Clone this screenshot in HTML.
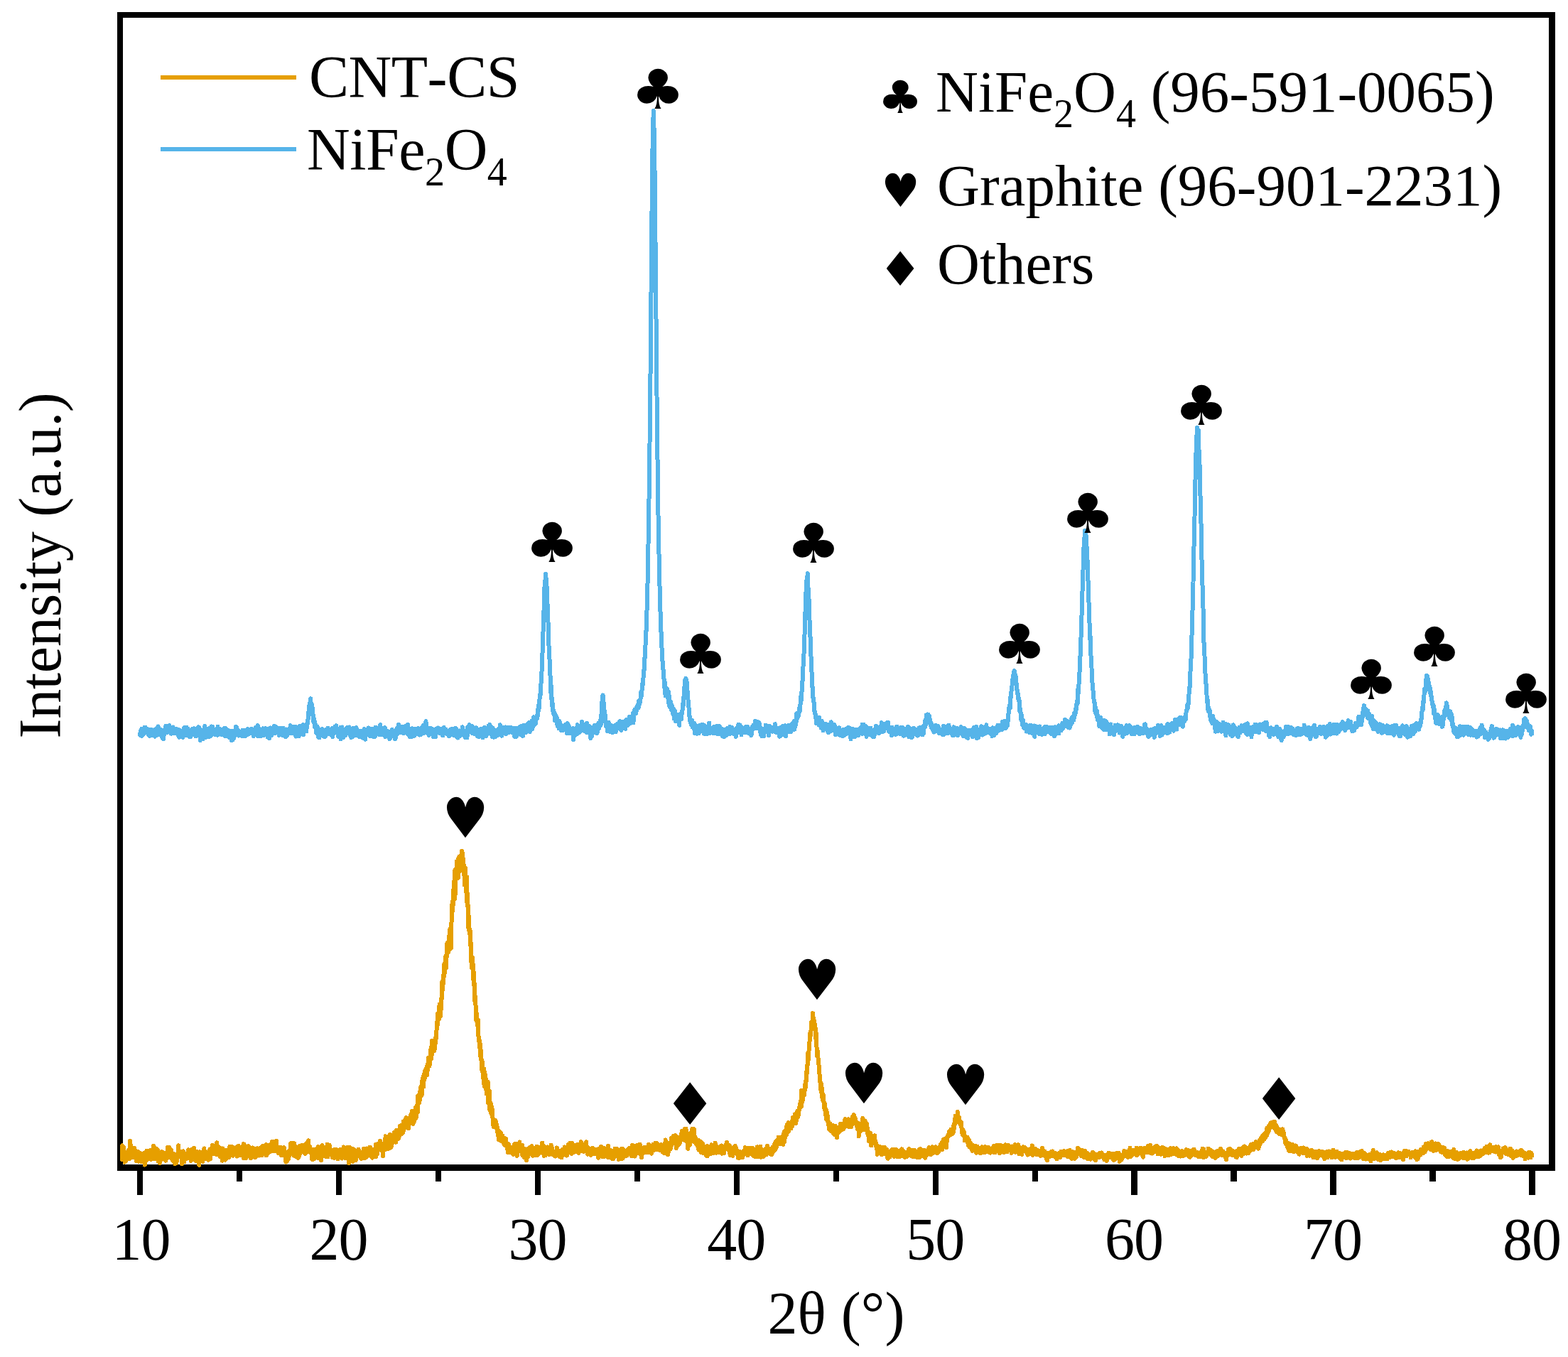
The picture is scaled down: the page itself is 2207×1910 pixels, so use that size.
<!DOCTYPE html>
<html lang="en"><head><meta charset="utf-8"><title>XRD patterns of CNT-CS and NiFe2O4</title>
<style>
html,body{margin:0;padding:0;background:#fff;}
body{width:2207px;height:1910px;overflow:hidden;}
svg{display:block;}
text{font-family:"Liberation Serif","DejaVu Serif",serif;fill:#000;font-kerning:none;}
.ds{font-family:"DejaVu Sans","Liberation Serif",sans-serif;}
</style></head><body>
<svg width="2207" height="1910" viewBox="0 0 2207 1910" role="img" aria-label="XRD patterns of CNT-CS and NiFe2O4">
<rect x="0" y="0" width="2207" height="1910" fill="#fff"/>
<defs><clipPath id="plotclip"><rect x="169" y="21" width="2016" height="1627"/></clipPath></defs>
<g fill="#000" shape-rendering="crispEdges">
<rect x="165" y="17" width="8" height="1631"/>
<rect x="165" y="17" width="2024" height="8"/>
<rect x="2180" y="17" width="9" height="1631"/>
<rect x="165" y="1639" width="2024" height="9"/>
<rect x="193" y="1647" width="8" height="35"/>
<rect x="333" y="1647" width="8" height="16"/>
<rect x="473" y="1647" width="8" height="35"/>
<rect x="613" y="1647" width="8" height="16"/>
<rect x="753" y="1647" width="8" height="35"/>
<rect x="893" y="1647" width="8" height="16"/>
<rect x="1033" y="1647" width="8" height="35"/>
<rect x="1173" y="1647" width="8" height="16"/>
<rect x="1313" y="1647" width="8" height="35"/>
<rect x="1453" y="1647" width="8" height="16"/>
<rect x="1592" y="1647" width="9" height="35"/>
<rect x="1732" y="1647" width="9" height="16"/>
<rect x="1872" y="1647" width="9" height="35"/>
<rect x="2012" y="1647" width="9" height="16"/>
<rect x="2152" y="1647" width="9" height="35"/>
</g>
<g clip-path="url(#plotclip)" fill="none" stroke-linejoin="round" stroke-linecap="butt" shape-rendering="crispEdges">
<path d="M163.4,1628.6L163.7,1626.9L164.0,1625.4L164.2,1615.3L164.5,1626.4L164.8,1615.0L165.1,1627.3L165.4,1625.3L165.6,1625.6L165.9,1625.0L166.2,1622.3L166.5,1618.4L166.8,1619.0L167.0,1626.6L167.3,1617.8L167.6,1619.5L167.9,1617.7L168.2,1618.9L168.4,1620.3L168.7,1623.1L169.0,1621.1L169.3,1621.1L169.6,1620.1L169.8,1623.0L170.1,1616.7L170.4,1622.2L170.7,1627.0L171.0,1617.6L171.2,1620.1L171.5,1631.7L171.8,1615.2L172.1,1612.3L172.4,1617.3L172.6,1626.9L172.9,1628.2L173.2,1615.0L173.5,1623.3L173.8,1621.7L174.0,1620.0L174.3,1615.2L174.6,1628.7L174.9,1621.7L175.2,1627.5L175.4,1627.4L175.7,1635.7L176.0,1633.4L176.3,1624.2L176.6,1628.4L176.8,1634.2L177.1,1624.4L177.4,1628.4L177.7,1631.0L178.0,1623.0L178.2,1624.3L178.5,1621.9L178.8,1629.8L179.1,1625.6L179.4,1631.2L179.6,1627.0L179.9,1628.2L180.2,1624.7L180.5,1627.5L180.8,1623.2L181.0,1618.9L181.3,1627.5L181.6,1626.3L181.9,1631.4L182.2,1621.1L182.4,1619.2L182.7,1615.7L183.0,1605.6L183.3,1616.6L183.6,1624.4L183.8,1618.9L184.1,1611.9L184.4,1625.6L184.7,1620.7L185.0,1621.7L185.2,1621.5L185.5,1622.7L185.8,1625.2L186.1,1615.8L186.4,1622.0L186.6,1620.7L186.9,1627.4L187.2,1618.1L187.5,1629.2L187.8,1624.7L188.0,1628.8L188.3,1619.0L188.6,1625.4L188.9,1623.6L189.2,1616.0L189.4,1621.6L189.7,1621.3L190.0,1619.8L190.3,1621.4L190.6,1619.4L190.8,1624.4L191.1,1628.7L191.4,1624.9L191.7,1622.4L192.0,1634.0L192.2,1628.6L192.5,1630.6L192.8,1629.6L193.1,1628.3L193.4,1632.8L193.6,1627.7L193.9,1629.5L194.2,1622.6L194.5,1621.1L194.8,1625.6L195.0,1634.6L195.3,1626.7L195.6,1633.5L195.9,1626.9L196.2,1626.7L196.4,1622.2L196.7,1624.6L197.0,1632.4L197.3,1630.1L197.6,1622.9L197.8,1624.0L198.1,1632.0L198.4,1624.8L198.7,1631.3L199.0,1624.1L199.2,1631.0L199.5,1635.1L199.8,1632.6L200.1,1630.3L200.4,1630.0L200.6,1629.2L200.9,1629.4L201.2,1634.4L201.5,1634.1L201.8,1630.9L202.0,1623.7L202.3,1626.7L202.6,1630.0L202.9,1628.9L203.2,1623.0L203.4,1631.4L203.7,1639.6L204.0,1623.7L204.3,1629.1L204.6,1635.7L204.8,1627.1L205.1,1627.1L205.4,1629.4L205.7,1630.9L206.0,1626.5L206.2,1632.0L206.5,1619.6L206.8,1630.0L207.1,1628.5L207.4,1626.0L207.6,1628.0L207.9,1626.4L208.2,1631.7L208.5,1624.3L208.8,1626.1L209.0,1620.7L209.3,1622.0L209.6,1625.9L209.9,1620.7L210.2,1623.8L210.4,1622.0L210.7,1625.5L211.0,1628.0L211.3,1631.3L211.6,1619.1L211.8,1626.0L212.1,1630.1L212.4,1631.9L212.7,1631.7L213.0,1619.5L213.2,1623.1L213.5,1627.4L213.8,1628.8L214.1,1626.0L214.4,1625.9L214.6,1625.8L214.9,1621.6L215.2,1625.5L215.5,1628.2L215.8,1623.4L216.0,1629.6L216.3,1612.8L216.6,1623.2L216.9,1631.4L217.2,1627.9L217.4,1630.1L217.7,1624.6L218.0,1619.0L218.3,1621.7L218.6,1630.1L218.8,1616.1L219.1,1619.7L219.4,1616.4L219.7,1621.2L220.0,1621.6L220.2,1625.6L220.5,1619.8L220.8,1630.4L221.1,1626.1L221.4,1621.8L221.6,1620.0L221.9,1618.4L222.2,1625.8L222.5,1634.3L222.8,1626.2L223.0,1623.4L223.3,1628.3L223.6,1627.1L223.9,1626.2L224.2,1622.6L224.4,1630.6L224.7,1637.1L225.0,1636.0L225.3,1634.7L225.6,1631.0L225.8,1631.5L226.1,1632.9L226.4,1627.7L226.7,1628.2L227.0,1624.6L227.2,1630.3L227.5,1621.2L227.8,1627.5L228.1,1628.1L228.4,1628.1L228.6,1627.8L228.9,1623.3L229.2,1623.3L229.5,1624.4L229.8,1625.1L230.0,1622.3L230.3,1625.5L230.6,1624.8L230.9,1623.5L231.2,1628.8L231.4,1623.9L231.7,1627.7L232.0,1632.3L232.3,1632.7L232.6,1625.3L232.8,1628.9L233.1,1625.3L233.4,1633.8L233.7,1630.5L234.0,1628.1L234.2,1622.7L234.5,1622.2L234.8,1625.5L235.1,1623.1L235.4,1622.3L235.6,1626.2L235.9,1618.1L236.2,1615.0L236.5,1619.1L236.7,1618.5L237.0,1623.0L237.3,1619.7L237.6,1622.5L237.9,1615.0L238.1,1629.5L238.4,1625.0L238.7,1619.8L239.0,1624.7L239.3,1628.6L239.5,1627.0L239.8,1623.2L240.1,1626.3L240.4,1627.6L240.7,1619.1L240.9,1618.4L241.2,1622.2L241.5,1629.0L241.8,1631.4L242.1,1626.1L242.3,1632.1L242.6,1630.3L242.9,1626.2L243.2,1623.7L243.5,1624.6L243.7,1628.0L244.0,1634.1L244.3,1632.3L244.6,1624.1L244.9,1625.1L245.1,1634.2L245.4,1632.3L245.7,1628.0L246.0,1635.1L246.3,1638.2L246.5,1635.8L246.8,1632.8L247.1,1637.5L247.4,1629.8L247.7,1628.2L247.9,1626.0L248.2,1636.8L248.5,1636.8L248.8,1626.9L249.1,1628.6L249.3,1627.2L249.6,1628.4L249.9,1628.9L250.2,1626.3L250.5,1622.8L250.7,1620.9L251.0,1618.9L251.3,1612.4L251.6,1623.1L251.9,1620.4L252.1,1624.3L252.4,1624.1L252.7,1620.7L253.0,1623.2L253.3,1627.2L253.5,1626.4L253.8,1622.2L254.1,1622.8L254.4,1628.4L254.7,1627.1L254.9,1627.6L255.2,1625.9L255.5,1629.9L255.8,1627.6L256.1,1638.0L256.3,1626.1L256.6,1625.6L256.9,1635.8L257.2,1629.0L257.5,1626.4L257.7,1631.5L258.0,1620.3L258.3,1631.7L258.6,1630.0L258.9,1631.0L259.1,1626.6L259.4,1635.3L259.7,1631.2L260.0,1629.8L260.3,1631.4L260.5,1626.5L260.8,1629.3L261.1,1623.5L261.4,1624.9L261.7,1630.3L261.9,1629.1L262.2,1631.2L262.5,1624.9L262.8,1626.7L263.1,1623.9L263.3,1627.3L263.6,1629.2L263.9,1630.2L264.2,1628.0L264.5,1622.5L264.7,1626.7L265.0,1621.7L265.3,1618.4L265.6,1627.2L265.9,1627.1L266.1,1630.0L266.4,1630.5L266.7,1622.3L267.0,1623.7L267.3,1627.5L267.5,1627.8L267.8,1629.1L268.1,1621.9L268.4,1625.9L268.7,1629.1L268.9,1633.8L269.2,1620.3L269.5,1631.5L269.8,1623.1L270.1,1617.8L270.3,1628.7L270.6,1618.5L270.9,1617.9L271.2,1625.6L271.5,1627.1L271.7,1623.4L272.0,1620.7L272.3,1618.1L272.6,1625.2L272.9,1615.8L273.1,1620.0L273.4,1630.8L273.7,1629.4L274.0,1632.3L274.3,1629.3L274.5,1623.2L274.8,1630.0L275.1,1620.8L275.4,1631.2L275.7,1634.0L275.9,1624.4L276.2,1632.8L276.5,1628.8L276.8,1628.0L277.1,1620.6L277.3,1628.0L277.6,1632.1L277.9,1621.5L278.2,1626.4L278.5,1625.4L278.7,1621.5L279.0,1632.1L279.3,1627.7L279.6,1627.6L279.9,1631.1L280.1,1623.8L280.4,1639.8L280.7,1624.4L281.0,1621.3L281.3,1628.4L281.5,1627.2L281.8,1621.7L282.1,1621.9L282.4,1628.9L282.7,1626.8L282.9,1627.4L283.2,1629.3L283.5,1623.3L283.8,1630.9L284.1,1625.8L284.3,1628.5L284.6,1621.7L284.9,1628.3L285.2,1626.3L285.5,1635.0L285.7,1624.2L286.0,1631.0L286.3,1627.4L286.6,1631.3L286.9,1626.0L287.1,1627.2L287.4,1616.4L287.7,1620.5L288.0,1630.1L288.3,1627.7L288.5,1629.2L288.8,1625.1L289.1,1629.3L289.4,1624.6L289.7,1625.8L289.9,1630.9L290.2,1630.3L290.5,1624.1L290.8,1626.0L291.1,1626.7L291.3,1625.2L291.6,1625.3L291.9,1621.9L292.2,1628.0L292.5,1621.4L292.7,1621.6L293.0,1630.5L293.3,1632.7L293.6,1632.6L293.9,1626.4L294.1,1622.6L294.4,1627.6L294.7,1630.8L295.0,1624.8L295.3,1622.6L295.5,1617.4L295.8,1617.3L296.1,1631.1L296.4,1618.0L296.7,1621.1L296.9,1622.4L297.2,1624.4L297.5,1617.7L297.8,1624.9L298.1,1624.4L298.3,1621.7L298.6,1618.3L298.9,1618.8L299.2,1612.0L299.5,1621.9L299.7,1616.9L300.0,1613.2L300.3,1618.5L300.6,1620.6L300.9,1620.1L301.1,1621.3L301.4,1623.7L301.7,1617.1L302.0,1620.2L302.3,1620.7L302.5,1613.9L302.8,1624.4L303.1,1618.8L303.4,1621.3L303.7,1621.6L303.9,1617.1L304.2,1623.8L304.5,1624.4L304.8,1621.0L305.1,1608.4L305.3,1625.4L305.6,1619.0L305.9,1616.6L306.2,1616.5L306.5,1614.2L306.7,1616.9L307.0,1620.8L307.3,1613.9L307.6,1619.5L307.9,1616.6L308.1,1618.4L308.4,1618.5L308.7,1621.8L309.0,1625.2L309.3,1621.5L309.5,1625.5L309.8,1628.1L310.1,1616.2L310.4,1625.2L310.7,1620.7L310.9,1621.0L311.2,1625.5L311.5,1620.5L311.8,1618.8L312.1,1626.6L312.3,1625.9L312.6,1623.5L312.9,1633.6L313.2,1618.5L313.5,1616.3L313.7,1622.4L314.0,1619.2L314.3,1625.8L314.6,1622.3L314.9,1622.8L315.1,1625.6L315.4,1622.5L315.7,1618.4L316.0,1623.4L316.2,1629.2L316.5,1627.2L316.8,1629.9L317.1,1632.6L317.4,1629.0L317.6,1624.8L317.9,1621.5L318.2,1626.1L318.5,1630.4L318.8,1629.3L319.0,1627.1L319.3,1620.0L319.6,1625.6L319.9,1626.2L320.2,1628.5L320.4,1618.6L320.7,1621.1L321.0,1624.8L321.3,1624.9L321.6,1622.1L321.8,1626.6L322.1,1623.2L322.4,1628.7L322.7,1621.8L323.0,1624.1L323.2,1614.1L323.5,1622.8L323.8,1618.6L324.1,1623.6L324.4,1619.5L324.6,1624.7L324.9,1617.3L325.2,1613.5L325.5,1620.3L325.8,1621.7L326.0,1616.5L326.3,1614.5L326.6,1623.0L326.9,1624.4L327.2,1623.2L327.4,1620.6L327.7,1620.1L328.0,1626.7L328.3,1623.1L328.6,1616.0L328.8,1615.1L329.1,1621.9L329.4,1622.4L329.7,1617.0L330.0,1616.6L330.2,1623.9L330.5,1619.1L330.8,1624.3L331.1,1616.9L331.4,1617.9L331.6,1615.4L331.9,1622.7L332.2,1621.4L332.5,1616.4L332.8,1623.8L333.0,1620.8L333.3,1621.6L333.6,1627.6L333.9,1625.1L334.2,1622.3L334.4,1618.1L334.7,1613.8L335.0,1615.2L335.3,1615.7L335.6,1621.8L335.8,1612.7L336.1,1614.1L336.4,1616.3L336.7,1618.2L337.0,1621.4L337.2,1622.9L337.5,1617.4L337.8,1626.4L338.1,1621.8L338.4,1616.3L338.6,1615.9L338.9,1618.5L339.2,1619.3L339.5,1623.6L339.8,1617.1L340.0,1618.0L340.3,1616.7L340.6,1621.0L340.9,1613.8L341.2,1621.7L341.4,1616.1L341.7,1618.2L342.0,1620.6L342.3,1620.0L342.6,1629.9L342.8,1614.9L343.1,1610.1L343.4,1613.3L343.7,1622.0L344.0,1614.4L344.2,1622.9L344.5,1618.0L344.8,1622.0L345.1,1612.9L345.4,1623.4L345.6,1623.9L345.9,1615.6L346.2,1624.7L346.5,1630.1L346.8,1619.5L347.0,1615.9L347.3,1617.4L347.6,1618.8L347.9,1624.2L348.2,1627.7L348.4,1618.8L348.7,1619.7L349.0,1615.2L349.3,1618.9L349.6,1623.1L349.8,1613.3L350.1,1624.3L350.4,1625.4L350.7,1626.8L351.0,1619.8L351.2,1616.0L351.5,1621.3L351.8,1618.4L352.1,1615.5L352.4,1619.6L352.6,1617.0L352.9,1630.4L353.2,1625.5L353.5,1626.0L353.8,1617.9L354.0,1627.8L354.3,1620.7L354.6,1625.6L354.9,1618.0L355.2,1624.6L355.4,1615.4L355.7,1621.5L356.0,1621.3L356.3,1616.8L356.6,1622.5L356.8,1620.3L357.1,1621.1L357.4,1625.7L357.7,1628.1L358.0,1622.1L358.2,1628.2L358.5,1627.1L358.8,1626.1L359.1,1629.5L359.4,1617.1L359.6,1628.5L359.9,1624.6L360.2,1621.5L360.5,1622.3L360.8,1626.9L361.0,1627.5L361.3,1625.4L361.6,1617.6L361.9,1616.2L362.2,1622.0L362.4,1624.1L362.7,1618.6L363.0,1624.7L363.3,1623.5L363.6,1622.9L363.8,1617.8L364.1,1625.9L364.4,1624.8L364.7,1626.5L365.0,1622.7L365.2,1616.3L365.5,1623.0L365.8,1625.1L366.1,1621.2L366.4,1617.3L366.6,1624.1L366.9,1624.3L367.2,1616.6L367.5,1618.4L367.8,1615.2L368.0,1621.8L368.3,1620.8L368.6,1626.5L368.9,1615.5L369.2,1624.0L369.4,1617.3L369.7,1618.9L370.0,1612.5L370.3,1617.3L370.6,1614.8L370.8,1616.3L371.1,1617.4L371.4,1618.6L371.7,1620.0L372.0,1616.6L372.2,1613.2L372.5,1621.0L372.8,1617.4L373.1,1614.8L373.4,1622.8L373.6,1618.7L373.9,1620.6L374.2,1611.2L374.5,1615.7L374.8,1626.4L375.0,1620.7L375.3,1621.0L375.6,1616.6L375.9,1619.3L376.2,1621.7L376.4,1620.3L376.7,1620.4L377.0,1614.1L377.3,1617.9L377.6,1619.2L377.8,1623.0L378.1,1622.4L378.4,1619.7L378.7,1616.3L379.0,1615.5L379.2,1618.6L379.5,1611.5L379.8,1615.2L380.1,1614.1L380.4,1613.8L380.6,1620.9L380.9,1613.3L381.2,1617.1L381.5,1619.9L381.8,1615.6L382.0,1613.7L382.3,1608.8L382.6,1620.5L382.9,1609.9L383.2,1606.5L383.4,1619.2L383.7,1609.5L384.0,1610.8L384.3,1613.0L384.6,1611.4L384.8,1607.6L385.1,1617.1L385.4,1618.3L385.7,1619.3L386.0,1616.1L386.2,1614.4L386.5,1613.7L386.8,1620.3L387.1,1618.6L387.4,1613.3L387.6,1616.2L387.9,1610.2L388.2,1617.0L388.5,1610.9L388.8,1614.9L389.0,1615.0L389.3,1605.8L389.6,1619.6L389.9,1617.4L390.2,1615.0L390.4,1615.8L390.7,1618.8L391.0,1619.0L391.3,1621.8L391.6,1620.9L391.8,1622.9L392.1,1621.5L392.4,1615.1L392.7,1615.0L393.0,1622.2L393.2,1621.8L393.5,1620.1L393.8,1614.9L394.1,1617.2L394.3,1616.7L394.6,1622.5L394.9,1616.8L395.2,1614.7L395.5,1617.0L395.7,1621.4L396.0,1626.4L396.3,1618.3L396.6,1624.6L396.9,1618.3L397.1,1618.2L397.4,1616.3L397.7,1622.4L398.0,1617.2L398.3,1622.6L398.5,1617.2L398.8,1625.6L399.1,1619.8L399.4,1619.5L399.7,1615.1L399.9,1625.4L400.2,1622.2L400.5,1622.1L400.8,1622.7L401.1,1621.5L401.3,1622.1L401.6,1626.2L401.9,1622.4L402.2,1625.6L402.5,1635.6L402.7,1626.8L403.0,1626.7L403.3,1631.8L403.6,1625.0L403.9,1634.6L404.1,1629.5L404.4,1625.2L404.7,1629.3L405.0,1627.1L405.3,1632.2L405.5,1627.3L405.8,1631.3L406.1,1620.3L406.4,1625.2L406.7,1628.1L406.9,1626.9L407.2,1624.1L407.5,1625.9L407.8,1625.1L408.1,1621.3L408.3,1621.4L408.6,1623.5L408.9,1620.2L409.2,1609.2L409.5,1612.7L409.7,1616.1L410.0,1621.0L410.3,1618.5L410.6,1620.6L410.9,1621.9L411.1,1620.0L411.4,1614.2L411.7,1621.1L412.0,1612.6L412.3,1612.8L412.5,1616.0L412.8,1608.9L413.1,1624.1L413.4,1626.7L413.7,1616.9L413.9,1616.0L414.2,1609.4L414.5,1619.7L414.8,1615.1L415.1,1613.3L415.3,1613.0L415.6,1618.4L415.9,1618.5L416.2,1619.5L416.5,1618.3L416.7,1614.8L417.0,1627.8L417.3,1626.1L417.6,1621.4L417.9,1619.1L418.1,1620.9L418.4,1627.9L418.7,1627.3L419.0,1626.4L419.3,1629.8L419.5,1622.6L419.8,1629.8L420.1,1624.2L420.4,1620.0L420.7,1624.1L420.9,1622.6L421.2,1618.0L421.5,1626.9L421.8,1613.1L422.1,1619.8L422.3,1619.9L422.6,1615.2L422.9,1617.8L423.2,1622.3L423.5,1612.6L423.7,1612.5L424.0,1615.2L424.3,1618.3L424.6,1620.6L424.9,1618.6L425.1,1612.1L425.4,1621.0L425.7,1619.8L426.0,1621.5L426.3,1611.7L426.5,1612.1L426.8,1616.6L427.1,1618.0L427.4,1620.1L427.7,1616.4L427.9,1616.7L428.2,1622.5L428.5,1612.6L428.8,1615.9L429.1,1620.1L429.3,1622.3L429.6,1619.7L429.9,1624.0L430.2,1618.2L430.5,1618.9L430.7,1618.5L431.0,1614.9L431.3,1609.1L431.6,1612.7L431.9,1612.8L432.1,1610.2L432.4,1616.1L432.7,1611.7L433.0,1608.3L433.3,1614.3L433.5,1610.9L433.8,1617.1L434.1,1605.3L434.4,1609.0L434.7,1615.7L434.9,1616.7L435.2,1616.1L435.5,1621.6L435.8,1614.9L436.1,1614.0L436.3,1619.3L436.6,1615.2L436.9,1618.3L437.2,1622.2L437.5,1617.4L437.7,1618.3L438.0,1617.3L438.3,1622.0L438.6,1623.8L438.9,1626.4L439.1,1625.9L439.4,1631.9L439.7,1625.7L440.0,1626.4L440.3,1625.5L440.5,1632.0L440.8,1627.9L441.1,1626.8L441.4,1623.1L441.7,1627.6L441.9,1631.2L442.2,1617.9L442.5,1623.1L442.8,1623.3L443.1,1623.1L443.3,1625.8L443.6,1623.6L443.9,1624.9L444.2,1624.9L444.5,1628.3L444.7,1621.7L445.0,1623.5L445.3,1620.9L445.6,1622.0L445.9,1619.8L446.1,1616.6L446.4,1622.4L446.7,1625.1L447.0,1617.6L447.3,1621.3L447.5,1621.7L447.8,1614.2L448.1,1630.0L448.4,1628.7L448.7,1628.1L448.9,1627.8L449.2,1621.3L449.5,1615.7L449.8,1624.9L450.1,1625.7L450.3,1624.5L450.6,1624.0L450.9,1629.3L451.2,1628.5L451.5,1625.3L451.7,1623.2L452.0,1633.3L452.3,1627.5L452.6,1624.3L452.9,1618.6L453.1,1617.2L453.4,1612.2L453.7,1621.2L454.0,1622.9L454.3,1620.8L454.5,1621.2L454.8,1622.0L455.1,1624.1L455.4,1614.3L455.7,1616.3L455.9,1624.3L456.2,1622.1L456.5,1623.0L456.8,1617.5L457.1,1627.0L457.3,1621.9L457.6,1620.7L457.9,1618.4L458.2,1622.5L458.5,1622.5L458.7,1621.6L459.0,1628.1L459.3,1626.4L459.6,1621.9L459.9,1619.6L460.1,1620.0L460.4,1622.7L460.7,1610.8L461.0,1622.1L461.3,1619.9L461.5,1628.5L461.8,1622.0L462.1,1619.6L462.4,1620.2L462.7,1617.4L462.9,1617.0L463.2,1619.1L463.5,1611.7L463.8,1619.1L464.1,1612.7L464.3,1616.3L464.6,1616.3L464.9,1621.8L465.2,1625.3L465.5,1625.0L465.7,1618.2L466.0,1619.4L466.3,1620.7L466.6,1621.4L466.9,1625.3L467.1,1623.9L467.4,1621.6L467.7,1629.1L468.0,1625.6L468.3,1629.4L468.5,1622.6L468.8,1625.2L469.1,1624.6L469.4,1624.2L469.7,1619.9L469.9,1624.8L470.2,1618.4L470.5,1625.2L470.8,1630.0L471.1,1627.6L471.3,1624.2L471.6,1621.7L471.9,1625.4L472.2,1618.6L472.5,1617.9L472.7,1617.7L473.0,1624.2L473.3,1618.1L473.6,1625.6L473.8,1627.7L474.1,1626.9L474.4,1624.4L474.7,1626.7L475.0,1620.8L475.2,1626.1L475.5,1631.5L475.8,1630.4L476.1,1618.8L476.4,1623.9L476.6,1622.4L476.9,1626.5L477.2,1623.6L477.5,1621.7L477.8,1619.4L478.0,1622.2L478.3,1621.0L478.6,1622.0L478.9,1621.5L479.2,1617.9L479.4,1624.5L479.7,1625.1L480.0,1624.7L480.3,1625.2L480.6,1629.0L480.8,1628.6L481.1,1630.6L481.4,1626.9L481.7,1627.1L482.0,1623.8L482.2,1619.4L482.5,1618.6L482.8,1624.7L483.1,1623.1L483.4,1624.7L483.6,1614.4L483.9,1622.3L484.2,1623.9L484.5,1622.5L484.8,1623.3L485.0,1618.0L485.3,1624.5L485.6,1629.7L485.9,1621.0L486.2,1627.2L486.4,1622.3L486.7,1625.4L487.0,1629.7L487.3,1624.2L487.6,1625.0L487.8,1625.7L488.1,1622.9L488.4,1627.4L488.7,1615.2L489.0,1621.4L489.2,1615.5L489.5,1617.0L489.8,1622.7L490.1,1618.4L490.4,1621.4L490.6,1628.1L490.9,1625.2L491.2,1637.2L491.5,1623.1L491.8,1623.9L492.0,1614.7L492.3,1623.9L492.6,1622.4L492.9,1626.0L493.2,1624.5L493.4,1622.0L493.7,1617.2L494.0,1627.2L494.3,1621.8L494.6,1618.0L494.8,1625.8L495.1,1617.0L495.4,1622.1L495.7,1616.8L496.0,1623.3L496.2,1618.1L496.5,1635.1L496.8,1628.5L497.1,1626.1L497.4,1625.6L497.6,1626.7L497.9,1627.3L498.2,1625.2L498.5,1620.1L498.8,1624.8L499.0,1618.4L499.3,1622.9L499.6,1625.8L499.9,1620.3L500.2,1626.1L500.4,1622.7L500.7,1633.4L501.0,1623.2L501.3,1626.4L501.6,1626.8L501.8,1624.8L502.1,1625.2L502.4,1622.7L502.7,1623.7L503.0,1623.4L503.2,1625.3L503.5,1626.5L503.8,1621.4L504.1,1626.4L504.4,1621.0L504.6,1617.6L504.9,1619.6L505.2,1619.0L505.5,1620.9L505.8,1622.5L506.0,1623.5L506.3,1627.6L506.6,1626.5L506.9,1622.7L507.2,1626.7L507.4,1624.8L507.7,1628.3L508.0,1630.3L508.3,1625.4L508.6,1628.8L508.8,1631.0L509.1,1627.2L509.4,1621.6L509.7,1625.0L510.0,1621.8L510.2,1628.4L510.5,1625.1L510.8,1625.2L511.1,1630.3L511.4,1626.4L511.6,1624.1L511.9,1617.0L512.2,1621.9L512.5,1621.5L512.8,1623.7L513.0,1620.1L513.3,1627.3L513.6,1629.8L513.9,1624.1L514.2,1620.2L514.4,1626.0L514.7,1624.8L515.0,1629.2L515.3,1625.3L515.6,1622.7L515.8,1620.2L516.1,1625.2L516.4,1616.5L516.7,1620.9L517.0,1627.5L517.2,1624.2L517.5,1624.4L517.8,1623.4L518.1,1618.9L518.4,1622.1L518.6,1624.8L518.9,1624.5L519.2,1618.2L519.5,1621.8L519.8,1624.5L520.0,1621.7L520.3,1626.1L520.6,1620.5L520.9,1614.5L521.2,1620.6L521.4,1621.5L521.7,1623.7L522.0,1623.5L522.3,1627.5L522.6,1624.4L522.8,1623.2L523.1,1620.7L523.4,1621.8L523.7,1627.4L524.0,1629.6L524.2,1623.9L524.5,1623.2L524.8,1621.7L525.1,1623.2L525.4,1622.4L525.6,1620.2L525.9,1625.2L526.2,1617.7L526.5,1622.1L526.8,1622.0L527.0,1623.6L527.3,1620.4L527.6,1617.2L527.9,1620.1L528.2,1616.3L528.4,1618.5L528.7,1616.6L529.0,1628.1L529.3,1610.7L529.6,1613.9L529.8,1622.5L530.1,1616.8L530.4,1612.1L530.7,1619.1L531.0,1624.1L531.2,1616.0L531.5,1618.6L531.8,1609.8L532.1,1612.1L532.4,1614.5L532.6,1613.9L532.9,1610.1L533.2,1610.0L533.5,1609.4L533.8,1608.4L534.0,1609.0L534.3,1608.7L534.6,1612.6L534.9,1605.6L535.2,1613.0L535.4,1618.1L535.7,1612.4L536.0,1610.4L536.3,1609.1L536.6,1611.2L536.8,1609.0L537.1,1615.0L537.4,1614.1L537.7,1617.8L538.0,1616.3L538.2,1618.6L538.5,1621.6L538.8,1619.8L539.1,1626.9L539.4,1620.7L539.6,1614.5L539.9,1618.6L540.2,1618.9L540.5,1616.0L540.8,1617.9L541.0,1616.6L541.3,1618.8L541.6,1612.3L541.9,1608.3L542.2,1609.4L542.4,1602.8L542.7,1599.3L543.0,1605.1L543.3,1606.9L543.6,1606.1L543.8,1613.6L544.1,1604.7L544.4,1604.5L544.7,1617.5L545.0,1603.7L545.2,1613.1L545.5,1609.7L545.8,1600.0L546.1,1614.0L546.4,1608.5L546.6,1611.0L546.9,1610.0L547.2,1610.0L547.5,1611.9L547.8,1616.6L548.0,1608.6L548.3,1606.5L548.6,1610.7L548.9,1608.9L549.2,1596.7L549.4,1608.8L549.7,1605.4L550.0,1606.1L550.3,1601.2L550.6,1614.9L550.8,1609.2L551.1,1605.2L551.4,1605.2L551.7,1606.0L551.9,1606.0L552.2,1609.3L552.5,1607.1L552.8,1602.7L553.1,1603.0L553.3,1605.7L553.6,1598.2L553.9,1599.7L554.2,1604.5L554.5,1599.9L554.7,1605.3L555.0,1594.2L555.3,1596.9L555.6,1595.4L555.9,1595.3L556.1,1602.3L556.4,1603.9L556.7,1600.1L557.0,1599.5L557.3,1607.7L557.5,1607.0L557.8,1591.3L558.1,1599.5L558.4,1590.8L558.7,1592.4L558.9,1595.6L559.2,1593.0L559.5,1599.9L559.8,1595.0L560.1,1595.3L560.3,1595.5L560.6,1603.0L560.9,1596.4L561.2,1598.7L561.5,1596.7L561.7,1599.3L562.0,1593.8L562.3,1592.9L562.6,1598.3L562.9,1593.0L563.1,1584.9L563.4,1585.9L563.7,1589.1L564.0,1592.8L564.3,1586.9L564.5,1596.6L564.8,1591.6L565.1,1588.3L565.4,1583.8L565.7,1592.1L565.9,1591.5L566.2,1583.4L566.5,1594.2L566.8,1593.6L567.1,1594.6L567.3,1587.7L567.6,1591.9L567.9,1578.4L568.2,1589.2L568.5,1585.2L568.7,1586.2L569.0,1588.2L569.3,1582.4L569.6,1584.0L569.9,1579.5L570.1,1579.6L570.4,1577.3L570.7,1583.3L571.0,1586.9L571.3,1576.3L571.5,1573.2L571.8,1579.5L572.1,1582.4L572.4,1581.9L572.7,1575.7L572.9,1581.4L573.2,1577.8L573.5,1580.0L573.8,1581.4L574.1,1580.0L574.3,1583.9L574.6,1579.1L574.9,1588.0L575.2,1580.9L575.5,1574.3L575.7,1583.4L576.0,1582.0L576.3,1578.5L576.6,1576.5L576.9,1577.3L577.1,1579.1L577.4,1574.0L577.7,1578.0L578.0,1571.0L578.3,1575.9L578.5,1568.6L578.8,1574.9L579.1,1575.9L579.4,1570.5L579.7,1574.8L579.9,1564.1L580.2,1572.5L580.5,1571.7L580.8,1575.9L581.1,1572.6L581.3,1577.6L581.6,1581.8L581.9,1572.9L582.2,1576.5L582.5,1580.2L582.7,1576.4L583.0,1576.8L583.3,1570.1L583.6,1572.6L583.9,1565.3L584.1,1574.1L584.4,1571.4L584.7,1570.9L585.0,1558.8L585.3,1572.5L585.5,1574.2L585.8,1572.6L586.1,1566.9L586.4,1570.1L586.7,1562.3L586.9,1557.4L587.2,1559.0L587.5,1554.2L587.8,1565.4L588.1,1542.3L588.3,1554.9L588.6,1547.8L588.9,1548.1L589.2,1553.4L589.5,1547.9L589.7,1552.8L590.0,1544.9L590.3,1543.7L590.6,1543.6L590.9,1548.5L591.1,1536.9L591.4,1537.8L591.7,1535.5L592.0,1535.0L592.3,1530.0L592.5,1534.3L592.8,1537.6L593.1,1542.3L593.4,1536.4L593.7,1529.9L593.9,1540.2L594.2,1521.7L594.5,1532.7L594.8,1521.9L595.1,1526.3L595.3,1517.8L595.6,1515.0L595.9,1518.5L596.2,1529.7L596.5,1520.0L596.7,1521.4L597.0,1513.1L597.3,1514.0L597.6,1508.6L597.9,1508.9L598.1,1509.9L598.4,1516.7L598.7,1512.8L599.0,1506.4L599.3,1509.2L599.5,1504.7L599.8,1512.1L600.1,1509.8L600.4,1508.8L600.7,1510.5L600.9,1508.7L601.2,1512.9L601.5,1498.9L601.8,1506.7L602.1,1500.3L602.3,1505.9L602.6,1496.6L602.9,1488.9L603.2,1495.2L603.5,1493.0L603.7,1489.3L604.0,1492.4L604.3,1500.4L604.6,1490.3L604.9,1495.1L605.1,1498.1L605.4,1494.7L605.7,1490.1L606.0,1491.8L606.3,1482.5L606.5,1476.2L606.8,1474.0L607.1,1488.3L607.4,1490.2L607.7,1479.1L607.9,1480.2L608.2,1464.7L608.5,1482.7L608.8,1476.5L609.1,1464.5L609.3,1478.4L609.6,1478.1L609.9,1478.7L610.2,1471.8L610.5,1473.4L610.7,1465.4L611.0,1479.4L611.3,1467.4L611.6,1477.1L611.9,1471.7L612.1,1465.9L612.4,1475.0L612.7,1460.9L613.0,1466.3L613.3,1463.2L613.5,1459.6L613.8,1459.6L614.1,1460.9L614.4,1451.2L614.7,1447.9L614.9,1447.4L615.2,1442.4L615.5,1436.9L615.8,1443.0L616.1,1426.9L616.3,1435.9L616.6,1431.0L616.9,1433.3L617.2,1433.5L617.5,1430.3L617.7,1426.8L618.0,1434.5L618.3,1420.1L618.6,1413.8L618.9,1419.1L619.1,1424.3L619.4,1430.6L619.7,1431.1L620.0,1417.3L620.3,1421.3L620.5,1422.9L620.8,1406.0L621.1,1418.3L621.4,1408.8L621.7,1402.6L621.9,1405.3L622.2,1403.7L622.5,1381.5L622.8,1394.0L623.1,1392.0L623.3,1382.0L623.6,1385.5L623.9,1378.1L624.2,1372.1L624.5,1374.6L624.7,1357.9L625.0,1374.1L625.3,1373.1L625.6,1369.7L625.9,1370.0L626.1,1360.9L626.4,1358.4L626.7,1347.5L627.0,1346.1L627.3,1352.0L627.5,1363.1L627.8,1353.5L628.1,1362.0L628.4,1355.1L628.7,1338.4L628.9,1339.2L629.2,1332.8L629.5,1327.6L629.8,1339.2L630.1,1340.8L630.3,1326.5L630.6,1341.1L630.9,1338.5L631.2,1325.7L631.4,1332.2L631.7,1320.6L632.0,1327.7L632.3,1330.9L632.6,1310.1L632.8,1336.3L633.1,1308.4L633.4,1321.6L633.7,1314.8L634.0,1324.0L634.2,1306.6L634.5,1307.0L634.8,1334.4L635.1,1318.9L635.4,1308.1L635.6,1290.6L635.9,1295.5L636.2,1273.9L636.5,1277.0L636.8,1283.4L637.0,1282.4L637.3,1268.6L637.6,1274.4L637.9,1271.9L638.2,1252.7L638.4,1260.8L638.7,1255.6L639.0,1266.5L639.3,1240.5L639.6,1253.9L639.8,1246.7L640.1,1264.9L640.4,1224.3L640.7,1259.2L641.0,1240.6L641.2,1246.0L641.5,1226.1L641.8,1226.5L642.1,1235.1L642.4,1236.9L642.6,1212.4L642.9,1227.8L643.2,1228.5L643.5,1230.0L643.8,1236.6L644.0,1231.8L644.3,1224.9L644.6,1214.2L644.9,1208.9L645.2,1223.5L645.4,1234.8L645.7,1219.5L646.0,1226.8L646.3,1205.9L646.6,1224.4L646.8,1212.6L647.1,1214.8L647.4,1219.5L647.7,1219.9L648.0,1214.6L648.2,1215.3L648.5,1214.3L648.8,1203.8L649.1,1207.3L649.4,1209.9L649.6,1225.2L649.9,1198.0L650.2,1210.3L650.5,1219.3L650.8,1217.0L651.0,1202.6L651.3,1200.8L651.6,1209.2L651.9,1218.9L652.2,1225.6L652.4,1218.0L652.7,1223.1L653.0,1220.3L653.3,1218.1L653.6,1239.0L653.8,1245.6L654.1,1229.6L654.4,1224.8L654.7,1239.7L655.0,1221.3L655.2,1223.7L655.5,1238.4L655.8,1254.8L656.1,1236.0L656.4,1241.5L656.6,1256.8L656.9,1234.6L657.2,1234.2L657.5,1271.1L657.8,1265.0L658.0,1257.5L658.3,1270.9L658.6,1280.1L658.9,1275.7L659.2,1305.8L659.4,1275.5L659.7,1308.8L660.0,1303.3L660.3,1306.0L660.6,1310.8L660.8,1307.0L661.1,1314.3L661.4,1315.1L661.7,1310.5L662.0,1330.6L662.2,1317.9L662.5,1324.1L662.8,1351.0L663.1,1334.2L663.4,1353.8L663.6,1354.9L663.9,1348.7L664.2,1362.0L664.5,1347.4L664.8,1347.1L665.0,1352.4L665.3,1355.3L665.6,1364.0L665.9,1377.6L666.2,1358.4L666.4,1365.6L666.7,1370.7L667.0,1376.5L667.3,1375.9L667.6,1392.9L667.8,1384.1L668.1,1384.6L668.4,1408.6L668.7,1411.0L669.0,1405.0L669.2,1402.9L669.5,1414.6L669.8,1422.5L670.1,1432.1L670.4,1436.1L670.6,1425.5L670.9,1431.0L671.2,1431.8L671.5,1436.2L671.8,1435.1L672.0,1438.1L672.3,1441.9L672.6,1446.2L672.9,1435.7L673.2,1447.7L673.4,1457.9L673.7,1458.7L674.0,1463.0L674.3,1466.1L674.6,1467.6L674.8,1473.8L675.1,1470.1L675.4,1465.0L675.7,1483.3L676.0,1480.2L676.2,1469.8L676.5,1488.1L676.8,1489.9L677.1,1479.2L677.4,1491.9L677.6,1491.0L677.9,1495.5L678.2,1491.9L678.5,1507.4L678.8,1493.7L679.0,1495.1L679.3,1500.7L679.6,1504.8L679.9,1503.4L680.2,1517.0L680.4,1503.9L680.7,1524.5L681.0,1504.2L681.3,1516.1L681.6,1524.6L681.8,1528.9L682.1,1515.6L682.4,1509.5L682.7,1514.8L683.0,1516.9L683.2,1524.4L683.5,1516.4L683.8,1527.8L684.1,1518.5L684.4,1529.0L684.6,1539.5L684.9,1531.1L685.2,1534.8L685.5,1531.1L685.8,1530.1L686.0,1536.3L686.3,1538.6L686.6,1522.6L686.9,1535.3L687.2,1552.1L687.4,1546.3L687.7,1546.2L688.0,1545.0L688.3,1546.7L688.6,1549.4L688.8,1535.5L689.1,1561.3L689.4,1555.9L689.7,1551.2L690.0,1562.6L690.2,1556.6L690.5,1565.1L690.8,1556.5L691.1,1564.6L691.4,1554.0L691.6,1567.3L691.9,1557.5L692.2,1566.1L692.5,1569.5L692.8,1561.6L693.0,1571.4L693.3,1570.4L693.6,1574.7L693.9,1580.2L694.2,1577.3L694.4,1584.4L694.7,1576.3L695.0,1576.8L695.3,1586.3L695.6,1578.0L695.8,1584.7L696.1,1579.6L696.4,1583.2L696.7,1585.2L697.0,1580.1L697.2,1580.3L697.5,1577.0L697.8,1586.8L698.1,1579.7L698.4,1579.8L698.6,1584.1L698.9,1583.7L699.2,1582.7L699.5,1588.6L699.8,1588.7L700.0,1586.7L700.3,1588.7L700.6,1597.2L700.9,1593.5L701.2,1591.9L701.4,1594.6L701.7,1597.9L702.0,1604.1L702.3,1592.0L702.6,1598.9L702.8,1595.2L703.1,1598.8L703.4,1595.5L703.7,1594.8L704.0,1594.8L704.2,1595.8L704.5,1599.0L704.8,1605.6L705.1,1594.4L705.4,1595.5L705.6,1597.4L705.9,1605.6L706.2,1605.9L706.5,1606.3L706.8,1603.6L707.0,1602.2L707.3,1598.3L707.6,1603.8L707.9,1605.4L708.2,1603.2L708.4,1603.1L708.7,1601.5L709.0,1608.0L709.3,1606.4L709.5,1610.5L709.8,1605.0L710.1,1605.3L710.4,1612.0L710.7,1608.2L710.9,1602.4L711.2,1605.7L711.5,1605.0L711.8,1608.5L712.1,1602.8L712.3,1612.8L712.6,1613.3L712.9,1611.0L713.2,1611.5L713.5,1611.9L713.7,1610.8L714.0,1616.8L714.3,1609.6L714.6,1622.1L714.9,1610.0L715.1,1615.2L715.4,1611.2L715.7,1612.4L716.0,1615.0L716.3,1610.8L716.5,1618.5L716.8,1617.7L717.1,1619.4L717.4,1620.3L717.7,1615.0L717.9,1617.2L718.2,1617.1L718.5,1621.9L718.8,1617.4L719.1,1614.8L719.3,1619.0L719.6,1616.4L719.9,1620.9L720.2,1622.7L720.5,1621.5L720.7,1615.5L721.0,1621.4L721.3,1615.4L721.6,1617.3L721.9,1621.9L722.1,1619.4L722.4,1625.0L722.7,1621.4L723.0,1619.1L723.3,1622.2L723.5,1618.4L723.8,1622.5L724.1,1610.2L724.4,1617.4L724.7,1614.4L724.9,1617.1L725.2,1615.6L725.5,1624.3L725.8,1619.8L726.1,1617.7L726.3,1621.4L726.6,1610.2L726.9,1623.8L727.2,1612.5L727.5,1620.5L727.7,1627.0L728.0,1616.7L728.3,1617.6L728.6,1613.0L728.9,1614.1L729.1,1621.0L729.4,1620.1L729.7,1617.4L730.0,1619.5L730.3,1616.0L730.5,1613.8L730.8,1614.9L731.1,1611.7L731.4,1607.5L731.7,1614.2L731.9,1616.4L732.2,1619.0L732.5,1617.3L732.8,1614.5L733.1,1613.0L733.3,1616.0L733.6,1618.0L733.9,1617.3L734.2,1616.4L734.5,1620.0L734.7,1611.5L735.0,1622.1L735.3,1626.3L735.6,1616.7L735.9,1623.4L736.1,1620.4L736.4,1619.5L736.7,1624.6L737.0,1624.7L737.3,1622.1L737.5,1628.8L737.8,1624.8L738.1,1616.8L738.4,1628.2L738.7,1623.4L738.9,1628.3L739.2,1619.4L739.5,1619.5L739.8,1620.9L740.1,1623.4L740.3,1624.6L740.6,1619.4L740.9,1633.4L741.2,1618.4L741.5,1620.1L741.7,1628.2L742.0,1627.6L742.3,1626.3L742.6,1622.3L742.9,1621.4L743.1,1628.4L743.4,1616.4L743.7,1618.6L744.0,1620.6L744.3,1621.0L744.5,1623.8L744.8,1620.4L745.1,1620.8L745.4,1621.1L745.7,1618.2L745.9,1619.8L746.2,1614.8L746.5,1615.3L746.8,1618.3L747.1,1616.9L747.3,1620.2L747.6,1618.3L747.9,1619.2L748.2,1621.7L748.5,1613.0L748.7,1615.4L749.0,1618.5L749.3,1626.0L749.6,1618.9L749.9,1626.7L750.1,1624.3L750.4,1621.4L750.7,1622.5L751.0,1623.0L751.3,1619.5L751.5,1625.7L751.8,1622.0L752.1,1620.1L752.4,1617.8L752.7,1621.4L752.9,1621.1L753.2,1621.8L753.5,1626.5L753.8,1620.9L754.1,1616.8L754.3,1616.9L754.6,1615.2L754.9,1616.5L755.2,1615.8L755.5,1623.7L755.7,1613.5L756.0,1626.0L756.3,1619.4L756.6,1617.1L756.9,1618.9L757.1,1621.4L757.4,1621.6L757.7,1619.5L758.0,1624.3L758.3,1616.1L758.5,1617.0L758.8,1622.1L759.1,1614.9L759.4,1616.3L759.7,1620.3L759.9,1620.2L760.2,1619.9L760.5,1619.9L760.8,1617.4L761.1,1617.9L761.3,1617.6L761.6,1616.8L761.9,1619.9L762.2,1616.8L762.5,1619.4L762.7,1616.5L763.0,1619.4L763.3,1608.6L763.6,1623.0L763.9,1613.5L764.1,1615.4L764.4,1615.1L764.7,1623.4L765.0,1612.7L765.3,1616.9L765.5,1617.6L765.8,1627.0L766.1,1624.3L766.4,1617.3L766.7,1619.8L766.9,1621.6L767.2,1618.8L767.5,1626.4L767.8,1622.8L768.1,1616.1L768.3,1621.9L768.6,1621.4L768.9,1619.8L769.2,1622.0L769.5,1623.3L769.7,1619.9L770.0,1618.4L770.3,1621.5L770.6,1614.4L770.9,1623.3L771.1,1615.5L771.4,1620.4L771.7,1619.3L772.0,1621.8L772.3,1618.2L772.5,1621.5L772.8,1614.8L773.1,1625.0L773.4,1622.4L773.7,1623.7L773.9,1618.9L774.2,1621.4L774.5,1619.2L774.8,1620.5L775.1,1616.9L775.3,1620.2L775.6,1611.6L775.9,1623.9L776.2,1616.1L776.5,1623.1L776.7,1624.8L777.0,1622.6L777.3,1616.5L777.6,1621.5L777.9,1623.0L778.1,1623.5L778.4,1622.6L778.7,1621.8L779.0,1620.9L779.3,1621.5L779.5,1623.3L779.8,1622.9L780.1,1622.4L780.4,1622.5L780.7,1624.0L780.9,1622.0L781.2,1627.0L781.5,1624.0L781.8,1627.6L782.1,1621.1L782.3,1620.3L782.6,1621.2L782.9,1622.4L783.2,1622.6L783.5,1625.7L783.7,1615.4L784.0,1622.9L784.3,1616.5L784.6,1618.7L784.9,1621.0L785.1,1621.6L785.4,1625.7L785.7,1620.5L786.0,1625.2L786.3,1623.2L786.5,1620.5L786.8,1624.2L787.1,1619.8L787.4,1623.3L787.7,1627.9L787.9,1624.2L788.2,1621.9L788.5,1620.2L788.8,1621.7L789.0,1620.8L789.3,1628.9L789.6,1625.9L789.9,1623.6L790.2,1624.5L790.4,1629.3L790.7,1621.8L791.0,1621.1L791.3,1627.0L791.6,1624.0L791.8,1617.8L792.1,1623.0L792.4,1620.6L792.7,1619.6L793.0,1618.9L793.2,1618.4L793.5,1620.3L793.8,1622.4L794.1,1616.4L794.4,1620.9L794.6,1614.5L794.9,1618.6L795.2,1622.8L795.5,1619.7L795.8,1618.9L796.0,1625.1L796.3,1622.3L796.6,1621.7L796.9,1622.7L797.2,1616.5L797.4,1619.8L797.7,1626.6L798.0,1622.9L798.3,1625.6L798.6,1616.8L798.8,1618.1L799.1,1621.7L799.4,1621.4L799.7,1611.3L800.0,1617.7L800.2,1616.2L800.5,1614.6L800.8,1617.7L801.1,1613.2L801.4,1617.2L801.6,1617.9L801.9,1614.1L802.2,1616.2L802.5,1608.6L802.8,1618.2L803.0,1616.7L803.3,1611.2L803.6,1611.3L803.9,1616.5L804.2,1623.9L804.4,1617.3L804.7,1612.8L805.0,1615.3L805.3,1609.2L805.6,1613.8L805.8,1613.0L806.1,1616.0L806.4,1619.5L806.7,1614.6L807.0,1622.1L807.2,1615.5L807.5,1616.7L807.8,1615.4L808.1,1612.7L808.4,1614.0L808.6,1614.8L808.9,1621.4L809.2,1616.0L809.5,1611.7L809.8,1617.6L810.0,1617.7L810.3,1613.1L810.6,1618.2L810.9,1617.7L811.2,1612.9L811.4,1620.6L811.7,1613.3L812.0,1615.4L812.3,1620.8L812.6,1613.8L812.8,1610.8L813.1,1617.5L813.4,1620.3L813.7,1619.9L814.0,1618.3L814.2,1615.2L814.5,1623.0L814.8,1622.0L815.1,1619.1L815.4,1619.6L815.6,1611.4L815.9,1619.1L816.2,1620.8L816.5,1618.4L816.8,1618.3L817.0,1615.7L817.3,1615.2L817.6,1607.0L817.9,1612.3L818.2,1614.7L818.4,1610.7L818.7,1608.9L819.0,1612.6L819.3,1611.0L819.6,1618.1L819.8,1613.0L820.1,1614.1L820.4,1619.2L820.7,1611.5L821.0,1616.3L821.2,1620.9L821.5,1613.1L821.8,1614.8L822.1,1619.7L822.4,1619.6L822.6,1614.8L822.9,1615.0L823.2,1615.0L823.5,1614.2L823.8,1619.1L824.0,1615.7L824.3,1614.2L824.6,1614.2L824.9,1619.5L825.2,1607.4L825.4,1615.3L825.7,1617.6L826.0,1614.7L826.3,1614.0L826.6,1619.1L826.8,1618.6L827.1,1624.6L827.4,1616.4L827.7,1620.4L828.0,1616.1L828.2,1623.9L828.5,1623.7L828.8,1622.8L829.1,1624.5L829.4,1623.7L829.6,1623.0L829.9,1621.6L830.2,1624.7L830.5,1623.4L830.8,1620.4L831.0,1621.2L831.3,1621.9L831.6,1626.1L831.9,1621.3L832.2,1620.6L832.4,1616.9L832.7,1623.6L833.0,1621.9L833.3,1621.7L833.6,1621.8L833.8,1623.1L834.1,1616.0L834.4,1618.4L834.7,1620.5L835.0,1623.9L835.2,1622.7L835.5,1624.0L835.8,1622.0L836.1,1622.6L836.4,1618.1L836.6,1618.3L836.9,1619.1L837.2,1618.7L837.5,1621.6L837.8,1619.4L838.0,1619.4L838.3,1619.2L838.6,1624.0L838.9,1618.1L839.2,1621.8L839.4,1618.3L839.7,1621.3L840.0,1621.6L840.3,1620.1L840.6,1617.8L840.8,1622.3L841.1,1622.1L841.4,1620.9L841.7,1621.5L842.0,1621.1L842.2,1629.7L842.5,1621.0L842.8,1617.5L843.1,1617.3L843.4,1624.6L843.6,1616.7L843.9,1623.9L844.2,1620.3L844.5,1622.3L844.8,1621.4L845.0,1623.9L845.3,1619.3L845.6,1620.4L845.9,1617.9L846.2,1614.0L846.4,1624.9L846.7,1616.9L847.0,1623.4L847.3,1625.2L847.6,1623.8L847.8,1620.0L848.1,1628.4L848.4,1619.6L848.7,1626.4L849.0,1627.0L849.2,1618.8L849.5,1624.9L849.8,1619.7L850.1,1623.9L850.4,1615.9L850.6,1627.9L850.9,1624.5L851.2,1622.7L851.5,1621.5L851.8,1627.6L852.0,1624.6L852.3,1624.4L852.6,1621.8L852.9,1621.9L853.2,1622.4L853.4,1619.8L853.7,1622.8L854.0,1627.5L854.3,1623.2L854.6,1624.0L854.8,1622.8L855.1,1628.7L855.4,1619.8L855.7,1615.8L856.0,1612.5L856.2,1620.7L856.5,1623.6L856.8,1626.4L857.1,1618.8L857.4,1622.0L857.6,1628.9L857.9,1619.3L858.2,1621.6L858.5,1623.7L858.8,1621.6L859.0,1624.9L859.3,1619.0L859.6,1623.0L859.9,1623.4L860.2,1628.6L860.4,1627.3L860.7,1627.7L861.0,1622.7L861.3,1630.4L861.6,1626.0L861.8,1630.9L862.1,1621.7L862.4,1623.1L862.7,1624.5L863.0,1630.9L863.2,1622.6L863.5,1625.3L863.8,1623.3L864.1,1627.0L864.4,1623.0L864.6,1628.0L864.9,1619.0L865.2,1628.2L865.5,1620.9L865.8,1616.5L866.0,1622.4L866.3,1619.7L866.6,1617.1L866.9,1624.3L867.2,1618.6L867.4,1616.7L867.7,1621.7L868.0,1623.6L868.3,1623.7L868.5,1617.1L868.8,1627.3L869.1,1623.3L869.4,1624.8L869.7,1619.8L869.9,1621.0L870.2,1622.2L870.5,1624.4L870.8,1631.7L871.1,1625.7L871.3,1625.7L871.6,1629.8L871.9,1630.6L872.2,1628.5L872.5,1624.3L872.7,1620.4L873.0,1618.3L873.3,1624.2L873.6,1622.9L873.9,1627.6L874.1,1630.9L874.4,1622.8L874.7,1623.1L875.0,1623.4L875.3,1616.8L875.5,1622.6L875.8,1625.1L876.1,1630.6L876.4,1617.1L876.7,1624.3L876.9,1626.7L877.2,1617.9L877.5,1621.1L877.8,1626.5L878.1,1620.3L878.3,1621.8L878.6,1624.2L878.9,1628.0L879.2,1625.8L879.5,1623.4L879.7,1627.5L880.0,1622.7L880.3,1621.7L880.6,1625.2L880.9,1625.7L881.1,1626.7L881.4,1626.8L881.7,1624.1L882.0,1619.3L882.3,1619.2L882.5,1623.4L882.8,1626.6L883.1,1620.6L883.4,1621.3L883.7,1624.7L883.9,1618.1L884.2,1624.1L884.5,1619.8L884.8,1619.2L885.1,1622.5L885.3,1618.0L885.6,1622.8L885.9,1615.8L886.2,1616.3L886.5,1617.3L886.7,1621.1L887.0,1615.6L887.3,1619.8L887.6,1620.4L887.9,1623.0L888.1,1617.8L888.4,1621.4L888.7,1623.4L889.0,1627.3L889.3,1621.4L889.5,1623.3L889.8,1622.8L890.1,1611.9L890.4,1623.2L890.7,1622.6L890.9,1619.5L891.2,1620.6L891.5,1622.9L891.8,1623.9L892.1,1623.4L892.3,1621.9L892.6,1623.6L892.9,1626.2L893.2,1622.6L893.5,1626.9L893.7,1627.5L894.0,1625.6L894.3,1620.3L894.6,1620.9L894.9,1612.6L895.1,1620.0L895.4,1619.3L895.7,1617.4L896.0,1612.4L896.3,1622.5L896.5,1623.2L896.8,1618.8L897.1,1622.0L897.4,1617.8L897.7,1612.0L897.9,1618.0L898.2,1616.4L898.5,1616.7L898.8,1617.0L899.1,1613.7L899.3,1612.0L899.6,1620.9L899.9,1618.2L900.2,1619.6L900.5,1615.0L900.7,1610.6L901.0,1614.9L901.3,1624.6L901.6,1622.8L901.9,1614.8L902.1,1619.7L902.4,1618.4L902.7,1623.1L903.0,1629.2L903.3,1621.4L903.5,1624.8L903.8,1622.9L904.1,1621.6L904.4,1619.5L904.7,1620.2L904.9,1623.8L905.2,1622.8L905.5,1623.0L905.8,1617.3L906.1,1617.0L906.3,1619.1L906.6,1617.5L906.9,1614.6L907.2,1615.5L907.5,1622.3L907.7,1616.2L908.0,1618.5L908.3,1619.7L908.6,1616.1L908.9,1622.5L909.1,1617.6L909.4,1619.3L909.7,1615.3L910.0,1619.2L910.3,1616.7L910.5,1619.1L910.8,1615.1L911.1,1615.4L911.4,1617.3L911.7,1620.3L911.9,1613.7L912.2,1618.6L912.5,1618.3L912.8,1622.4L913.1,1611.1L913.3,1613.6L913.6,1621.1L913.9,1619.5L914.2,1619.8L914.5,1617.9L914.7,1618.7L915.0,1618.9L915.3,1620.3L915.6,1612.9L915.9,1614.5L916.1,1621.1L916.4,1621.2L916.7,1614.5L917.0,1623.6L917.3,1619.8L917.5,1621.0L917.8,1617.2L918.1,1614.9L918.4,1617.7L918.7,1617.2L918.9,1613.4L919.2,1617.1L919.5,1616.6L919.8,1610.6L920.1,1613.1L920.3,1615.1L920.6,1612.5L920.9,1617.2L921.2,1618.6L921.5,1610.8L921.7,1614.9L922.0,1615.3L922.3,1616.8L922.6,1608.6L922.9,1610.3L923.1,1614.9L923.4,1617.5L923.7,1614.8L924.0,1611.0L924.3,1615.5L924.5,1611.6L924.8,1609.3L925.1,1614.8L925.4,1617.6L925.7,1618.0L925.9,1615.6L926.2,1612.6L926.5,1611.3L926.8,1617.7L927.1,1612.4L927.3,1616.9L927.6,1617.4L927.9,1614.0L928.2,1615.7L928.5,1616.1L928.7,1618.7L929.0,1613.9L929.3,1615.5L929.6,1616.4L929.9,1611.4L930.1,1613.6L930.4,1613.3L930.7,1615.5L931.0,1611.2L931.3,1614.9L931.5,1616.3L931.8,1620.2L932.1,1616.0L932.4,1621.3L932.7,1617.9L932.9,1618.8L933.2,1614.2L933.5,1614.5L933.8,1617.8L934.1,1613.7L934.3,1620.7L934.6,1615.3L934.9,1623.0L935.2,1611.5L935.5,1614.9L935.7,1614.0L936.0,1612.4L936.3,1612.9L936.6,1604.4L936.9,1611.8L937.1,1615.3L937.4,1611.9L937.7,1608.2L938.0,1611.8L938.3,1613.9L938.5,1617.5L938.8,1613.0L939.1,1619.6L939.4,1613.9L939.7,1620.2L939.9,1618.1L940.2,1625.3L940.5,1619.9L940.8,1621.8L941.1,1616.5L941.3,1610.7L941.6,1617.1L941.9,1616.8L942.2,1613.6L942.5,1615.3L942.7,1608.4L943.0,1613.1L943.3,1611.1L943.6,1617.2L943.9,1611.8L944.1,1611.0L944.4,1610.0L944.7,1602.5L945.0,1604.9L945.3,1611.7L945.5,1608.8L945.8,1601.4L946.1,1606.3L946.4,1603.5L946.6,1605.9L946.9,1604.4L947.2,1603.7L947.5,1599.1L947.8,1602.5L948.0,1600.8L948.3,1603.0L948.6,1607.3L948.9,1605.8L949.2,1606.7L949.4,1607.8L949.7,1601.5L950.0,1604.8L950.3,1609.3L950.6,1610.1L950.8,1598.3L951.1,1602.2L951.4,1606.9L951.7,1616.1L952.0,1602.9L952.2,1604.7L952.5,1606.1L952.8,1608.5L953.1,1600.8L953.4,1603.8L953.6,1604.7L953.9,1604.3L954.2,1605.1L954.5,1609.0L954.8,1611.8L955.0,1609.5L955.3,1608.1L955.6,1606.8L955.9,1604.2L956.2,1601.7L956.4,1601.3L956.7,1609.2L957.0,1608.9L957.3,1605.9L957.6,1604.4L957.8,1602.8L958.1,1603.7L958.4,1599.9L958.7,1597.5L959.0,1595.3L959.2,1600.3L959.5,1595.9L959.8,1592.2L960.1,1597.2L960.4,1595.3L960.6,1601.0L960.9,1603.2L961.2,1599.8L961.5,1600.6L961.8,1604.4L962.0,1592.2L962.3,1592.2L962.6,1596.7L962.9,1595.0L963.2,1597.1L963.4,1600.3L963.7,1595.6L964.0,1588.8L964.3,1605.6L964.6,1590.9L964.8,1589.9L965.1,1598.7L965.4,1588.5L965.7,1590.8L966.0,1595.8L966.2,1593.6L966.5,1598.2L966.8,1603.0L967.1,1600.8L967.4,1600.7L967.6,1605.7L967.9,1606.5L968.2,1616.9L968.5,1605.0L968.8,1613.8L969.0,1609.2L969.3,1611.9L969.6,1603.6L969.9,1606.4L970.2,1605.3L970.4,1602.7L970.7,1605.4L971.0,1611.7L971.3,1599.1L971.6,1608.5L971.8,1601.5L972.1,1600.7L972.4,1594.1L972.7,1598.6L973.0,1602.0L973.2,1593.4L973.5,1594.9L973.8,1593.7L974.1,1591.5L974.4,1588.9L974.6,1596.7L974.9,1595.3L975.2,1589.9L975.5,1597.3L975.8,1590.2L976.0,1594.5L976.3,1589.2L976.6,1589.0L976.9,1595.3L977.2,1604.6L977.4,1599.8L977.7,1604.4L978.0,1607.7L978.3,1603.5L978.6,1600.1L978.8,1604.0L979.1,1602.3L979.4,1606.5L979.7,1603.0L980.0,1610.2L980.2,1609.6L980.5,1607.0L980.8,1607.1L981.1,1609.0L981.4,1607.8L981.6,1609.4L981.9,1612.9L982.2,1608.0L982.5,1609.7L982.8,1611.1L983.0,1604.8L983.3,1617.5L983.6,1612.3L983.9,1618.7L984.2,1607.0L984.4,1606.7L984.7,1612.6L985.0,1614.0L985.3,1616.9L985.6,1616.3L985.8,1618.0L986.1,1613.6L986.4,1621.7L986.7,1616.0L987.0,1607.3L987.2,1610.5L987.5,1610.6L987.8,1613.2L988.1,1611.6L988.4,1615.1L988.6,1618.7L988.9,1609.9L989.2,1613.3L989.5,1621.8L989.8,1622.2L990.0,1623.0L990.3,1618.3L990.6,1622.1L990.9,1619.8L991.2,1613.4L991.4,1617.0L991.7,1621.9L992.0,1620.2L992.3,1617.2L992.6,1617.0L992.8,1621.9L993.1,1621.4L993.4,1618.9L993.7,1625.7L994.0,1619.1L994.2,1619.1L994.5,1620.6L994.8,1620.1L995.1,1619.7L995.4,1613.3L995.6,1627.3L995.9,1621.1L996.2,1620.0L996.5,1616.4L996.8,1617.5L997.0,1619.1L997.3,1615.2L997.6,1619.7L997.9,1619.0L998.2,1615.8L998.4,1614.4L998.7,1619.2L999.0,1624.3L999.3,1617.6L999.6,1620.1L999.8,1616.5L1000.1,1614.3L1000.4,1620.7L1000.7,1615.8L1001.0,1623.8L1001.2,1614.4L1001.5,1611.4L1001.8,1617.2L1002.1,1618.7L1002.4,1618.7L1002.6,1616.2L1002.9,1611.9L1003.2,1619.5L1003.5,1612.7L1003.8,1623.3L1004.0,1614.3L1004.3,1615.6L1004.6,1615.5L1004.9,1621.0L1005.2,1622.9L1005.4,1618.1L1005.7,1618.2L1006.0,1613.4L1006.3,1619.6L1006.6,1608.8L1006.8,1620.0L1007.1,1617.8L1007.4,1613.5L1007.7,1619.0L1008.0,1618.9L1008.2,1622.8L1008.5,1622.3L1008.8,1617.7L1009.1,1619.0L1009.4,1613.9L1009.6,1621.0L1009.9,1614.9L1010.2,1617.4L1010.5,1615.0L1010.8,1618.2L1011.0,1621.9L1011.3,1617.6L1011.6,1620.4L1011.9,1616.0L1012.2,1621.3L1012.4,1622.3L1012.7,1619.1L1013.0,1618.2L1013.3,1614.9L1013.6,1619.8L1013.8,1621.1L1014.1,1616.4L1014.4,1617.0L1014.7,1615.6L1015.0,1613.1L1015.2,1617.0L1015.5,1612.4L1015.8,1621.5L1016.1,1623.7L1016.4,1621.0L1016.6,1619.2L1016.9,1617.7L1017.2,1618.4L1017.5,1614.0L1017.8,1618.8L1018.0,1618.2L1018.3,1619.9L1018.6,1623.5L1018.9,1618.5L1019.2,1622.7L1019.4,1620.0L1019.7,1614.7L1020.0,1618.9L1020.3,1616.6L1020.6,1617.8L1020.8,1617.4L1021.1,1616.4L1021.4,1614.1L1021.7,1616.1L1022.0,1612.8L1022.2,1611.0L1022.5,1613.0L1022.8,1607.8L1023.1,1614.5L1023.4,1615.3L1023.6,1612.3L1023.9,1617.5L1024.2,1616.2L1024.5,1614.5L1024.8,1616.3L1025.0,1617.7L1025.3,1613.9L1025.6,1617.6L1025.9,1618.8L1026.1,1618.9L1026.4,1616.6L1026.7,1622.6L1027.0,1612.3L1027.3,1618.6L1027.5,1620.5L1027.8,1626.1L1028.1,1616.7L1028.4,1618.4L1028.7,1618.7L1028.9,1621.8L1029.2,1620.2L1029.5,1619.3L1029.8,1625.4L1030.1,1624.0L1030.3,1621.8L1030.6,1619.3L1030.9,1620.1L1031.2,1620.2L1031.5,1627.0L1031.7,1616.4L1032.0,1617.9L1032.3,1617.6L1032.6,1618.5L1032.9,1621.2L1033.1,1614.3L1033.4,1615.2L1033.7,1621.9L1034.0,1619.0L1034.3,1622.8L1034.5,1615.6L1034.8,1612.9L1035.1,1615.7L1035.4,1615.4L1035.7,1619.8L1035.9,1615.5L1036.2,1618.7L1036.5,1621.4L1036.8,1620.1L1037.1,1619.4L1037.3,1620.2L1037.6,1622.7L1037.9,1624.9L1038.2,1620.3L1038.5,1619.8L1038.7,1629.5L1039.0,1620.4L1039.3,1624.4L1039.6,1622.9L1039.9,1629.8L1040.1,1626.7L1040.4,1630.1L1040.7,1630.0L1041.0,1623.9L1041.3,1626.6L1041.5,1620.9L1041.8,1624.1L1042.1,1628.0L1042.4,1626.9L1042.7,1626.6L1042.9,1625.4L1043.2,1623.7L1043.5,1627.0L1043.8,1625.3L1044.1,1624.5L1044.3,1627.5L1044.6,1622.8L1044.9,1629.5L1045.2,1622.8L1045.5,1628.3L1045.7,1623.3L1046.0,1620.9L1046.3,1621.4L1046.6,1623.9L1046.9,1623.0L1047.1,1623.2L1047.4,1621.8L1047.7,1620.3L1048.0,1619.1L1048.3,1618.8L1048.5,1620.3L1048.8,1615.3L1049.1,1622.0L1049.4,1621.6L1049.7,1621.2L1049.9,1619.1L1050.2,1621.7L1050.5,1623.9L1050.8,1618.8L1051.1,1618.9L1051.3,1621.0L1051.6,1622.6L1051.9,1618.4L1052.2,1623.9L1052.5,1615.6L1052.7,1626.4L1053.0,1616.8L1053.3,1617.5L1053.6,1618.6L1053.9,1615.9L1054.1,1619.2L1054.4,1617.4L1054.7,1624.1L1055.0,1619.6L1055.3,1622.4L1055.5,1620.2L1055.8,1623.7L1056.1,1621.9L1056.4,1616.7L1056.7,1620.1L1056.9,1622.7L1057.2,1623.1L1057.5,1615.7L1057.8,1619.2L1058.1,1617.2L1058.3,1617.5L1058.6,1622.6L1058.9,1622.7L1059.2,1615.6L1059.5,1618.8L1059.7,1625.9L1060.0,1626.5L1060.3,1625.5L1060.6,1619.6L1060.9,1623.6L1061.1,1626.4L1061.4,1622.9L1061.7,1621.7L1062.0,1620.9L1062.3,1623.8L1062.5,1625.5L1062.8,1628.0L1063.1,1622.2L1063.4,1622.6L1063.7,1617.7L1063.9,1625.6L1064.2,1620.1L1064.5,1626.2L1064.8,1619.6L1065.1,1621.5L1065.3,1623.6L1065.6,1622.3L1065.9,1614.3L1066.2,1620.5L1066.5,1621.6L1066.7,1628.4L1067.0,1625.0L1067.3,1625.5L1067.6,1622.7L1067.9,1625.2L1068.1,1620.9L1068.4,1616.5L1068.7,1618.4L1069.0,1621.9L1069.3,1618.9L1069.5,1620.6L1069.8,1620.5L1070.1,1625.6L1070.4,1613.5L1070.7,1617.8L1070.9,1622.5L1071.2,1621.5L1071.5,1628.8L1071.8,1625.8L1072.1,1623.9L1072.3,1621.7L1072.6,1624.0L1072.9,1623.3L1073.2,1619.2L1073.5,1621.1L1073.7,1625.3L1074.0,1624.5L1074.3,1623.3L1074.6,1627.9L1074.9,1619.5L1075.1,1620.8L1075.4,1623.8L1075.7,1624.6L1076.0,1618.5L1076.3,1621.5L1076.5,1619.5L1076.8,1617.5L1077.1,1620.8L1077.4,1618.6L1077.7,1623.7L1077.9,1622.2L1078.2,1620.4L1078.5,1624.7L1078.8,1625.3L1079.1,1618.9L1079.3,1615.8L1079.6,1618.3L1079.9,1620.5L1080.2,1612.7L1080.5,1613.2L1080.7,1623.0L1081.0,1619.4L1081.3,1620.9L1081.6,1619.6L1081.9,1618.0L1082.1,1620.8L1082.4,1619.4L1082.7,1623.6L1083.0,1620.5L1083.3,1621.7L1083.5,1620.4L1083.8,1617.7L1084.1,1619.2L1084.4,1623.4L1084.7,1618.5L1084.9,1621.4L1085.2,1619.6L1085.5,1620.0L1085.8,1625.2L1086.1,1616.9L1086.3,1617.6L1086.6,1617.5L1086.9,1623.8L1087.2,1621.4L1087.5,1614.7L1087.7,1616.3L1088.0,1617.8L1088.3,1617.2L1088.6,1615.9L1088.9,1620.4L1089.1,1614.4L1089.4,1618.1L1089.7,1616.4L1090.0,1615.6L1090.3,1609.9L1090.5,1612.2L1090.8,1618.7L1091.1,1615.5L1091.4,1608.7L1091.7,1613.6L1091.9,1606.7L1092.2,1613.9L1092.5,1608.5L1092.8,1615.4L1093.1,1613.6L1093.3,1611.5L1093.6,1605.0L1093.9,1608.4L1094.2,1604.8L1094.5,1606.1L1094.7,1605.0L1095.0,1607.0L1095.3,1609.5L1095.6,1610.0L1095.9,1600.5L1096.1,1604.1L1096.4,1603.3L1096.7,1610.4L1097.0,1603.6L1097.3,1608.7L1097.5,1607.1L1097.8,1609.3L1098.1,1605.5L1098.4,1604.7L1098.7,1609.2L1098.9,1610.0L1099.2,1605.8L1099.5,1604.8L1099.8,1604.3L1100.1,1604.9L1100.3,1608.8L1100.6,1602.5L1100.9,1609.2L1101.2,1600.0L1101.5,1604.6L1101.7,1600.8L1102.0,1604.3L1102.3,1610.8L1102.6,1599.5L1102.9,1605.5L1103.1,1596.0L1103.4,1601.7L1103.7,1607.8L1104.0,1599.9L1104.2,1592.3L1104.5,1595.5L1104.8,1597.1L1105.1,1592.1L1105.4,1600.9L1105.6,1597.2L1105.9,1591.1L1106.2,1595.7L1106.5,1593.6L1106.8,1585.7L1107.0,1597.4L1107.3,1594.7L1107.6,1582.9L1107.9,1594.3L1108.2,1589.0L1108.4,1591.6L1108.7,1588.1L1109.0,1583.4L1109.3,1588.0L1109.6,1592.9L1109.8,1580.1L1110.1,1586.4L1110.4,1583.9L1110.7,1588.4L1111.0,1580.8L1111.2,1587.4L1111.5,1584.2L1111.8,1587.4L1112.1,1584.6L1112.4,1580.6L1112.6,1583.7L1112.9,1585.0L1113.2,1583.8L1113.5,1588.5L1113.8,1580.8L1114.0,1582.8L1114.3,1584.2L1114.6,1586.2L1114.9,1577.8L1115.2,1577.6L1115.4,1577.7L1115.7,1574.2L1116.0,1572.7L1116.3,1580.1L1116.6,1578.3L1116.8,1580.1L1117.1,1580.7L1117.4,1572.0L1117.7,1573.6L1118.0,1571.3L1118.2,1573.1L1118.5,1579.2L1118.8,1568.6L1119.1,1578.8L1119.4,1570.8L1119.6,1575.6L1119.9,1581.4L1120.2,1577.8L1120.5,1567.5L1120.8,1572.8L1121.0,1577.0L1121.3,1566.3L1121.6,1565.6L1121.9,1570.7L1122.2,1564.5L1122.4,1563.8L1122.7,1567.8L1123.0,1572.2L1123.3,1568.0L1123.6,1570.4L1123.8,1566.4L1124.1,1565.3L1124.4,1566.6L1124.7,1560.1L1125.0,1560.4L1125.2,1559.3L1125.5,1557.8L1125.8,1553.9L1126.1,1555.7L1126.4,1554.4L1126.6,1559.0L1126.9,1550.4L1127.2,1555.6L1127.5,1548.5L1127.8,1557.3L1128.0,1544.4L1128.3,1534.5L1128.6,1549.4L1128.9,1547.7L1129.2,1546.9L1129.4,1550.9L1129.7,1548.7L1130.0,1540.9L1130.3,1538.6L1130.6,1542.3L1130.8,1537.7L1131.1,1537.3L1131.4,1536.2L1131.7,1541.6L1132.0,1540.6L1132.2,1534.5L1132.5,1536.9L1132.8,1527.4L1133.1,1528.2L1133.4,1530.6L1133.6,1522.2L1133.9,1530.3L1134.2,1521.0L1134.5,1520.5L1134.8,1522.1L1135.0,1509.0L1135.3,1516.0L1135.6,1509.5L1135.9,1500.2L1136.2,1504.3L1136.4,1506.1L1136.7,1488.7L1137.0,1498.0L1137.3,1482.1L1137.6,1485.8L1137.8,1484.9L1138.1,1491.0L1138.4,1480.5L1138.7,1477.0L1139.0,1476.0L1139.2,1473.9L1139.5,1466.0L1139.8,1463.7L1140.1,1461.5L1140.4,1453.8L1140.6,1458.6L1140.9,1452.6L1141.2,1452.1L1141.5,1450.5L1141.8,1438.9L1142.0,1439.6L1142.3,1442.3L1142.6,1437.7L1142.9,1437.4L1143.2,1437.2L1143.4,1437.5L1143.7,1443.2L1144.0,1426.2L1144.3,1441.8L1144.6,1432.0L1144.8,1447.7L1145.1,1440.5L1145.4,1444.0L1145.7,1442.5L1146.0,1440.3L1146.2,1437.1L1146.5,1441.9L1146.8,1449.2L1147.1,1441.4L1147.4,1444.6L1147.6,1446.5L1147.9,1452.6L1148.2,1452.9L1148.5,1462.5L1148.8,1454.3L1149.0,1458.2L1149.3,1470.8L1149.6,1475.4L1149.9,1476.8L1150.2,1486.3L1150.4,1485.5L1150.7,1479.4L1151.0,1480.6L1151.3,1487.1L1151.6,1489.5L1151.8,1496.2L1152.1,1495.2L1152.4,1498.0L1152.7,1501.4L1153.0,1506.1L1153.2,1510.7L1153.5,1511.8L1153.8,1518.6L1154.1,1517.6L1154.4,1519.7L1154.6,1526.3L1154.9,1533.4L1155.2,1525.3L1155.5,1524.0L1155.8,1525.0L1156.0,1536.8L1156.3,1527.5L1156.6,1538.0L1156.9,1544.4L1157.2,1532.1L1157.4,1543.7L1157.7,1547.7L1158.0,1547.7L1158.3,1548.5L1158.6,1540.4L1158.8,1550.0L1159.1,1544.9L1159.4,1549.0L1159.7,1553.5L1160.0,1557.2L1160.2,1556.8L1160.5,1561.3L1160.8,1553.2L1161.1,1561.5L1161.4,1560.3L1161.6,1559.4L1161.9,1561.7L1162.2,1567.4L1162.5,1570.4L1162.8,1562.1L1163.0,1574.8L1163.3,1566.7L1163.6,1571.5L1163.9,1573.5L1164.2,1572.2L1164.4,1566.3L1164.7,1573.5L1165.0,1577.8L1165.3,1575.2L1165.6,1579.4L1165.8,1578.2L1166.1,1580.9L1166.4,1582.9L1166.7,1589.1L1167.0,1584.2L1167.2,1587.8L1167.5,1583.1L1167.8,1587.2L1168.1,1581.3L1168.4,1589.1L1168.6,1590.4L1168.9,1583.4L1169.2,1590.4L1169.5,1589.6L1169.8,1591.9L1170.0,1590.3L1170.3,1588.8L1170.6,1586.2L1170.9,1590.0L1171.2,1592.1L1171.4,1587.4L1171.7,1588.8L1172.0,1583.9L1172.3,1591.5L1172.6,1594.0L1172.8,1595.2L1173.1,1585.5L1173.4,1592.3L1173.7,1587.4L1174.0,1595.9L1174.2,1587.3L1174.5,1585.8L1174.8,1594.3L1175.1,1587.5L1175.4,1590.0L1175.6,1584.7L1175.9,1597.7L1176.2,1585.9L1176.5,1588.1L1176.8,1588.2L1177.0,1591.8L1177.3,1587.6L1177.6,1591.9L1177.9,1594.5L1178.2,1601.4L1178.4,1600.4L1178.7,1591.8L1179.0,1594.8L1179.3,1592.4L1179.6,1586.8L1179.8,1589.4L1180.1,1591.6L1180.4,1590.0L1180.7,1590.5L1181.0,1593.6L1181.2,1592.0L1181.5,1590.1L1181.8,1585.9L1182.1,1587.5L1182.4,1591.3L1182.6,1589.4L1182.9,1581.9L1183.2,1588.7L1183.5,1586.6L1183.7,1585.5L1184.0,1590.1L1184.3,1586.7L1184.6,1585.0L1184.9,1587.9L1185.1,1584.3L1185.4,1587.4L1185.7,1582.7L1186.0,1589.7L1186.3,1581.7L1186.5,1587.2L1186.8,1582.1L1187.1,1589.1L1187.4,1587.4L1187.7,1582.8L1187.9,1585.4L1188.2,1587.2L1188.5,1580.8L1188.8,1582.1L1189.1,1585.6L1189.3,1576.2L1189.6,1575.3L1189.9,1583.3L1190.2,1580.9L1190.5,1576.0L1190.7,1579.2L1191.0,1583.8L1191.3,1582.6L1191.6,1576.8L1191.9,1585.3L1192.1,1582.6L1192.4,1580.0L1192.7,1584.4L1193.0,1584.2L1193.3,1580.1L1193.5,1577.5L1193.8,1584.2L1194.1,1585.4L1194.4,1581.2L1194.7,1575.3L1194.9,1577.0L1195.2,1586.4L1195.5,1575.8L1195.8,1577.7L1196.1,1578.6L1196.3,1576.0L1196.6,1580.4L1196.9,1580.2L1197.2,1575.9L1197.5,1580.0L1197.7,1580.5L1198.0,1584.9L1198.3,1586.3L1198.6,1574.9L1198.9,1578.1L1199.1,1580.4L1199.4,1582.5L1199.7,1575.6L1200.0,1572.1L1200.3,1581.6L1200.5,1575.5L1200.8,1575.7L1201.1,1576.0L1201.4,1575.4L1201.7,1580.7L1201.9,1569.2L1202.2,1580.5L1202.5,1580.8L1202.8,1577.4L1203.1,1578.8L1203.3,1573.1L1203.6,1579.0L1203.9,1578.1L1204.2,1574.9L1204.5,1578.6L1204.7,1579.8L1205.0,1582.6L1205.3,1580.6L1205.6,1578.8L1205.9,1581.9L1206.1,1579.5L1206.4,1585.9L1206.7,1585.2L1207.0,1586.1L1207.3,1589.9L1207.5,1587.8L1207.8,1583.8L1208.1,1580.7L1208.4,1583.8L1208.7,1599.3L1208.9,1583.1L1209.2,1584.3L1209.5,1581.4L1209.8,1586.4L1210.1,1584.2L1210.3,1587.1L1210.6,1584.4L1210.9,1582.8L1211.2,1592.1L1211.5,1586.4L1211.7,1586.3L1212.0,1585.7L1212.3,1582.4L1212.6,1581.3L1212.9,1586.4L1213.1,1580.8L1213.4,1579.9L1213.7,1580.1L1214.0,1582.5L1214.3,1573.9L1214.5,1583.5L1214.8,1581.6L1215.1,1589.4L1215.4,1585.1L1215.7,1577.6L1215.9,1590.5L1216.2,1584.0L1216.5,1579.9L1216.8,1586.0L1217.1,1580.1L1217.3,1588.3L1217.6,1577.4L1217.9,1579.7L1218.2,1582.5L1218.5,1585.4L1218.7,1587.7L1219.0,1582.6L1219.3,1581.6L1219.6,1583.0L1219.9,1588.7L1220.1,1591.4L1220.4,1582.3L1220.7,1591.3L1221.0,1595.5L1221.3,1592.8L1221.5,1592.2L1221.8,1596.5L1222.1,1598.8L1222.4,1596.8L1222.7,1593.6L1222.9,1600.1L1223.2,1606.4L1223.5,1602.2L1223.8,1602.0L1224.1,1596.2L1224.3,1598.5L1224.6,1602.4L1224.9,1602.4L1225.2,1601.2L1225.5,1595.3L1225.7,1601.2L1226.0,1605.0L1226.3,1612.3L1226.6,1605.1L1226.9,1605.0L1227.1,1609.2L1227.4,1604.5L1227.7,1605.3L1228.0,1607.7L1228.3,1608.0L1228.5,1608.8L1228.8,1609.2L1229.1,1607.7L1229.4,1605.1L1229.7,1605.8L1229.9,1608.1L1230.2,1605.0L1230.5,1603.6L1230.8,1607.0L1231.1,1598.4L1231.3,1609.1L1231.6,1607.2L1231.9,1605.6L1232.2,1606.5L1232.5,1607.4L1232.7,1612.4L1233.0,1608.9L1233.3,1614.1L1233.6,1613.7L1233.9,1614.1L1234.1,1616.9L1234.4,1614.0L1234.7,1624.8L1235.0,1618.5L1235.3,1616.5L1235.5,1612.9L1235.8,1616.2L1236.1,1615.2L1236.4,1615.2L1236.7,1615.9L1236.9,1622.3L1237.2,1618.8L1237.5,1619.8L1237.8,1617.2L1238.1,1613.5L1238.3,1616.1L1238.6,1614.4L1238.9,1617.8L1239.2,1618.4L1239.5,1623.2L1239.7,1615.0L1240.0,1621.4L1240.3,1618.2L1240.6,1620.2L1240.9,1616.7L1241.1,1624.9L1241.4,1620.3L1241.7,1621.8L1242.0,1624.9L1242.3,1619.7L1242.5,1618.9L1242.8,1620.3L1243.1,1617.5L1243.4,1615.3L1243.7,1620.5L1243.9,1619.2L1244.2,1614.9L1244.5,1620.1L1244.8,1615.9L1245.1,1614.7L1245.3,1617.9L1245.6,1619.4L1245.9,1618.7L1246.2,1619.4L1246.5,1623.5L1246.7,1624.5L1247.0,1622.8L1247.3,1618.0L1247.6,1622.7L1247.9,1617.6L1248.1,1620.4L1248.4,1625.0L1248.7,1627.7L1249.0,1629.8L1249.3,1627.5L1249.5,1630.5L1249.8,1630.6L1250.1,1623.9L1250.4,1625.0L1250.7,1626.5L1250.9,1622.9L1251.2,1625.7L1251.5,1623.5L1251.8,1622.5L1252.1,1624.8L1252.3,1628.3L1252.6,1620.4L1252.9,1622.8L1253.2,1623.6L1253.5,1625.9L1253.7,1623.8L1254.0,1620.2L1254.3,1625.9L1254.6,1625.4L1254.9,1625.9L1255.1,1626.4L1255.4,1625.1L1255.7,1617.9L1256.0,1620.4L1256.3,1623.0L1256.5,1624.1L1256.8,1624.6L1257.1,1625.0L1257.4,1621.0L1257.7,1623.9L1257.9,1622.6L1258.2,1624.5L1258.5,1627.9L1258.8,1621.4L1259.1,1625.3L1259.3,1622.1L1259.6,1623.0L1259.9,1621.5L1260.2,1623.3L1260.5,1624.3L1260.7,1617.6L1261.0,1627.4L1261.3,1626.1L1261.6,1627.5L1261.8,1624.2L1262.1,1625.0L1262.4,1621.7L1262.7,1624.3L1263.0,1621.5L1263.2,1627.6L1263.5,1623.5L1263.8,1626.7L1264.1,1624.9L1264.4,1627.9L1264.6,1626.5L1264.9,1621.8L1265.2,1620.2L1265.5,1624.2L1265.8,1624.9L1266.0,1622.0L1266.3,1627.6L1266.6,1627.8L1266.9,1626.9L1267.2,1626.6L1267.4,1625.5L1267.7,1622.4L1268.0,1625.3L1268.3,1618.8L1268.6,1623.4L1268.8,1624.6L1269.1,1617.3L1269.4,1626.6L1269.7,1618.6L1270.0,1623.7L1270.2,1619.9L1270.5,1620.9L1270.8,1619.0L1271.1,1621.2L1271.4,1621.5L1271.6,1620.6L1271.9,1625.5L1272.2,1625.0L1272.5,1624.8L1272.8,1621.7L1273.0,1626.5L1273.3,1628.7L1273.6,1628.3L1273.9,1628.6L1274.2,1627.0L1274.4,1627.2L1274.7,1623.1L1275.0,1627.1L1275.3,1624.3L1275.6,1622.4L1275.8,1625.7L1276.1,1625.5L1276.4,1626.0L1276.7,1622.3L1277.0,1625.1L1277.2,1627.6L1277.5,1625.8L1277.8,1624.9L1278.1,1624.8L1278.4,1622.6L1278.6,1625.1L1278.9,1618.3L1279.2,1620.4L1279.5,1619.3L1279.8,1617.0L1280.0,1624.3L1280.3,1621.6L1280.6,1622.5L1280.9,1622.4L1281.2,1620.8L1281.4,1624.0L1281.7,1620.5L1282.0,1623.2L1282.3,1621.8L1282.6,1620.1L1282.8,1623.9L1283.1,1627.2L1283.4,1626.1L1283.7,1627.4L1284.0,1621.9L1284.2,1627.8L1284.5,1619.0L1284.8,1624.4L1285.1,1624.7L1285.4,1625.1L1285.6,1624.7L1285.9,1622.7L1286.2,1621.8L1286.5,1623.9L1286.8,1622.1L1287.0,1618.6L1287.3,1628.5L1287.6,1622.1L1287.9,1626.3L1288.2,1623.5L1288.4,1622.3L1288.7,1623.5L1289.0,1623.3L1289.3,1622.7L1289.6,1623.5L1289.8,1622.5L1290.1,1625.4L1290.4,1625.1L1290.7,1625.5L1291.0,1621.3L1291.2,1626.0L1291.5,1629.4L1291.8,1622.3L1292.1,1625.5L1292.4,1628.3L1292.6,1624.7L1292.9,1627.7L1293.2,1623.4L1293.5,1618.2L1293.8,1629.2L1294.0,1625.6L1294.3,1619.6L1294.6,1622.8L1294.9,1622.9L1295.2,1620.1L1295.4,1617.1L1295.7,1623.7L1296.0,1623.8L1296.3,1619.5L1296.6,1618.5L1296.8,1625.9L1297.1,1623.5L1297.4,1621.6L1297.7,1624.6L1298.0,1622.1L1298.2,1618.6L1298.5,1621.7L1298.8,1627.3L1299.1,1619.4L1299.4,1623.4L1299.6,1620.9L1299.9,1622.6L1300.2,1622.5L1300.5,1623.9L1300.8,1624.8L1301.0,1621.5L1301.3,1625.9L1301.6,1623.1L1301.9,1619.2L1302.2,1629.6L1302.4,1623.1L1302.7,1620.4L1303.0,1624.1L1303.3,1623.7L1303.6,1626.6L1303.8,1626.3L1304.1,1624.0L1304.4,1623.7L1304.7,1624.5L1305.0,1624.5L1305.2,1624.2L1305.5,1624.0L1305.8,1620.2L1306.1,1624.5L1306.4,1624.6L1306.6,1624.2L1306.9,1620.0L1307.2,1621.6L1307.5,1615.1L1307.8,1616.1L1308.0,1622.2L1308.3,1623.4L1308.6,1622.2L1308.9,1623.2L1309.2,1624.6L1309.4,1620.9L1309.7,1624.7L1310.0,1625.2L1310.3,1621.1L1310.6,1624.8L1310.8,1620.8L1311.1,1622.0L1311.4,1621.3L1311.7,1620.4L1312.0,1614.4L1312.2,1623.7L1312.5,1615.5L1312.8,1619.2L1313.1,1617.7L1313.4,1617.9L1313.6,1615.5L1313.9,1617.3L1314.2,1618.1L1314.5,1619.6L1314.8,1621.1L1315.0,1619.0L1315.3,1617.4L1315.6,1620.1L1315.9,1620.1L1316.2,1621.3L1316.4,1617.5L1316.7,1620.8L1317.0,1614.3L1317.3,1621.6L1317.6,1619.2L1317.8,1622.4L1318.1,1620.1L1318.4,1622.2L1318.7,1623.3L1319.0,1616.9L1319.2,1616.7L1319.5,1622.4L1319.8,1621.6L1320.1,1618.2L1320.4,1618.8L1320.6,1618.6L1320.9,1621.4L1321.2,1616.6L1321.5,1615.6L1321.8,1617.5L1322.0,1615.9L1322.3,1619.0L1322.6,1618.1L1322.9,1613.7L1323.2,1617.6L1323.4,1617.3L1323.7,1614.3L1324.0,1612.3L1324.3,1610.2L1324.6,1614.1L1324.8,1616.2L1325.1,1615.1L1325.4,1612.7L1325.7,1618.5L1326.0,1607.5L1326.2,1612.2L1326.5,1607.9L1326.8,1610.4L1327.1,1607.1L1327.4,1607.6L1327.6,1609.9L1327.9,1604.3L1328.2,1606.0L1328.5,1604.5L1328.8,1608.0L1329.0,1608.6L1329.3,1609.1L1329.6,1603.2L1329.9,1603.6L1330.2,1608.4L1330.4,1608.3L1330.7,1605.3L1331.0,1608.4L1331.3,1608.6L1331.6,1606.3L1331.8,1615.3L1332.1,1604.3L1332.4,1609.0L1332.7,1605.2L1333.0,1604.4L1333.2,1600.5L1333.5,1600.9L1333.8,1600.1L1334.1,1598.5L1334.4,1600.4L1334.6,1600.1L1334.9,1597.6L1335.2,1598.6L1335.5,1595.4L1335.8,1593.5L1336.0,1593.3L1336.3,1592.4L1336.6,1593.4L1336.9,1593.5L1337.2,1595.4L1337.4,1593.0L1337.7,1597.2L1338.0,1596.3L1338.3,1593.2L1338.6,1589.7L1338.8,1593.2L1339.1,1593.4L1339.4,1594.6L1339.7,1594.4L1340.0,1593.2L1340.2,1592.6L1340.5,1593.0L1340.8,1595.7L1341.1,1589.9L1341.3,1587.8L1341.6,1594.0L1341.9,1589.7L1342.2,1584.1L1342.5,1586.0L1342.7,1583.4L1343.0,1588.4L1343.3,1580.3L1343.6,1580.2L1343.9,1577.7L1344.1,1574.9L1344.4,1581.6L1344.7,1570.7L1345.0,1579.0L1345.3,1575.0L1345.5,1579.3L1345.8,1574.4L1346.1,1578.6L1346.4,1578.5L1346.7,1578.5L1346.9,1574.9L1347.2,1574.4L1347.5,1574.4L1347.8,1565.0L1348.1,1578.2L1348.3,1571.4L1348.6,1571.3L1348.9,1573.4L1349.2,1574.9L1349.5,1573.9L1349.7,1572.1L1350.0,1574.1L1350.3,1580.8L1350.6,1578.4L1350.9,1577.8L1351.1,1577.4L1351.4,1577.8L1351.7,1580.3L1352.0,1583.6L1352.3,1583.3L1352.5,1579.6L1352.8,1582.0L1353.1,1579.8L1353.4,1586.4L1353.7,1589.5L1353.9,1589.8L1354.2,1594.5L1354.5,1589.5L1354.8,1597.2L1355.1,1589.8L1355.3,1594.8L1355.6,1594.0L1355.9,1596.3L1356.2,1598.7L1356.5,1595.5L1356.7,1592.7L1357.0,1596.3L1357.3,1598.0L1357.6,1597.8L1357.9,1605.5L1358.1,1600.2L1358.4,1599.8L1358.7,1604.4L1359.0,1603.7L1359.3,1602.1L1359.5,1602.0L1359.8,1605.0L1360.1,1604.7L1360.4,1606.0L1360.7,1605.6L1360.9,1601.4L1361.2,1606.9L1361.5,1600.6L1361.8,1601.3L1362.1,1601.4L1362.3,1605.2L1362.6,1612.1L1362.9,1607.3L1363.2,1608.1L1363.5,1607.7L1363.7,1612.3L1364.0,1604.5L1364.3,1610.7L1364.6,1611.9L1364.9,1614.6L1365.1,1611.2L1365.4,1610.8L1365.7,1611.0L1366.0,1608.0L1366.3,1612.0L1366.5,1613.3L1366.8,1614.7L1367.1,1615.8L1367.4,1610.7L1367.7,1611.8L1367.9,1615.7L1368.2,1611.7L1368.5,1619.8L1368.8,1611.6L1369.1,1615.0L1369.3,1613.5L1369.6,1617.4L1369.9,1613.9L1370.2,1616.4L1370.5,1615.2L1370.7,1614.8L1371.0,1616.5L1371.3,1618.9L1371.6,1617.3L1371.9,1615.7L1372.1,1613.1L1372.4,1614.6L1372.7,1612.6L1373.0,1619.4L1373.3,1614.5L1373.5,1618.7L1373.8,1620.5L1374.1,1622.8L1374.4,1620.5L1374.7,1616.1L1374.9,1618.5L1375.2,1617.7L1375.5,1615.3L1375.8,1613.6L1376.1,1621.3L1376.3,1617.8L1376.6,1620.2L1376.9,1619.9L1377.2,1618.2L1377.5,1618.6L1377.7,1622.0L1378.0,1622.5L1378.3,1622.6L1378.6,1620.2L1378.9,1621.2L1379.1,1619.4L1379.4,1615.9L1379.7,1622.4L1380.0,1616.9L1380.3,1618.4L1380.5,1616.4L1380.8,1619.8L1381.1,1622.9L1381.4,1621.8L1381.7,1617.5L1381.9,1621.3L1382.2,1614.3L1382.5,1617.6L1382.8,1615.8L1383.1,1617.2L1383.3,1619.5L1383.6,1614.6L1383.9,1621.9L1384.2,1621.4L1384.5,1620.7L1384.7,1619.1L1385.0,1621.2L1385.3,1621.8L1385.6,1618.5L1385.9,1614.9L1386.1,1617.8L1386.4,1618.8L1386.7,1614.2L1387.0,1620.0L1387.3,1617.8L1387.5,1617.8L1387.8,1621.7L1388.1,1617.3L1388.4,1616.7L1388.7,1620.1L1388.9,1617.2L1389.2,1621.5L1389.5,1617.8L1389.8,1618.6L1390.1,1621.3L1390.3,1618.3L1390.6,1617.1L1390.9,1621.3L1391.2,1614.9L1391.5,1616.4L1391.7,1620.1L1392.0,1618.1L1392.3,1620.3L1392.6,1616.5L1392.9,1619.3L1393.1,1617.7L1393.4,1622.3L1393.7,1621.7L1394.0,1622.8L1394.3,1621.8L1394.5,1620.8L1394.8,1620.8L1395.1,1619.5L1395.4,1621.3L1395.7,1618.8L1395.9,1620.1L1396.2,1616.2L1396.5,1621.3L1396.8,1620.1L1397.1,1619.3L1397.3,1618.6L1397.6,1619.5L1397.9,1617.2L1398.2,1617.2L1398.5,1622.0L1398.7,1613.2L1399.0,1620.3L1399.3,1616.3L1399.6,1619.4L1399.9,1615.7L1400.1,1617.4L1400.4,1622.5L1400.7,1615.9L1401.0,1616.4L1401.3,1618.7L1401.5,1617.3L1401.8,1615.9L1402.1,1612.4L1402.4,1615.4L1402.7,1615.1L1402.9,1617.9L1403.2,1617.0L1403.5,1612.1L1403.8,1616.4L1404.1,1618.1L1404.3,1618.1L1404.6,1616.6L1404.9,1620.4L1405.2,1612.5L1405.5,1612.3L1405.7,1620.5L1406.0,1616.4L1406.3,1617.9L1406.6,1616.0L1406.9,1616.8L1407.1,1623.0L1407.4,1621.5L1407.7,1620.7L1408.0,1617.0L1408.3,1617.5L1408.5,1612.1L1408.8,1613.6L1409.1,1616.6L1409.4,1616.8L1409.7,1615.7L1409.9,1617.0L1410.2,1619.2L1410.5,1616.5L1410.8,1613.3L1411.1,1616.5L1411.3,1615.5L1411.6,1617.8L1411.9,1616.6L1412.2,1614.3L1412.5,1616.6L1412.7,1620.5L1413.0,1622.2L1413.3,1620.2L1413.6,1615.4L1413.9,1617.1L1414.1,1617.8L1414.4,1614.9L1414.7,1617.2L1415.0,1614.7L1415.3,1611.4L1415.5,1616.4L1415.8,1615.2L1416.1,1621.1L1416.4,1617.9L1416.7,1614.3L1416.9,1613.6L1417.2,1613.5L1417.5,1621.3L1417.8,1617.8L1418.1,1614.2L1418.3,1611.7L1418.6,1618.2L1418.9,1614.0L1419.2,1612.0L1419.4,1616.8L1419.7,1616.2L1420.0,1616.8L1420.3,1616.7L1420.6,1616.0L1420.8,1616.9L1421.1,1615.3L1421.4,1619.4L1421.7,1613.7L1422.0,1619.3L1422.2,1617.1L1422.5,1613.9L1422.8,1619.3L1423.1,1617.2L1423.4,1619.7L1423.6,1623.1L1423.9,1616.8L1424.2,1616.1L1424.5,1614.1L1424.8,1613.5L1425.0,1614.7L1425.3,1619.3L1425.6,1619.7L1425.9,1614.5L1426.2,1620.0L1426.4,1619.7L1426.7,1615.5L1427.0,1615.2L1427.3,1616.4L1427.6,1614.5L1427.8,1613.5L1428.1,1617.2L1428.4,1615.7L1428.7,1611.1L1429.0,1613.8L1429.2,1615.4L1429.5,1621.8L1429.8,1617.7L1430.1,1616.4L1430.4,1615.3L1430.6,1617.0L1430.9,1614.6L1431.2,1613.4L1431.5,1620.9L1431.8,1611.6L1432.0,1615.4L1432.3,1621.3L1432.6,1618.4L1432.9,1620.0L1433.2,1611.3L1433.4,1621.0L1433.7,1619.3L1434.0,1614.1L1434.3,1624.0L1434.6,1622.9L1434.8,1616.9L1435.1,1619.0L1435.4,1620.5L1435.7,1616.3L1436.0,1619.0L1436.2,1622.6L1436.5,1620.3L1436.8,1620.1L1437.1,1620.7L1437.4,1620.8L1437.6,1620.8L1437.9,1617.2L1438.2,1624.8L1438.5,1620.4L1438.8,1619.4L1439.0,1616.7L1439.3,1615.4L1439.6,1619.2L1439.9,1614.4L1440.2,1614.3L1440.4,1615.9L1440.7,1620.4L1441.0,1616.6L1441.3,1619.0L1441.6,1615.3L1441.8,1616.2L1442.1,1615.7L1442.4,1618.4L1442.7,1614.9L1443.0,1617.9L1443.2,1615.8L1443.5,1621.1L1443.8,1621.4L1444.1,1621.1L1444.4,1617.8L1444.6,1617.9L1444.9,1617.8L1445.2,1622.6L1445.5,1620.2L1445.8,1621.4L1446.0,1623.1L1446.3,1625.6L1446.6,1620.9L1446.9,1620.3L1447.2,1618.7L1447.4,1622.7L1447.7,1618.1L1448.0,1624.5L1448.3,1619.3L1448.6,1619.3L1448.8,1620.9L1449.1,1622.0L1449.4,1620.2L1449.7,1621.1L1450.0,1617.3L1450.2,1621.6L1450.5,1618.5L1450.8,1619.7L1451.1,1619.0L1451.4,1620.7L1451.6,1620.7L1451.9,1618.7L1452.2,1622.6L1452.5,1616.7L1452.8,1612.4L1453.0,1621.1L1453.3,1625.8L1453.6,1616.2L1453.9,1620.1L1454.2,1621.2L1454.4,1620.9L1454.7,1621.4L1455.0,1621.4L1455.3,1621.5L1455.6,1620.5L1455.8,1622.4L1456.1,1619.4L1456.4,1619.1L1456.7,1618.1L1457.0,1619.1L1457.2,1616.7L1457.5,1621.3L1457.8,1621.6L1458.1,1623.3L1458.4,1620.1L1458.6,1623.4L1458.9,1621.6L1459.2,1625.1L1459.5,1622.6L1459.8,1622.5L1460.0,1620.2L1460.3,1623.6L1460.6,1620.5L1460.9,1624.7L1461.2,1623.2L1461.4,1619.3L1461.7,1621.3L1462.0,1622.2L1462.3,1624.9L1462.6,1622.5L1462.8,1622.0L1463.1,1624.6L1463.4,1620.0L1463.7,1619.6L1464.0,1619.6L1464.2,1623.1L1464.5,1619.4L1464.8,1626.9L1465.1,1623.1L1465.4,1624.5L1465.6,1623.5L1465.9,1620.9L1466.2,1621.0L1466.5,1620.6L1466.8,1624.1L1467.0,1622.0L1467.3,1615.8L1467.6,1622.7L1467.9,1624.9L1468.2,1623.8L1468.4,1622.7L1468.7,1626.1L1469.0,1622.9L1469.3,1624.8L1469.6,1623.3L1469.8,1624.3L1470.1,1624.0L1470.4,1620.5L1470.7,1624.6L1471.0,1625.5L1471.2,1625.2L1471.5,1627.2L1471.8,1627.6L1472.1,1622.5L1472.4,1627.4L1472.6,1631.0L1472.9,1626.6L1473.2,1626.6L1473.5,1622.7L1473.8,1626.6L1474.0,1627.6L1474.3,1633.3L1474.6,1628.4L1474.9,1627.9L1475.2,1624.8L1475.4,1624.3L1475.7,1625.8L1476.0,1623.6L1476.3,1626.4L1476.6,1627.9L1476.8,1624.2L1477.1,1628.6L1477.4,1624.6L1477.7,1626.0L1478.0,1623.4L1478.2,1622.6L1478.5,1625.6L1478.8,1623.0L1479.1,1625.3L1479.4,1624.9L1479.6,1621.2L1479.9,1623.4L1480.2,1625.3L1480.5,1626.9L1480.8,1624.9L1481.0,1623.4L1481.3,1621.7L1481.6,1620.3L1481.9,1623.8L1482.2,1624.2L1482.4,1624.4L1482.7,1624.5L1483.0,1626.2L1483.3,1623.6L1483.6,1624.9L1483.8,1627.5L1484.1,1623.1L1484.4,1625.8L1484.7,1626.4L1485.0,1623.1L1485.2,1622.6L1485.5,1623.5L1485.8,1628.5L1486.1,1626.7L1486.4,1624.7L1486.6,1624.8L1486.9,1626.6L1487.2,1630.2L1487.5,1631.4L1487.8,1627.7L1488.0,1626.3L1488.3,1627.7L1488.6,1625.9L1488.9,1625.4L1489.2,1623.8L1489.4,1624.2L1489.7,1627.1L1490.0,1625.8L1490.3,1626.4L1490.6,1629.1L1490.8,1623.7L1491.1,1627.4L1491.4,1624.0L1491.7,1622.6L1492.0,1629.2L1492.2,1623.0L1492.5,1623.8L1492.8,1624.1L1493.1,1626.2L1493.4,1623.7L1493.6,1626.3L1493.9,1620.5L1494.2,1624.1L1494.5,1621.7L1494.8,1624.2L1495.0,1624.0L1495.3,1622.0L1495.6,1625.6L1495.9,1624.3L1496.2,1626.5L1496.4,1624.2L1496.7,1623.4L1497.0,1622.3L1497.3,1622.0L1497.6,1620.0L1497.8,1625.1L1498.1,1624.7L1498.4,1622.7L1498.7,1625.5L1498.9,1624.6L1499.2,1622.2L1499.5,1625.8L1499.8,1625.5L1500.1,1625.4L1500.3,1624.8L1500.6,1626.7L1500.9,1623.8L1501.2,1626.7L1501.5,1626.7L1501.7,1625.6L1502.0,1624.7L1502.3,1620.2L1502.6,1625.4L1502.9,1623.8L1503.1,1628.5L1503.4,1625.8L1503.7,1624.2L1504.0,1620.7L1504.3,1621.7L1504.5,1623.0L1504.8,1623.7L1505.1,1625.7L1505.4,1625.5L1505.7,1622.5L1505.9,1618.9L1506.2,1621.8L1506.5,1625.4L1506.8,1624.6L1507.1,1625.5L1507.3,1623.1L1507.6,1624.4L1507.9,1627.2L1508.2,1630.7L1508.5,1622.4L1508.7,1624.3L1509.0,1630.8L1509.3,1623.4L1509.6,1627.7L1509.9,1625.6L1510.1,1621.4L1510.4,1622.7L1510.7,1626.3L1511.0,1627.0L1511.3,1626.9L1511.5,1625.7L1511.8,1626.0L1512.1,1625.5L1512.4,1622.2L1512.7,1630.7L1512.9,1630.9L1513.2,1629.9L1513.5,1623.0L1513.8,1626.2L1514.1,1621.7L1514.3,1623.3L1514.6,1629.0L1514.9,1621.4L1515.2,1621.0L1515.5,1625.1L1515.7,1625.3L1516.0,1621.3L1516.3,1621.5L1516.6,1620.6L1516.9,1615.9L1517.1,1620.9L1517.4,1619.5L1517.7,1622.1L1518.0,1621.7L1518.3,1617.0L1518.5,1620.7L1518.8,1620.4L1519.1,1623.6L1519.4,1623.4L1519.7,1623.0L1519.9,1622.5L1520.2,1623.6L1520.5,1624.2L1520.8,1621.6L1521.1,1622.3L1521.3,1620.4L1521.6,1621.0L1521.9,1626.8L1522.2,1624.0L1522.5,1624.3L1522.7,1623.6L1523.0,1618.8L1523.3,1622.7L1523.6,1626.9L1523.9,1625.7L1524.1,1623.4L1524.4,1626.6L1524.7,1623.7L1525.0,1628.1L1525.3,1624.5L1525.5,1628.9L1525.8,1623.9L1526.1,1622.6L1526.4,1625.3L1526.7,1626.0L1526.9,1619.8L1527.2,1624.3L1527.5,1624.0L1527.8,1623.9L1528.1,1625.1L1528.3,1623.7L1528.6,1624.6L1528.9,1626.4L1529.2,1624.7L1529.5,1629.9L1529.7,1623.4L1530.0,1623.7L1530.3,1624.2L1530.6,1627.4L1530.9,1623.3L1531.1,1631.4L1531.4,1628.6L1531.7,1626.4L1532.0,1624.6L1532.3,1626.7L1532.5,1624.8L1532.8,1625.8L1533.1,1629.9L1533.4,1626.3L1533.7,1628.0L1533.9,1627.5L1534.2,1629.3L1534.5,1625.1L1534.8,1629.7L1535.1,1631.6L1535.3,1624.6L1535.6,1627.8L1535.9,1625.4L1536.2,1626.6L1536.5,1625.0L1536.7,1624.8L1537.0,1626.1L1537.3,1625.2L1537.6,1625.9L1537.9,1624.4L1538.1,1621.8L1538.4,1629.8L1538.7,1626.1L1539.0,1624.8L1539.3,1622.9L1539.5,1628.6L1539.8,1624.3L1540.1,1628.3L1540.4,1625.8L1540.7,1631.3L1540.9,1626.1L1541.2,1629.0L1541.5,1625.8L1541.8,1627.6L1542.1,1632.9L1542.3,1627.1L1542.6,1628.5L1542.9,1624.8L1543.2,1625.1L1543.5,1628.0L1543.7,1629.1L1544.0,1628.5L1544.3,1626.2L1544.6,1626.9L1544.9,1629.2L1545.1,1625.7L1545.4,1627.1L1545.7,1626.8L1546.0,1624.8L1546.3,1624.3L1546.5,1626.9L1546.8,1627.5L1547.1,1628.6L1547.4,1624.8L1547.7,1626.5L1547.9,1628.7L1548.2,1628.4L1548.5,1622.6L1548.8,1624.3L1549.1,1623.7L1549.3,1626.9L1549.6,1623.6L1549.9,1627.9L1550.2,1626.5L1550.5,1622.5L1550.7,1623.4L1551.0,1627.4L1551.3,1626.3L1551.6,1626.6L1551.9,1624.9L1552.1,1626.0L1552.4,1626.6L1552.7,1627.9L1553.0,1629.6L1553.3,1625.5L1553.5,1630.6L1553.8,1628.9L1554.1,1626.3L1554.4,1631.4L1554.7,1627.9L1554.9,1632.5L1555.2,1630.2L1555.5,1631.5L1555.8,1630.8L1556.1,1631.6L1556.3,1626.1L1556.6,1630.9L1556.9,1631.4L1557.2,1630.4L1557.5,1627.4L1557.7,1634.0L1558.0,1633.9L1558.3,1627.3L1558.6,1627.0L1558.9,1625.7L1559.1,1630.5L1559.4,1625.7L1559.7,1624.8L1560.0,1623.6L1560.3,1626.4L1560.5,1625.6L1560.8,1622.6L1561.1,1625.6L1561.4,1627.5L1561.7,1624.4L1561.9,1626.5L1562.2,1628.4L1562.5,1628.7L1562.8,1628.8L1563.1,1625.2L1563.3,1629.0L1563.6,1626.5L1563.9,1627.6L1564.2,1629.1L1564.5,1628.3L1564.7,1628.1L1565.0,1628.6L1565.3,1626.1L1565.6,1623.6L1565.9,1630.1L1566.1,1626.1L1566.4,1628.0L1566.7,1623.6L1567.0,1632.6L1567.3,1628.3L1567.5,1627.2L1567.8,1630.0L1568.1,1629.1L1568.4,1627.5L1568.7,1628.6L1568.9,1632.6L1569.2,1632.2L1569.5,1627.3L1569.8,1631.5L1570.1,1631.7L1570.3,1627.5L1570.6,1631.1L1570.9,1623.4L1571.2,1626.6L1571.5,1626.0L1571.7,1625.2L1572.0,1627.7L1572.3,1626.2L1572.6,1624.0L1572.9,1623.7L1573.1,1624.0L1573.4,1625.0L1573.7,1622.6L1574.0,1625.8L1574.3,1628.4L1574.5,1627.8L1574.8,1622.7L1575.1,1624.3L1575.4,1627.4L1575.7,1629.5L1575.9,1634.8L1576.2,1628.2L1576.5,1629.9L1576.8,1625.6L1577.0,1628.8L1577.3,1626.5L1577.6,1628.6L1577.9,1631.2L1578.2,1627.5L1578.4,1632.6L1578.7,1629.3L1579.0,1629.2L1579.3,1631.3L1579.6,1626.7L1579.8,1630.0L1580.1,1625.8L1580.4,1627.4L1580.7,1627.7L1581.0,1624.9L1581.2,1628.2L1581.5,1625.4L1581.8,1627.6L1582.1,1625.5L1582.4,1619.9L1582.6,1622.6L1582.9,1622.4L1583.2,1620.5L1583.5,1624.5L1583.8,1620.4L1584.0,1624.8L1584.3,1625.3L1584.6,1622.9L1584.9,1622.3L1585.2,1622.3L1585.4,1621.1L1585.7,1624.5L1586.0,1621.9L1586.3,1627.5L1586.6,1625.3L1586.8,1627.9L1587.1,1622.6L1587.4,1623.0L1587.7,1625.4L1588.0,1628.9L1588.2,1624.7L1588.5,1620.4L1588.8,1623.4L1589.1,1623.1L1589.4,1621.5L1589.6,1621.8L1589.9,1625.3L1590.2,1624.8L1590.5,1615.8L1590.8,1624.8L1591.0,1620.8L1591.3,1624.0L1591.6,1627.9L1591.9,1620.3L1592.2,1622.3L1592.4,1626.9L1592.7,1624.0L1593.0,1624.8L1593.3,1622.4L1593.6,1625.9L1593.8,1618.8L1594.1,1623.9L1594.4,1618.7L1594.7,1623.6L1595.0,1623.0L1595.2,1623.7L1595.5,1620.9L1595.8,1623.2L1596.1,1622.7L1596.4,1622.8L1596.6,1619.8L1596.9,1619.6L1597.2,1620.0L1597.5,1618.9L1597.8,1621.4L1598.0,1620.0L1598.3,1621.4L1598.6,1622.1L1598.9,1620.3L1599.2,1622.5L1599.4,1621.5L1599.7,1615.6L1600.0,1625.9L1600.3,1623.3L1600.6,1618.9L1600.8,1625.7L1601.1,1618.5L1601.4,1620.5L1601.7,1622.0L1602.0,1619.9L1602.2,1619.4L1602.5,1621.7L1602.8,1620.6L1603.1,1622.5L1603.4,1620.1L1603.6,1617.9L1603.9,1619.5L1604.2,1623.0L1604.5,1619.1L1604.8,1622.6L1605.0,1622.1L1605.3,1619.0L1605.6,1615.6L1605.9,1618.1L1606.2,1617.3L1606.4,1620.6L1606.7,1619.5L1607.0,1620.0L1607.3,1622.7L1607.6,1624.3L1607.8,1621.7L1608.1,1626.5L1608.4,1617.2L1608.7,1622.1L1609.0,1628.6L1609.2,1620.5L1609.5,1618.7L1609.8,1617.8L1610.1,1619.9L1610.4,1620.3L1610.6,1621.7L1610.9,1615.7L1611.2,1617.0L1611.5,1618.1L1611.8,1619.1L1612.0,1617.7L1612.3,1622.1L1612.6,1619.8L1612.9,1617.5L1613.2,1619.3L1613.4,1621.7L1613.7,1621.9L1614.0,1622.3L1614.3,1620.7L1614.6,1621.4L1614.8,1617.7L1615.1,1619.8L1615.4,1619.5L1615.7,1622.0L1616.0,1612.6L1616.2,1618.3L1616.5,1619.8L1616.8,1616.3L1617.1,1615.8L1617.4,1619.3L1617.6,1619.3L1617.9,1615.9L1618.2,1620.0L1618.5,1618.8L1618.8,1617.5L1619.0,1617.2L1619.3,1612.0L1619.6,1622.8L1619.9,1620.3L1620.2,1619.6L1620.4,1618.0L1620.7,1620.6L1621.0,1616.8L1621.3,1616.7L1621.6,1618.6L1621.8,1623.6L1622.1,1618.6L1622.4,1620.3L1622.7,1616.9L1623.0,1622.2L1623.2,1617.4L1623.5,1618.0L1623.8,1618.8L1624.1,1615.5L1624.4,1616.7L1624.6,1618.6L1624.9,1617.5L1625.2,1620.5L1625.5,1614.3L1625.8,1616.1L1626.0,1619.0L1626.3,1620.1L1626.6,1620.0L1626.9,1618.5L1627.2,1618.3L1627.4,1619.4L1627.7,1621.5L1628.0,1612.9L1628.3,1618.0L1628.6,1614.4L1628.8,1614.8L1629.1,1613.3L1629.4,1617.7L1629.7,1624.3L1630.0,1618.9L1630.2,1618.3L1630.5,1616.9L1630.8,1619.3L1631.1,1622.4L1631.4,1616.3L1631.6,1619.6L1631.9,1621.2L1632.2,1621.8L1632.5,1618.2L1632.8,1619.3L1633.0,1621.1L1633.3,1618.6L1633.6,1622.1L1633.9,1621.3L1634.2,1624.6L1634.4,1618.5L1634.7,1621.6L1635.0,1615.9L1635.3,1618.0L1635.6,1615.1L1635.8,1618.3L1636.1,1620.2L1636.4,1621.4L1636.7,1618.0L1637.0,1619.0L1637.2,1615.3L1637.5,1618.8L1637.8,1621.4L1638.1,1620.1L1638.4,1622.4L1638.6,1618.9L1638.9,1617.9L1639.2,1621.4L1639.5,1627.1L1639.8,1621.9L1640.0,1623.6L1640.3,1620.2L1640.6,1619.8L1640.9,1617.2L1641.2,1621.2L1641.4,1624.0L1641.7,1620.1L1642.0,1621.6L1642.3,1625.3L1642.6,1625.1L1642.8,1623.0L1643.1,1623.9L1643.4,1626.2L1643.7,1621.3L1644.0,1618.7L1644.2,1622.3L1644.5,1623.1L1644.8,1624.0L1645.1,1617.9L1645.4,1620.3L1645.6,1620.6L1645.9,1621.5L1646.2,1625.9L1646.5,1621.9L1646.8,1620.7L1647.0,1619.3L1647.3,1625.4L1647.6,1620.0L1647.9,1616.3L1648.2,1617.8L1648.4,1620.3L1648.7,1618.2L1649.0,1620.1L1649.3,1619.3L1649.6,1620.4L1649.8,1619.3L1650.1,1618.8L1650.4,1622.6L1650.7,1618.2L1651.0,1617.9L1651.2,1622.8L1651.5,1623.5L1651.8,1616.3L1652.1,1622.7L1652.4,1624.3L1652.6,1621.4L1652.9,1621.1L1653.2,1621.9L1653.5,1623.8L1653.8,1621.9L1654.0,1622.0L1654.3,1622.2L1654.6,1623.0L1654.9,1622.7L1655.2,1624.7L1655.4,1622.0L1655.7,1619.8L1656.0,1616.3L1656.3,1617.3L1656.5,1622.7L1656.8,1618.8L1657.1,1620.6L1657.4,1621.5L1657.7,1623.9L1657.9,1618.4L1658.2,1626.3L1658.5,1620.4L1658.8,1620.3L1659.1,1627.1L1659.3,1623.6L1659.6,1626.0L1659.9,1622.8L1660.2,1626.1L1660.5,1623.1L1660.7,1625.3L1661.0,1625.1L1661.3,1622.9L1661.6,1627.6L1661.9,1625.2L1662.1,1625.3L1662.4,1626.1L1662.7,1622.8L1663.0,1624.4L1663.3,1626.7L1663.5,1620.1L1663.8,1626.9L1664.1,1627.0L1664.4,1625.1L1664.7,1625.2L1664.9,1622.4L1665.2,1627.1L1665.5,1621.8L1665.8,1626.6L1666.1,1621.4L1666.3,1624.7L1666.6,1620.6L1666.9,1626.2L1667.2,1624.2L1667.5,1623.6L1667.7,1622.4L1668.0,1620.8L1668.3,1621.1L1668.6,1623.2L1668.9,1624.0L1669.1,1625.3L1669.4,1622.0L1669.7,1618.2L1670.0,1621.9L1670.3,1619.1L1670.5,1625.1L1670.8,1621.8L1671.1,1621.1L1671.4,1621.0L1671.7,1623.9L1671.9,1624.3L1672.2,1618.9L1672.5,1626.5L1672.8,1621.8L1673.1,1622.6L1673.3,1625.0L1673.6,1624.6L1673.9,1627.9L1674.2,1627.3L1674.5,1627.1L1674.7,1624.4L1675.0,1628.7L1675.3,1621.9L1675.6,1623.5L1675.9,1621.9L1676.1,1626.4L1676.4,1623.7L1676.7,1624.8L1677.0,1620.0L1677.3,1626.0L1677.5,1621.5L1677.8,1624.8L1678.1,1624.1L1678.4,1621.0L1678.7,1620.9L1678.9,1621.6L1679.2,1623.8L1679.5,1619.8L1679.8,1617.9L1680.1,1624.8L1680.3,1624.1L1680.6,1617.6L1680.9,1621.4L1681.2,1622.1L1681.5,1622.9L1681.7,1621.3L1682.0,1623.9L1682.3,1623.9L1682.6,1624.0L1682.9,1626.2L1683.1,1624.9L1683.4,1623.9L1683.7,1622.1L1684.0,1622.0L1684.3,1623.0L1684.5,1623.4L1684.8,1626.1L1685.1,1626.1L1685.4,1622.5L1685.7,1623.1L1685.9,1625.4L1686.2,1625.2L1686.5,1622.3L1686.8,1628.1L1687.1,1625.7L1687.3,1624.3L1687.6,1622.9L1687.9,1626.6L1688.2,1625.5L1688.5,1625.1L1688.7,1628.2L1689.0,1625.9L1689.3,1626.5L1689.6,1627.7L1689.9,1622.5L1690.1,1622.9L1690.4,1623.5L1690.7,1622.9L1691.0,1622.4L1691.3,1624.6L1691.5,1619.7L1691.8,1620.7L1692.1,1621.5L1692.4,1621.3L1692.7,1616.7L1692.9,1620.5L1693.2,1626.9L1693.5,1621.8L1693.8,1629.2L1694.1,1617.4L1694.3,1623.6L1694.6,1622.4L1694.9,1625.0L1695.2,1626.5L1695.5,1627.8L1695.7,1624.8L1696.0,1623.4L1696.3,1626.6L1696.6,1624.0L1696.9,1625.6L1697.1,1623.6L1697.4,1622.2L1697.7,1622.1L1698.0,1627.9L1698.3,1624.9L1698.5,1625.5L1698.8,1623.9L1699.1,1624.4L1699.4,1624.5L1699.7,1623.8L1699.9,1621.4L1700.2,1622.2L1700.5,1624.2L1700.8,1616.6L1701.1,1620.4L1701.3,1623.5L1701.6,1621.7L1701.9,1619.6L1702.2,1621.8L1702.5,1619.9L1702.7,1621.5L1703.0,1622.4L1703.3,1618.8L1703.6,1623.9L1703.9,1625.7L1704.1,1620.5L1704.4,1618.9L1704.7,1622.8L1705.0,1622.3L1705.3,1622.7L1705.5,1623.5L1705.8,1625.3L1706.1,1620.3L1706.4,1626.5L1706.7,1627.8L1706.9,1625.5L1707.2,1624.2L1707.5,1621.4L1707.8,1626.9L1708.1,1625.4L1708.3,1627.8L1708.6,1628.1L1708.9,1626.8L1709.2,1623.5L1709.5,1626.6L1709.7,1626.7L1710.0,1627.6L1710.3,1629.8L1710.6,1627.2L1710.9,1629.7L1711.1,1624.4L1711.4,1624.3L1711.7,1624.7L1712.0,1625.7L1712.3,1624.5L1712.5,1620.7L1712.8,1620.8L1713.1,1623.1L1713.4,1621.7L1713.7,1624.5L1713.9,1627.4L1714.2,1622.7L1714.5,1619.9L1714.8,1621.7L1715.1,1624.9L1715.3,1621.4L1715.6,1623.2L1715.9,1624.5L1716.2,1621.3L1716.5,1625.4L1716.7,1619.8L1717.0,1619.5L1717.3,1621.7L1717.6,1623.0L1717.9,1616.7L1718.1,1621.5L1718.4,1621.8L1718.7,1623.2L1719.0,1620.5L1719.3,1623.2L1719.5,1618.9L1719.8,1619.9L1720.1,1621.5L1720.4,1622.5L1720.7,1626.4L1720.9,1622.0L1721.2,1625.6L1721.5,1620.3L1721.8,1621.2L1722.1,1621.8L1722.3,1624.7L1722.6,1623.9L1722.9,1626.0L1723.2,1623.2L1723.5,1624.2L1723.7,1623.1L1724.0,1623.2L1724.3,1623.6L1724.6,1628.8L1724.9,1624.1L1725.1,1626.3L1725.4,1625.4L1725.7,1625.6L1726.0,1627.7L1726.3,1632.3L1726.5,1622.7L1726.8,1624.6L1727.1,1623.3L1727.4,1626.9L1727.7,1625.5L1727.9,1626.1L1728.2,1624.7L1728.5,1623.2L1728.8,1617.7L1729.1,1622.9L1729.3,1620.6L1729.6,1623.7L1729.9,1624.7L1730.2,1618.8L1730.5,1622.4L1730.7,1619.2L1731.0,1616.5L1731.3,1621.1L1731.6,1624.0L1731.9,1623.5L1732.1,1622.1L1732.4,1619.4L1732.7,1625.1L1733.0,1621.0L1733.3,1618.8L1733.5,1621.6L1733.8,1623.8L1734.1,1621.4L1734.4,1623.7L1734.6,1622.7L1734.9,1625.9L1735.2,1623.5L1735.5,1623.4L1735.8,1620.0L1736.0,1625.8L1736.3,1625.9L1736.6,1624.5L1736.9,1624.3L1737.2,1622.8L1737.4,1622.8L1737.7,1624.9L1738.0,1624.4L1738.3,1622.6L1738.6,1621.6L1738.8,1622.8L1739.1,1625.9L1739.4,1622.3L1739.7,1628.6L1740.0,1623.5L1740.2,1620.7L1740.5,1623.6L1740.8,1629.2L1741.1,1625.7L1741.4,1621.9L1741.6,1619.9L1741.9,1624.9L1742.2,1619.9L1742.5,1622.5L1742.8,1623.4L1743.0,1619.9L1743.3,1621.4L1743.6,1620.3L1743.9,1620.0L1744.2,1617.0L1744.4,1625.1L1744.7,1621.3L1745.0,1618.6L1745.3,1622.0L1745.6,1621.6L1745.8,1622.3L1746.1,1620.3L1746.4,1623.8L1746.7,1617.3L1747.0,1622.2L1747.2,1626.9L1747.5,1622.9L1747.8,1619.2L1748.1,1620.5L1748.4,1622.4L1748.6,1619.0L1748.9,1616.7L1749.2,1619.5L1749.5,1617.0L1749.8,1620.7L1750.0,1614.7L1750.3,1617.8L1750.6,1624.1L1750.9,1619.1L1751.2,1621.5L1751.4,1619.5L1751.7,1613.5L1752.0,1617.1L1752.3,1616.4L1752.6,1619.5L1752.8,1614.4L1753.1,1619.3L1753.4,1615.6L1753.7,1620.8L1754.0,1619.8L1754.2,1620.3L1754.5,1623.6L1754.8,1618.7L1755.1,1619.6L1755.4,1617.0L1755.6,1618.6L1755.9,1617.2L1756.2,1620.2L1756.5,1617.1L1756.8,1619.2L1757.0,1623.1L1757.3,1617.6L1757.6,1618.6L1757.9,1616.1L1758.2,1620.8L1758.4,1620.5L1758.7,1619.4L1759.0,1619.5L1759.3,1620.4L1759.6,1617.3L1759.8,1615.2L1760.1,1617.2L1760.4,1611.9L1760.7,1613.6L1761.0,1612.9L1761.2,1613.7L1761.5,1616.9L1761.8,1610.5L1762.1,1617.6L1762.4,1611.6L1762.6,1617.1L1762.9,1612.2L1763.2,1615.5L1763.5,1612.4L1763.8,1617.3L1764.0,1615.4L1764.3,1610.0L1764.6,1617.9L1764.9,1614.0L1765.2,1614.2L1765.4,1610.5L1765.7,1615.4L1766.0,1612.8L1766.3,1609.5L1766.6,1612.9L1766.8,1611.7L1767.1,1610.0L1767.4,1612.5L1767.7,1607.0L1768.0,1611.9L1768.2,1611.3L1768.5,1612.9L1768.8,1610.4L1769.1,1611.1L1769.4,1613.2L1769.6,1613.7L1769.9,1614.4L1770.2,1612.4L1770.5,1614.6L1770.8,1608.9L1771.0,1615.1L1771.3,1616.9L1771.6,1609.5L1771.9,1608.3L1772.2,1608.7L1772.4,1613.6L1772.7,1611.1L1773.0,1605.1L1773.3,1605.4L1773.6,1610.5L1773.8,1607.4L1774.1,1605.4L1774.4,1605.4L1774.7,1605.2L1775.0,1601.4L1775.2,1603.3L1775.5,1604.9L1775.8,1606.6L1776.1,1606.3L1776.4,1600.2L1776.6,1605.0L1776.9,1599.5L1777.2,1606.2L1777.5,1603.5L1777.8,1605.5L1778.0,1601.2L1778.3,1597.4L1778.6,1602.0L1778.9,1599.7L1779.2,1599.2L1779.4,1596.3L1779.7,1603.7L1780.0,1599.9L1780.3,1601.4L1780.6,1601.0L1780.8,1597.1L1781.1,1601.1L1781.4,1597.3L1781.7,1598.0L1782.0,1593.9L1782.2,1597.1L1782.5,1592.5L1782.8,1598.2L1783.1,1592.8L1783.4,1588.0L1783.6,1596.7L1783.9,1588.9L1784.2,1590.6L1784.5,1591.3L1784.8,1591.3L1785.0,1590.8L1785.3,1591.0L1785.6,1592.8L1785.9,1585.5L1786.2,1588.2L1786.4,1588.5L1786.7,1586.6L1787.0,1583.5L1787.3,1587.6L1787.6,1582.2L1787.8,1583.9L1788.1,1583.5L1788.4,1584.9L1788.7,1580.8L1789.0,1581.8L1789.2,1583.9L1789.5,1580.9L1789.8,1585.3L1790.1,1583.8L1790.4,1582.1L1790.6,1579.8L1790.9,1583.1L1791.2,1584.3L1791.5,1581.1L1791.8,1585.5L1792.0,1583.1L1792.3,1586.6L1792.6,1583.2L1792.9,1579.0L1793.2,1583.8L1793.4,1580.5L1793.7,1585.8L1794.0,1585.7L1794.3,1579.1L1794.6,1583.8L1794.8,1588.7L1795.1,1588.3L1795.4,1588.4L1795.7,1587.9L1796.0,1583.4L1796.2,1583.6L1796.5,1593.0L1796.8,1585.1L1797.1,1591.4L1797.4,1591.7L1797.6,1587.8L1797.9,1590.2L1798.2,1590.8L1798.5,1591.7L1798.8,1589.1L1799.0,1590.4L1799.3,1588.8L1799.6,1592.5L1799.9,1593.8L1800.2,1592.0L1800.4,1595.9L1800.7,1594.6L1801.0,1591.1L1801.3,1590.1L1801.6,1593.0L1801.8,1594.5L1802.1,1592.4L1802.4,1594.5L1802.7,1595.4L1803.0,1592.1L1803.2,1593.7L1803.5,1596.9L1803.8,1592.5L1804.1,1594.6L1804.4,1596.3L1804.6,1597.3L1804.9,1593.8L1805.2,1589.2L1805.5,1589.7L1805.8,1596.4L1806.0,1597.4L1806.3,1593.1L1806.6,1598.4L1806.9,1597.6L1807.2,1594.8L1807.4,1596.5L1807.7,1602.2L1808.0,1600.2L1808.3,1602.9L1808.6,1601.0L1808.8,1603.5L1809.1,1605.0L1809.4,1609.7L1809.7,1609.3L1810.0,1604.8L1810.2,1609.4L1810.5,1607.8L1810.8,1609.9L1811.1,1610.1L1811.4,1612.6L1811.6,1612.3L1811.9,1608.8L1812.2,1612.8L1812.5,1615.6L1812.8,1611.7L1813.0,1613.1L1813.3,1614.5L1813.6,1612.4L1813.9,1619.0L1814.1,1612.9L1814.4,1611.9L1814.7,1609.5L1815.0,1617.9L1815.3,1617.3L1815.5,1620.3L1815.8,1613.0L1816.1,1614.5L1816.4,1614.7L1816.7,1618.3L1816.9,1611.5L1817.2,1615.0L1817.5,1611.9L1817.8,1613.4L1818.1,1612.1L1818.3,1617.3L1818.6,1614.4L1818.9,1616.3L1819.2,1611.0L1819.5,1620.2L1819.7,1617.4L1820.0,1619.0L1820.3,1618.4L1820.6,1617.5L1820.9,1618.5L1821.1,1621.2L1821.4,1619.2L1821.7,1616.0L1822.0,1620.0L1822.3,1612.6L1822.5,1619.6L1822.8,1613.3L1823.1,1618.3L1823.4,1618.4L1823.7,1613.0L1823.9,1612.5L1824.2,1618.8L1824.5,1613.9L1824.8,1614.1L1825.1,1615.9L1825.3,1615.5L1825.6,1616.3L1825.9,1616.8L1826.2,1615.9L1826.5,1619.8L1826.7,1620.0L1827.0,1621.1L1827.3,1622.8L1827.6,1622.2L1827.9,1622.8L1828.1,1621.0L1828.4,1622.8L1828.7,1624.8L1829.0,1619.4L1829.3,1620.5L1829.5,1620.3L1829.8,1620.7L1830.1,1622.1L1830.4,1616.1L1830.7,1621.4L1830.9,1618.4L1831.2,1619.5L1831.5,1619.3L1831.8,1617.4L1832.1,1618.9L1832.3,1621.0L1832.6,1619.4L1832.9,1620.9L1833.2,1620.2L1833.5,1622.1L1833.7,1621.6L1834.0,1623.4L1834.3,1619.7L1834.6,1615.5L1834.9,1617.8L1835.1,1619.4L1835.4,1620.8L1835.7,1619.1L1836.0,1623.1L1836.3,1618.9L1836.5,1619.2L1836.8,1619.7L1837.1,1619.9L1837.4,1621.2L1837.7,1617.3L1837.9,1616.7L1838.2,1620.3L1838.5,1620.1L1838.8,1620.8L1839.1,1617.2L1839.3,1623.9L1839.6,1627.0L1839.9,1622.4L1840.2,1617.8L1840.5,1625.6L1840.7,1623.5L1841.0,1622.8L1841.3,1623.3L1841.6,1623.0L1841.9,1623.4L1842.1,1622.3L1842.4,1626.1L1842.7,1622.0L1843.0,1621.1L1843.3,1624.1L1843.5,1626.8L1843.8,1624.3L1844.1,1619.8L1844.4,1625.1L1844.7,1619.9L1844.9,1620.5L1845.2,1621.7L1845.5,1623.3L1845.8,1621.0L1846.1,1625.1L1846.3,1619.0L1846.6,1621.6L1846.9,1622.4L1847.2,1620.5L1847.5,1620.1L1847.7,1623.9L1848.0,1622.5L1848.3,1629.0L1848.6,1624.4L1848.9,1621.9L1849.1,1625.3L1849.4,1629.0L1849.7,1624.3L1850.0,1624.2L1850.3,1625.5L1850.5,1626.7L1850.8,1624.8L1851.1,1626.1L1851.4,1627.3L1851.7,1624.3L1851.9,1620.6L1852.2,1627.8L1852.5,1624.7L1852.8,1626.7L1853.1,1625.5L1853.3,1626.3L1853.6,1628.1L1853.9,1622.8L1854.2,1630.0L1854.5,1626.3L1854.7,1622.2L1855.0,1624.5L1855.3,1624.7L1855.6,1627.3L1855.9,1622.5L1856.1,1625.3L1856.4,1625.7L1856.7,1624.1L1857.0,1620.2L1857.3,1624.5L1857.5,1626.4L1857.8,1623.4L1858.1,1624.5L1858.4,1624.3L1858.7,1622.8L1858.9,1622.8L1859.2,1625.9L1859.5,1626.1L1859.8,1625.8L1860.1,1623.5L1860.3,1624.5L1860.6,1625.9L1860.9,1620.5L1861.2,1623.9L1861.5,1624.7L1861.7,1622.9L1862.0,1624.7L1862.3,1623.6L1862.6,1628.1L1862.9,1623.3L1863.1,1626.4L1863.4,1627.1L1863.7,1629.8L1864.0,1628.7L1864.3,1624.7L1864.5,1631.1L1864.8,1629.0L1865.1,1628.2L1865.4,1622.1L1865.7,1625.7L1865.9,1624.5L1866.2,1628.7L1866.5,1626.4L1866.8,1627.6L1867.1,1626.9L1867.3,1625.4L1867.6,1621.3L1867.9,1628.6L1868.2,1624.6L1868.5,1626.3L1868.7,1629.2L1869.0,1625.6L1869.3,1626.2L1869.6,1622.5L1869.9,1626.1L1870.1,1626.4L1870.4,1626.9L1870.7,1620.4L1871.0,1625.0L1871.3,1624.2L1871.5,1620.8L1871.8,1623.1L1872.1,1622.2L1872.4,1625.3L1872.7,1623.3L1872.9,1624.0L1873.2,1625.4L1873.5,1623.6L1873.8,1624.2L1874.1,1625.2L1874.3,1622.6L1874.6,1629.2L1874.9,1623.1L1875.2,1623.3L1875.5,1626.0L1875.7,1622.2L1876.0,1623.8L1876.3,1620.1L1876.6,1618.6L1876.9,1624.2L1877.1,1623.5L1877.4,1624.6L1877.7,1621.1L1878.0,1626.7L1878.3,1628.3L1878.5,1627.3L1878.8,1623.2L1879.1,1627.8L1879.4,1623.8L1879.7,1628.9L1879.9,1624.3L1880.2,1627.8L1880.5,1626.8L1880.8,1626.3L1881.1,1625.8L1881.3,1623.3L1881.6,1620.8L1881.9,1625.1L1882.2,1626.0L1882.5,1623.7L1882.7,1625.3L1883.0,1628.3L1883.3,1624.3L1883.6,1627.1L1883.9,1625.4L1884.1,1626.1L1884.4,1623.7L1884.7,1627.8L1885.0,1622.7L1885.3,1625.2L1885.5,1629.8L1885.8,1626.3L1886.1,1626.1L1886.4,1629.5L1886.7,1630.7L1886.9,1627.0L1887.2,1631.1L1887.5,1628.7L1887.8,1625.7L1888.1,1626.1L1888.3,1632.4L1888.6,1627.3L1888.9,1628.5L1889.2,1627.5L1889.5,1625.8L1889.7,1626.0L1890.0,1627.1L1890.3,1623.9L1890.6,1628.5L1890.9,1626.9L1891.1,1625.1L1891.4,1624.4L1891.7,1626.0L1892.0,1624.6L1892.3,1628.8L1892.5,1629.3L1892.8,1624.7L1893.1,1624.0L1893.4,1628.3L1893.6,1626.0L1893.9,1628.0L1894.2,1622.0L1894.5,1627.5L1894.8,1625.0L1895.0,1630.0L1895.3,1625.7L1895.6,1624.7L1895.9,1625.6L1896.2,1627.9L1896.4,1627.3L1896.7,1627.3L1897.0,1626.1L1897.3,1622.2L1897.6,1625.9L1897.8,1624.9L1898.1,1627.0L1898.4,1624.5L1898.7,1626.1L1899.0,1624.3L1899.2,1623.8L1899.5,1626.9L1899.8,1629.2L1900.1,1623.3L1900.4,1624.7L1900.6,1625.1L1900.9,1630.6L1901.2,1625.9L1901.5,1627.8L1901.8,1626.6L1902.0,1628.3L1902.3,1626.8L1902.6,1629.6L1902.9,1627.7L1903.2,1628.2L1903.4,1624.4L1903.7,1623.7L1904.0,1628.0L1904.3,1624.0L1904.6,1625.2L1904.8,1627.5L1905.1,1629.4L1905.4,1624.8L1905.7,1626.9L1906.0,1628.3L1906.2,1623.9L1906.5,1629.4L1906.8,1630.3L1907.1,1627.8L1907.4,1626.7L1907.6,1630.3L1907.9,1625.2L1908.2,1626.6L1908.5,1625.5L1908.8,1627.6L1909.0,1626.6L1909.3,1626.0L1909.6,1625.8L1909.9,1622.3L1910.2,1627.9L1910.4,1622.9L1910.7,1623.7L1911.0,1629.7L1911.3,1628.1L1911.6,1625.9L1911.8,1623.9L1912.1,1625.9L1912.4,1629.1L1912.7,1629.5L1913.0,1628.1L1913.2,1625.5L1913.5,1621.4L1913.8,1627.1L1914.1,1624.0L1914.4,1624.8L1914.6,1623.5L1914.9,1628.1L1915.2,1625.1L1915.5,1627.0L1915.8,1626.1L1916.0,1623.1L1916.3,1628.5L1916.6,1619.9L1916.9,1624.5L1917.2,1625.9L1917.4,1628.8L1917.7,1627.1L1918.0,1624.5L1918.3,1626.4L1918.6,1626.1L1918.8,1625.9L1919.1,1631.1L1919.4,1623.2L1919.7,1626.7L1920.0,1625.4L1920.2,1623.6L1920.5,1623.1L1920.8,1627.5L1921.1,1626.8L1921.4,1623.9L1921.6,1630.2L1921.9,1624.5L1922.2,1628.5L1922.5,1625.2L1922.8,1631.6L1923.0,1629.3L1923.3,1629.8L1923.6,1628.0L1923.9,1629.9L1924.2,1626.5L1924.4,1628.0L1924.7,1625.9L1925.0,1629.1L1925.3,1630.3L1925.6,1627.9L1925.8,1630.7L1926.1,1625.6L1926.4,1631.0L1926.7,1631.5L1927.0,1626.1L1927.2,1629.1L1927.5,1629.6L1927.8,1625.0L1928.1,1626.5L1928.4,1626.8L1928.6,1631.5L1928.9,1628.9L1929.2,1627.9L1929.5,1634.4L1929.8,1626.9L1930.0,1630.8L1930.3,1628.4L1930.6,1628.2L1930.9,1629.5L1931.2,1628.5L1931.4,1629.8L1931.7,1628.8L1932.0,1626.4L1932.3,1624.6L1932.6,1618.9L1932.8,1624.9L1933.1,1625.8L1933.4,1624.7L1933.7,1627.8L1934.0,1625.0L1934.2,1631.3L1934.5,1628.6L1934.8,1628.1L1935.1,1627.5L1935.4,1622.8L1935.6,1624.0L1935.9,1625.2L1936.2,1626.0L1936.5,1626.6L1936.8,1627.0L1937.0,1625.7L1937.3,1627.2L1937.6,1624.0L1937.9,1622.4L1938.2,1627.4L1938.4,1630.3L1938.7,1628.4L1939.0,1626.8L1939.3,1630.6L1939.6,1631.8L1939.8,1627.8L1940.1,1626.7L1940.4,1626.3L1940.7,1625.5L1941.0,1632.0L1941.2,1626.4L1941.5,1628.1L1941.8,1627.8L1942.1,1626.4L1942.4,1632.1L1942.6,1628.7L1942.9,1625.1L1943.2,1628.3L1943.5,1633.2L1943.8,1627.6L1944.0,1630.4L1944.3,1632.1L1944.6,1629.5L1944.9,1628.6L1945.2,1629.8L1945.4,1627.4L1945.7,1630.9L1946.0,1627.0L1946.3,1630.5L1946.6,1630.2L1946.8,1631.2L1947.1,1625.2L1947.4,1627.9L1947.7,1628.1L1948.0,1631.1L1948.2,1626.7L1948.5,1627.6L1948.8,1625.6L1949.1,1630.3L1949.4,1628.8L1949.6,1627.5L1949.9,1625.9L1950.2,1626.4L1950.5,1625.7L1950.8,1627.6L1951.0,1626.6L1951.3,1626.0L1951.6,1630.0L1951.9,1627.6L1952.2,1631.0L1952.4,1625.6L1952.7,1631.4L1953.0,1628.8L1953.3,1625.4L1953.6,1626.6L1953.8,1628.9L1954.1,1622.8L1954.4,1629.5L1954.7,1624.9L1955.0,1626.8L1955.2,1628.6L1955.5,1626.2L1955.8,1627.1L1956.1,1628.5L1956.4,1628.6L1956.6,1622.1L1956.9,1628.9L1957.2,1625.1L1957.5,1625.3L1957.8,1622.3L1958.0,1623.7L1958.3,1628.2L1958.6,1621.5L1958.9,1625.0L1959.2,1628.1L1959.4,1626.9L1959.7,1624.8L1960.0,1622.4L1960.3,1624.8L1960.6,1625.0L1960.8,1624.0L1961.1,1624.4L1961.4,1625.3L1961.7,1624.8L1962.0,1627.6L1962.2,1627.7L1962.5,1623.7L1962.8,1628.5L1963.1,1625.7L1963.4,1623.2L1963.6,1627.9L1963.9,1627.4L1964.2,1624.3L1964.5,1628.6L1964.8,1630.1L1965.0,1625.2L1965.3,1630.3L1965.6,1626.4L1965.9,1625.9L1966.2,1626.3L1966.4,1627.7L1966.7,1628.5L1967.0,1629.0L1967.3,1625.4L1967.6,1627.7L1967.8,1629.1L1968.1,1622.2L1968.4,1624.7L1968.7,1626.5L1969.0,1627.8L1969.2,1624.1L1969.5,1624.8L1969.8,1627.0L1970.1,1626.5L1970.4,1625.5L1970.6,1623.6L1970.9,1623.0L1971.2,1629.0L1971.5,1626.3L1971.7,1627.4L1972.0,1626.8L1972.3,1626.8L1972.6,1624.1L1972.9,1625.3L1973.1,1628.6L1973.4,1626.0L1973.7,1624.2L1974.0,1626.8L1974.3,1626.7L1974.5,1624.1L1974.8,1632.1L1975.1,1622.3L1975.4,1625.4L1975.7,1622.2L1975.9,1624.1L1976.2,1626.4L1976.5,1625.2L1976.8,1624.6L1977.1,1623.1L1977.3,1619.6L1977.6,1621.6L1977.9,1620.4L1978.2,1623.2L1978.5,1623.3L1978.7,1621.9L1979.0,1621.5L1979.3,1627.5L1979.6,1619.9L1979.9,1620.7L1980.1,1623.9L1980.4,1622.5L1980.7,1621.9L1981.0,1622.9L1981.3,1624.1L1981.5,1622.7L1981.8,1625.6L1982.1,1623.1L1982.4,1622.3L1982.7,1620.8L1982.9,1625.5L1983.2,1622.8L1983.5,1624.9L1983.8,1622.9L1984.1,1624.1L1984.3,1623.6L1984.6,1625.8L1984.9,1624.3L1985.2,1622.5L1985.5,1625.6L1985.7,1629.3L1986.0,1623.4L1986.3,1627.3L1986.6,1624.9L1986.9,1622.9L1987.1,1623.3L1987.4,1622.8L1987.7,1621.9L1988.0,1622.7L1988.3,1621.7L1988.5,1624.2L1988.8,1623.5L1989.1,1622.3L1989.4,1626.1L1989.7,1626.8L1989.9,1622.0L1990.2,1623.3L1990.5,1626.4L1990.8,1624.9L1991.1,1624.4L1991.3,1622.0L1991.6,1621.6L1991.9,1629.1L1992.2,1620.4L1992.5,1623.9L1992.7,1622.8L1993.0,1627.6L1993.3,1626.7L1993.6,1627.7L1993.9,1629.8L1994.1,1626.2L1994.4,1632.2L1994.7,1629.1L1995.0,1628.5L1995.3,1623.7L1995.5,1631.5L1995.8,1628.9L1996.1,1629.8L1996.4,1626.6L1996.7,1622.9L1996.9,1626.3L1997.2,1624.6L1997.5,1622.9L1997.8,1626.7L1998.1,1620.2L1998.3,1624.3L1998.6,1625.2L1998.9,1621.5L1999.2,1625.6L1999.5,1619.4L1999.7,1622.4L2000.0,1617.5L2000.3,1624.3L2000.6,1623.3L2000.9,1622.7L2001.1,1621.5L2001.4,1622.8L2001.7,1619.2L2002.0,1618.4L2002.3,1620.9L2002.5,1620.5L2002.8,1619.8L2003.1,1619.7L2003.4,1619.0L2003.7,1622.9L2003.9,1614.4L2004.2,1618.7L2004.5,1618.0L2004.8,1618.0L2005.1,1619.9L2005.3,1614.0L2005.6,1621.2L2005.9,1616.4L2006.2,1613.5L2006.5,1617.3L2006.7,1610.0L2007.0,1612.3L2007.3,1614.4L2007.6,1615.5L2007.9,1612.4L2008.1,1613.4L2008.4,1617.2L2008.7,1613.2L2009.0,1616.4L2009.3,1613.8L2009.5,1611.9L2009.8,1612.3L2010.1,1609.3L2010.4,1611.9L2010.7,1614.8L2010.9,1613.0L2011.2,1612.5L2011.5,1613.4L2011.8,1612.5L2012.1,1613.6L2012.3,1612.8L2012.6,1612.1L2012.9,1612.8L2013.2,1617.6L2013.5,1613.4L2013.7,1612.9L2014.0,1612.3L2014.3,1613.3L2014.6,1614.2L2014.9,1618.3L2015.1,1607.2L2015.4,1614.4L2015.7,1612.8L2016.0,1612.2L2016.3,1618.1L2016.5,1610.5L2016.8,1614.0L2017.1,1615.1L2017.4,1619.8L2017.7,1613.1L2017.9,1615.1L2018.2,1616.6L2018.5,1614.2L2018.8,1613.0L2019.1,1613.5L2019.3,1615.4L2019.6,1613.2L2019.9,1612.3L2020.2,1612.1L2020.5,1615.2L2020.7,1609.4L2021.0,1613.0L2021.3,1613.8L2021.6,1619.0L2021.9,1615.4L2022.1,1611.8L2022.4,1613.3L2022.7,1612.4L2023.0,1615.3L2023.3,1617.1L2023.5,1614.3L2023.8,1616.4L2024.1,1614.0L2024.4,1614.7L2024.7,1613.7L2024.9,1610.3L2025.2,1618.2L2025.5,1615.5L2025.8,1613.1L2026.1,1613.2L2026.3,1618.5L2026.6,1617.9L2026.9,1616.0L2027.2,1614.9L2027.5,1620.8L2027.7,1619.7L2028.0,1618.8L2028.3,1617.7L2028.6,1620.1L2028.9,1618.4L2029.1,1616.9L2029.4,1616.3L2029.7,1616.4L2030.0,1615.8L2030.3,1617.1L2030.5,1622.1L2030.8,1614.9L2031.1,1617.1L2031.4,1618.3L2031.7,1622.5L2031.9,1619.6L2032.2,1619.2L2032.5,1622.4L2032.8,1619.2L2033.1,1615.8L2033.3,1623.3L2033.6,1619.3L2033.9,1624.8L2034.2,1621.5L2034.5,1625.9L2034.7,1621.8L2035.0,1621.1L2035.3,1619.5L2035.6,1623.3L2035.9,1626.6L2036.1,1627.9L2036.4,1627.6L2036.7,1623.1L2037.0,1625.6L2037.3,1627.9L2037.5,1625.2L2037.8,1620.0L2038.1,1624.6L2038.4,1627.4L2038.7,1626.9L2038.9,1627.3L2039.2,1628.2L2039.5,1628.0L2039.8,1625.2L2040.1,1624.3L2040.3,1626.8L2040.6,1623.0L2040.9,1626.8L2041.2,1624.9L2041.5,1621.0L2041.7,1622.7L2042.0,1622.8L2042.3,1623.9L2042.6,1622.6L2042.9,1625.2L2043.1,1627.2L2043.4,1627.5L2043.7,1622.7L2044.0,1621.7L2044.3,1628.3L2044.5,1623.3L2044.8,1624.0L2045.1,1626.0L2045.4,1629.2L2045.7,1630.1L2045.9,1624.7L2046.2,1618.1L2046.5,1628.0L2046.8,1627.0L2047.1,1623.3L2047.3,1626.4L2047.6,1631.1L2047.9,1629.3L2048.2,1626.5L2048.5,1624.5L2048.7,1630.2L2049.0,1622.7L2049.3,1627.4L2049.6,1627.8L2049.9,1628.3L2050.1,1630.0L2050.4,1629.0L2050.7,1622.2L2051.0,1629.0L2051.2,1629.1L2051.5,1629.2L2051.8,1628.4L2052.1,1631.9L2052.4,1627.6L2052.6,1627.0L2052.9,1629.5L2053.2,1628.4L2053.5,1629.7L2053.8,1628.9L2054.0,1630.4L2054.3,1628.6L2054.6,1627.8L2054.9,1627.4L2055.2,1628.0L2055.4,1627.4L2055.7,1625.6L2056.0,1627.1L2056.3,1622.9L2056.6,1628.5L2056.8,1626.8L2057.1,1626.7L2057.4,1627.7L2057.7,1625.4L2058.0,1625.0L2058.2,1623.0L2058.5,1626.9L2058.8,1626.5L2059.1,1625.7L2059.4,1629.8L2059.6,1622.1L2059.9,1629.1L2060.2,1623.7L2060.5,1626.6L2060.8,1622.2L2061.0,1624.4L2061.3,1623.0L2061.6,1625.3L2061.9,1626.3L2062.2,1627.7L2062.4,1626.7L2062.7,1629.3L2063.0,1627.0L2063.3,1630.2L2063.6,1627.6L2063.8,1627.2L2064.1,1629.5L2064.4,1622.5L2064.7,1627.0L2065.0,1629.8L2065.2,1626.7L2065.5,1626.3L2065.8,1631.7L2066.1,1629.6L2066.4,1627.4L2066.6,1626.1L2066.9,1628.5L2067.2,1627.3L2067.5,1627.4L2067.8,1624.3L2068.0,1623.2L2068.3,1625.0L2068.6,1624.8L2068.9,1622.4L2069.2,1625.2L2069.4,1620.1L2069.7,1623.0L2070.0,1624.3L2070.3,1625.5L2070.6,1626.6L2070.8,1625.0L2071.1,1627.2L2071.4,1624.4L2071.7,1627.1L2072.0,1628.4L2072.2,1630.5L2072.5,1624.6L2072.8,1628.2L2073.1,1629.0L2073.4,1627.4L2073.6,1623.3L2073.9,1630.2L2074.2,1623.3L2074.5,1623.3L2074.8,1623.3L2075.0,1625.1L2075.3,1625.5L2075.6,1622.9L2075.9,1624.8L2076.2,1625.4L2076.4,1624.2L2076.7,1623.7L2077.0,1623.2L2077.3,1624.3L2077.6,1623.7L2077.8,1622.1L2078.1,1624.4L2078.4,1619.5L2078.7,1627.8L2079.0,1623.0L2079.2,1621.1L2079.5,1622.2L2079.8,1623.5L2080.1,1622.4L2080.4,1621.2L2080.6,1623.9L2080.9,1622.9L2081.2,1620.6L2081.5,1628.0L2081.8,1623.0L2082.0,1622.5L2082.3,1620.6L2082.6,1624.0L2082.9,1627.4L2083.2,1622.0L2083.4,1622.9L2083.7,1624.0L2084.0,1620.1L2084.3,1620.0L2084.6,1619.6L2084.8,1623.1L2085.1,1624.5L2085.4,1623.9L2085.7,1621.7L2086.0,1621.2L2086.2,1624.7L2086.5,1620.7L2086.8,1622.7L2087.1,1624.5L2087.4,1619.6L2087.6,1622.2L2087.9,1619.5L2088.2,1622.6L2088.5,1622.7L2088.8,1619.6L2089.0,1619.9L2089.3,1616.8L2089.6,1617.6L2089.9,1615.6L2090.2,1618.7L2090.4,1620.6L2090.7,1621.0L2091.0,1619.1L2091.3,1617.5L2091.6,1620.2L2091.8,1615.6L2092.1,1619.6L2092.4,1619.4L2092.7,1613.8L2093.0,1622.3L2093.2,1617.9L2093.5,1619.3L2093.8,1616.6L2094.1,1618.8L2094.4,1617.5L2094.6,1617.3L2094.9,1613.8L2095.2,1622.6L2095.5,1620.4L2095.8,1614.2L2096.0,1617.4L2096.3,1622.5L2096.6,1618.0L2096.9,1618.8L2097.2,1611.2L2097.4,1612.5L2097.7,1617.1L2098.0,1619.0L2098.3,1614.6L2098.6,1615.6L2098.8,1619.4L2099.1,1616.8L2099.4,1620.1L2099.7,1614.8L2100.0,1620.2L2100.2,1615.0L2100.5,1618.4L2100.8,1614.8L2101.1,1619.1L2101.4,1619.3L2101.6,1620.0L2101.9,1617.3L2102.2,1616.3L2102.5,1615.0L2102.8,1618.4L2103.0,1617.1L2103.3,1618.8L2103.6,1618.6L2103.9,1620.9L2104.2,1620.5L2104.4,1615.8L2104.7,1616.6L2105.0,1619.7L2105.3,1617.3L2105.6,1614.2L2105.8,1621.6L2106.1,1621.1L2106.4,1616.2L2106.7,1616.3L2107.0,1617.5L2107.2,1615.9L2107.5,1619.4L2107.8,1616.8L2108.1,1618.4L2108.4,1615.9L2108.6,1618.5L2108.9,1618.9L2109.2,1614.4L2109.5,1617.3L2109.8,1618.1L2110.0,1622.6L2110.3,1625.5L2110.6,1622.3L2110.9,1620.8L2111.2,1623.5L2111.4,1626.1L2111.7,1624.8L2112.0,1629.3L2112.3,1623.3L2112.6,1624.2L2112.8,1623.6L2113.1,1627.8L2113.4,1620.5L2113.7,1621.1L2114.0,1623.2L2114.2,1623.2L2114.5,1619.1L2114.8,1619.2L2115.1,1619.7L2115.4,1622.2L2115.6,1616.7L2115.9,1616.9L2116.2,1617.7L2116.5,1617.3L2116.8,1616.1L2117.0,1617.8L2117.3,1615.5L2117.6,1616.6L2117.9,1615.9L2118.2,1621.5L2118.4,1615.1L2118.7,1617.6L2119.0,1616.4L2119.3,1618.4L2119.6,1623.7L2119.8,1617.0L2120.1,1620.2L2120.4,1620.7L2120.7,1623.3L2121.0,1622.8L2121.2,1624.0L2121.5,1618.9L2121.8,1623.3L2122.1,1624.6L2122.4,1623.1L2122.6,1620.1L2122.9,1622.9L2123.2,1623.9L2123.5,1623.2L2123.8,1623.1L2124.0,1623.5L2124.3,1621.6L2124.6,1622.9L2124.9,1618.4L2125.2,1617.3L2125.4,1625.3L2125.7,1616.6L2126.0,1624.8L2126.3,1624.7L2126.6,1627.0L2126.8,1624.2L2127.1,1623.6L2127.4,1621.3L2127.7,1623.7L2128.0,1624.3L2128.2,1619.3L2128.5,1623.3L2128.8,1624.2L2129.1,1625.3L2129.3,1626.7L2129.6,1626.6L2129.9,1630.0L2130.2,1622.7L2130.5,1623.3L2130.7,1621.5L2131.0,1626.4L2131.3,1622.0L2131.6,1622.4L2131.9,1626.0L2132.1,1626.3L2132.4,1621.6L2132.7,1625.5L2133.0,1625.2L2133.3,1623.8L2133.5,1623.7L2133.8,1624.9L2134.1,1627.4L2134.4,1623.2L2134.7,1620.4L2134.9,1621.8L2135.2,1622.0L2135.5,1623.6L2135.8,1623.9L2136.1,1621.4L2136.3,1624.4L2136.6,1623.5L2136.9,1622.1L2137.2,1625.7L2137.5,1622.5L2137.7,1622.8L2138.0,1624.7L2138.3,1621.1L2138.6,1620.6L2138.9,1622.2L2139.1,1623.3L2139.4,1624.6L2139.7,1620.1L2140.0,1619.2L2140.3,1623.9L2140.5,1622.6L2140.8,1624.2L2141.1,1626.0L2141.4,1622.5L2141.7,1619.1L2141.9,1623.8L2142.2,1622.6L2142.5,1624.9L2142.8,1624.3L2143.1,1624.4L2143.3,1626.9L2143.6,1626.1L2143.9,1624.4L2144.2,1623.9L2144.5,1627.2L2144.7,1626.1L2145.0,1623.6L2145.3,1622.3L2145.6,1626.6L2145.9,1626.1L2146.1,1626.0L2146.4,1624.8L2146.7,1631.3L2147.0,1627.2L2147.3,1623.2L2147.5,1626.8L2147.8,1624.2L2148.1,1625.6L2148.4,1629.5L2148.7,1624.5L2148.9,1625.5L2149.2,1623.5L2149.5,1627.6L2149.8,1625.3L2150.1,1623.4L2150.3,1628.2L2150.6,1628.0L2150.9,1624.9L2151.2,1629.6L2151.5,1625.6L2151.7,1629.2L2152.0,1623.8L2152.3,1623.7L2152.6,1621.6L2152.9,1622.7L2153.1,1628.0L2153.4,1624.0L2153.7,1624.2L2154.0,1627.4L2154.3,1626.0L2154.5,1629.4L2154.8,1624.4L2155.1,1626.2L2155.4,1624.9L2155.7,1623.2L2155.9,1625.7L2156.2,1626.6L2156.5,1629.0" stroke="#E69F00" stroke-width="6"/>
<path d="M197.0,1030.6L197.3,1034.7L197.6,1034.4L197.8,1029.3L198.1,1030.0L198.4,1029.5L198.7,1032.9L199.0,1031.0L199.2,1033.5L199.5,1025.6L199.8,1035.9L200.1,1030.9L200.4,1033.2L200.6,1030.7L200.9,1029.9L201.2,1032.4L201.5,1033.5L201.8,1030.3L202.0,1030.4L202.3,1032.9L202.6,1028.0L202.9,1025.9L203.2,1031.4L203.4,1027.9L203.7,1023.8L204.0,1026.8L204.3,1027.5L204.6,1025.0L204.8,1023.8L205.1,1028.1L205.4,1030.5L205.7,1026.9L206.0,1025.2L206.2,1028.5L206.5,1029.5L206.8,1026.5L207.1,1029.3L207.4,1031.1L207.6,1027.7L207.9,1026.4L208.2,1030.4L208.5,1030.7L208.8,1033.8L209.0,1027.1L209.3,1029.3L209.6,1029.1L209.9,1026.6L210.2,1032.2L210.4,1033.4L210.7,1029.5L211.0,1035.9L211.3,1034.1L211.6,1033.5L211.8,1032.8L212.1,1034.6L212.4,1027.8L212.7,1033.9L213.0,1034.1L213.2,1027.2L213.5,1033.8L213.8,1032.1L214.1,1035.3L214.4,1031.5L214.6,1032.7L214.9,1033.6L215.2,1029.7L215.5,1033.9L215.8,1031.5L216.0,1033.1L216.3,1029.9L216.6,1034.7L216.9,1033.1L217.2,1030.8L217.4,1033.2L217.7,1035.2L218.0,1036.9L218.3,1026.8L218.6,1034.2L218.8,1033.0L219.1,1031.2L219.4,1028.4L219.7,1035.1L220.0,1027.2L220.2,1032.5L220.5,1034.3L220.8,1025.2L221.1,1028.6L221.4,1025.2L221.6,1029.4L221.9,1032.9L222.2,1034.1L222.5,1022.4L222.8,1025.9L223.0,1029.7L223.3,1032.4L223.6,1029.0L223.9,1025.7L224.2,1029.0L224.4,1028.3L224.7,1028.0L225.0,1026.7L225.3,1030.4L225.6,1030.5L225.8,1029.7L226.1,1029.6L226.4,1026.8L226.7,1029.5L227.0,1035.0L227.2,1031.0L227.5,1027.5L227.8,1036.1L228.1,1033.8L228.4,1038.7L228.6,1032.6L228.9,1031.1L229.2,1028.1L229.5,1036.4L229.8,1040.1L230.0,1029.7L230.3,1030.1L230.6,1033.6L230.9,1028.9L231.2,1030.3L231.4,1029.6L231.7,1030.8L232.0,1033.1L232.3,1029.5L232.6,1031.8L232.8,1027.4L233.1,1029.3L233.4,1021.6L233.7,1023.4L234.0,1030.1L234.2,1025.8L234.5,1029.2L234.8,1029.1L235.1,1031.5L235.4,1030.0L235.6,1030.6L235.9,1027.3L236.2,1025.6L236.5,1025.5L236.7,1026.2L237.0,1024.3L237.3,1026.0L237.6,1027.3L237.9,1028.2L238.1,1026.3L238.4,1021.3L238.7,1026.7L239.0,1027.5L239.3,1029.9L239.5,1028.2L239.8,1024.3L240.1,1024.0L240.4,1032.2L240.7,1028.4L240.9,1031.6L241.2,1032.6L241.5,1023.9L241.8,1027.7L242.1,1028.1L242.3,1028.7L242.6,1028.9L242.9,1028.2L243.2,1028.3L243.5,1023.5L243.7,1027.8L244.0,1026.3L244.3,1029.1L244.6,1027.5L244.9,1031.0L245.1,1031.7L245.4,1030.3L245.7,1030.4L246.0,1029.9L246.3,1028.3L246.5,1029.3L246.8,1028.3L247.1,1031.1L247.4,1030.0L247.7,1031.7L247.9,1025.9L248.2,1032.5L248.5,1027.4L248.8,1027.5L249.1,1029.0L249.3,1027.9L249.6,1030.5L249.9,1028.0L250.2,1026.6L250.5,1027.5L250.7,1034.3L251.0,1030.9L251.3,1027.6L251.6,1031.5L251.9,1027.2L252.1,1037.6L252.4,1027.8L252.7,1034.1L253.0,1034.4L253.3,1028.4L253.5,1033.6L253.8,1035.6L254.1,1033.9L254.4,1033.2L254.7,1035.3L254.9,1032.9L255.2,1033.4L255.5,1032.1L255.8,1034.5L256.1,1029.9L256.3,1035.2L256.6,1031.4L256.9,1029.7L257.2,1034.1L257.5,1038.0L257.7,1035.7L258.0,1031.0L258.3,1034.5L258.6,1030.7L258.9,1031.4L259.1,1031.7L259.4,1024.1L259.7,1031.3L260.0,1027.4L260.3,1028.1L260.5,1025.6L260.8,1025.3L261.1,1027.0L261.4,1032.3L261.7,1034.8L261.9,1029.7L262.2,1033.1L262.5,1029.0L262.8,1024.0L263.1,1030.2L263.3,1031.0L263.6,1028.3L263.9,1030.5L264.2,1031.4L264.5,1027.2L264.7,1025.5L265.0,1029.5L265.3,1029.8L265.6,1029.7L265.9,1034.1L266.1,1036.6L266.4,1030.3L266.7,1033.8L267.0,1034.5L267.3,1033.7L267.5,1034.6L267.8,1030.1L268.1,1033.3L268.4,1036.9L268.7,1033.0L268.9,1028.5L269.2,1032.1L269.5,1033.9L269.8,1031.1L270.1,1028.2L270.3,1034.5L270.6,1026.0L270.9,1031.3L271.2,1029.7L271.5,1026.2L271.7,1033.6L272.0,1031.1L272.3,1026.7L272.6,1032.3L272.9,1029.4L273.1,1025.3L273.4,1029.2L273.7,1032.4L274.0,1033.8L274.3,1032.6L274.5,1032.5L274.8,1033.9L275.1,1032.0L275.4,1036.2L275.7,1033.1L275.9,1033.4L276.2,1033.9L276.5,1028.8L276.8,1029.4L277.1,1035.7L277.3,1031.6L277.6,1029.2L277.9,1030.5L278.2,1027.6L278.5,1029.5L278.7,1026.4L279.0,1029.0L279.3,1023.4L279.6,1032.2L279.9,1026.8L280.1,1023.8L280.4,1028.2L280.7,1028.1L281.0,1030.1L281.3,1026.6L281.5,1031.8L281.8,1042.0L282.1,1027.6L282.4,1032.9L282.7,1031.4L282.9,1033.2L283.2,1027.4L283.5,1029.6L283.8,1034.4L284.1,1032.8L284.3,1037.7L284.6,1030.3L284.9,1032.6L285.2,1040.5L285.5,1029.0L285.7,1028.3L286.0,1030.6L286.3,1030.3L286.6,1032.8L286.9,1030.5L287.1,1027.8L287.4,1030.7L287.7,1038.0L288.0,1034.0L288.3,1021.9L288.5,1030.1L288.8,1028.1L289.1,1033.0L289.4,1030.9L289.7,1037.7L289.9,1035.0L290.2,1035.3L290.5,1033.4L290.8,1033.0L291.1,1034.3L291.3,1037.4L291.6,1035.1L291.9,1032.5L292.2,1037.4L292.5,1034.2L292.7,1033.4L293.0,1031.3L293.3,1032.0L293.6,1031.9L293.9,1025.5L294.1,1037.0L294.4,1035.5L294.7,1033.0L295.0,1036.6L295.3,1034.4L295.5,1033.7L295.8,1024.6L296.1,1030.8L296.4,1032.5L296.7,1035.2L296.9,1035.5L297.2,1033.8L297.5,1025.7L297.8,1022.4L298.1,1030.5L298.3,1028.7L298.6,1031.3L298.9,1027.9L299.2,1028.7L299.5,1023.3L299.7,1029.1L300.0,1026.3L300.3,1028.6L300.6,1029.0L300.9,1027.3L301.1,1028.8L301.4,1027.9L301.7,1030.5L302.0,1029.9L302.3,1027.0L302.5,1027.1L302.8,1034.3L303.1,1028.9L303.4,1032.4L303.7,1030.7L303.9,1028.0L304.2,1027.5L304.5,1030.2L304.8,1030.7L305.1,1031.8L305.3,1026.1L305.6,1028.1L305.9,1029.6L306.2,1034.7L306.5,1022.7L306.7,1031.1L307.0,1028.1L307.3,1030.9L307.6,1027.9L307.9,1030.3L308.1,1033.8L308.4,1030.0L308.7,1030.1L309.0,1029.8L309.3,1026.3L309.5,1030.2L309.8,1028.0L310.1,1026.2L310.4,1028.7L310.7,1028.3L310.9,1031.4L311.2,1029.2L311.5,1028.0L311.8,1034.2L312.1,1033.0L312.3,1034.1L312.6,1032.3L312.9,1030.2L313.2,1029.4L313.5,1029.9L313.7,1033.6L314.0,1031.1L314.3,1026.1L314.6,1030.4L314.9,1026.1L315.1,1030.7L315.4,1026.4L315.7,1026.1L316.0,1030.2L316.2,1029.5L316.5,1024.7L316.8,1032.1L317.1,1036.4L317.4,1025.5L317.6,1035.6L317.9,1028.2L318.2,1028.9L318.5,1030.1L318.8,1026.5L319.0,1035.0L319.3,1032.9L319.6,1029.4L319.9,1031.2L320.2,1027.7L320.4,1031.6L320.7,1035.7L321.0,1028.0L321.3,1032.1L321.6,1034.0L321.8,1036.8L322.1,1037.8L322.4,1032.3L322.7,1031.4L323.0,1035.0L323.2,1032.5L323.5,1032.6L323.8,1036.8L324.1,1038.7L324.4,1034.5L324.6,1033.3L324.9,1035.8L325.2,1028.6L325.5,1034.5L325.8,1031.7L326.0,1042.5L326.3,1037.8L326.6,1036.3L326.9,1035.6L327.2,1028.8L327.4,1038.6L327.7,1041.4L328.0,1034.2L328.3,1038.3L328.6,1038.2L328.8,1031.0L329.1,1038.2L329.4,1039.1L329.7,1035.2L330.0,1033.9L330.2,1035.9L330.5,1028.3L330.8,1032.7L331.1,1034.9L331.4,1027.3L331.6,1033.3L331.9,1028.4L332.2,1022.8L332.5,1028.2L332.8,1025.3L333.0,1029.0L333.3,1024.4L333.6,1031.3L333.9,1026.1L334.2,1029.8L334.4,1027.5L334.7,1028.8L335.0,1033.9L335.3,1031.5L335.6,1030.1L335.8,1028.0L336.1,1035.6L336.4,1034.6L336.7,1031.7L337.0,1033.6L337.2,1029.9L337.5,1030.1L337.8,1030.7L338.1,1034.3L338.4,1034.2L338.6,1030.9L338.9,1035.3L339.2,1035.3L339.5,1033.2L339.8,1035.6L340.0,1031.3L340.3,1031.6L340.6,1033.2L340.9,1031.5L341.2,1033.9L341.4,1027.7L341.7,1035.8L342.0,1029.2L342.3,1031.2L342.6,1027.7L342.8,1033.8L343.1,1035.9L343.4,1035.5L343.7,1034.9L344.0,1027.8L344.2,1030.2L344.5,1031.3L344.8,1029.9L345.1,1036.2L345.4,1033.3L345.6,1032.7L345.9,1034.1L346.2,1029.7L346.5,1029.6L346.8,1029.5L347.0,1033.4L347.3,1032.7L347.6,1033.2L347.9,1034.4L348.2,1026.8L348.4,1029.0L348.7,1030.8L349.0,1026.1L349.3,1028.3L349.6,1032.7L349.8,1032.7L350.1,1032.4L350.4,1029.1L350.7,1028.2L351.0,1032.0L351.2,1027.5L351.5,1029.7L351.8,1032.7L352.1,1027.7L352.4,1027.1L352.6,1029.2L352.9,1031.3L353.2,1031.2L353.5,1030.6L353.8,1032.1L354.0,1025.9L354.3,1028.3L354.6,1031.6L354.9,1028.4L355.2,1027.3L355.4,1027.7L355.7,1028.5L356.0,1030.7L356.3,1028.0L356.6,1031.7L356.8,1036.0L357.1,1030.3L357.4,1034.4L357.7,1031.3L358.0,1027.0L358.2,1029.5L358.5,1027.3L358.8,1032.5L359.1,1026.7L359.4,1034.1L359.6,1031.9L359.9,1024.0L360.2,1032.3L360.5,1034.5L360.8,1027.3L361.0,1032.5L361.3,1023.9L361.6,1029.9L361.9,1024.0L362.2,1030.4L362.4,1023.5L362.7,1021.1L363.0,1030.4L363.3,1036.3L363.6,1027.9L363.8,1032.6L364.1,1030.7L364.4,1029.7L364.7,1032.8L365.0,1036.0L365.2,1027.3L365.5,1032.7L365.8,1032.0L366.1,1026.4L366.4,1035.4L366.6,1036.3L366.9,1027.3L367.2,1035.4L367.5,1030.2L367.8,1029.5L368.0,1034.6L368.3,1030.8L368.6,1031.1L368.9,1034.8L369.2,1034.1L369.4,1032.9L369.7,1025.9L370.0,1025.4L370.3,1033.5L370.6,1027.3L370.8,1030.5L371.1,1026.7L371.4,1029.4L371.7,1026.1L372.0,1034.8L372.2,1026.8L372.5,1029.4L372.8,1029.1L373.1,1033.2L373.4,1025.1L373.6,1029.1L373.9,1028.4L374.2,1030.5L374.5,1030.1L374.8,1027.2L375.0,1029.3L375.3,1027.5L375.6,1030.2L375.9,1028.8L376.2,1027.5L376.4,1029.8L376.7,1031.5L377.0,1037.7L377.3,1029.8L377.6,1032.5L377.8,1036.3L378.1,1025.7L378.4,1026.8L378.7,1028.5L379.0,1031.8L379.2,1039.4L379.5,1033.2L379.8,1035.6L380.1,1031.3L380.4,1024.5L380.6,1024.9L380.9,1034.9L381.2,1032.2L381.5,1027.6L381.8,1034.7L382.0,1026.4L382.3,1034.2L382.6,1034.9L382.9,1027.9L383.2,1026.6L383.4,1032.2L383.7,1026.1L384.0,1031.7L384.3,1025.2L384.6,1031.0L384.8,1028.5L385.1,1026.7L385.4,1025.0L385.7,1028.2L386.0,1021.6L386.2,1026.3L386.5,1025.7L386.8,1028.8L387.1,1022.9L387.4,1031.7L387.6,1025.5L387.9,1022.9L388.2,1030.5L388.5,1031.3L388.8,1025.7L389.0,1023.6L389.3,1026.3L389.6,1024.3L389.9,1025.6L390.2,1031.4L390.4,1028.0L390.7,1027.4L391.0,1028.1L391.3,1027.0L391.6,1029.9L391.8,1030.1L392.1,1026.4L392.4,1027.9L392.7,1034.9L393.0,1029.0L393.2,1027.3L393.5,1034.1L393.8,1028.1L394.1,1025.0L394.3,1030.5L394.6,1025.9L394.9,1027.3L395.2,1029.9L395.5,1028.6L395.7,1026.7L396.0,1027.4L396.3,1027.2L396.6,1032.5L396.9,1026.7L397.1,1027.0L397.4,1034.8L397.7,1027.0L398.0,1033.1L398.3,1032.6L398.5,1028.3L398.8,1024.6L399.1,1030.5L399.4,1031.4L399.7,1032.5L399.9,1030.1L400.2,1033.8L400.5,1034.6L400.8,1027.4L401.1,1035.0L401.3,1031.4L401.6,1029.3L401.9,1030.2L402.2,1037.1L402.5,1034.6L402.7,1026.4L403.0,1032.3L403.3,1031.8L403.6,1031.8L403.9,1030.9L404.1,1028.1L404.4,1035.0L404.7,1029.4L405.0,1030.8L405.3,1029.7L405.5,1028.9L405.8,1032.8L406.1,1031.1L406.4,1027.3L406.7,1025.9L406.9,1026.8L407.2,1030.7L407.5,1027.7L407.8,1027.8L408.1,1025.9L408.3,1026.0L408.6,1027.4L408.9,1021.2L409.2,1031.8L409.5,1024.7L409.7,1025.5L410.0,1031.4L410.3,1028.1L410.6,1027.7L410.9,1025.9L411.1,1023.0L411.4,1028.3L411.7,1031.4L412.0,1025.1L412.3,1031.9L412.5,1024.4L412.8,1025.6L413.1,1029.4L413.4,1028.0L413.7,1030.2L413.9,1026.0L414.2,1025.3L414.5,1022.9L414.8,1025.0L415.1,1025.5L415.3,1024.6L415.6,1029.9L415.9,1027.0L416.2,1023.1L416.5,1036.6L416.7,1026.7L417.0,1025.5L417.3,1033.1L417.6,1033.0L417.9,1026.2L418.1,1025.4L418.4,1027.1L418.7,1033.8L419.0,1029.7L419.3,1028.3L419.5,1030.8L419.8,1034.5L420.1,1026.5L420.4,1029.3L420.7,1026.0L420.9,1036.3L421.2,1034.8L421.5,1031.7L421.8,1028.1L422.1,1030.2L422.3,1021.7L422.6,1028.9L422.9,1024.2L423.2,1024.4L423.5,1026.6L423.7,1028.0L424.0,1031.1L424.3,1031.7L424.6,1030.6L424.9,1026.9L425.1,1031.8L425.4,1029.2L425.7,1032.8L426.0,1026.2L426.3,1020.2L426.5,1026.7L426.8,1034.3L427.1,1028.9L427.4,1026.5L427.7,1029.5L427.9,1028.1L428.2,1027.7L428.5,1024.5L428.8,1026.0L429.1,1026.1L429.3,1023.2L429.6,1021.4L429.9,1024.8L430.2,1026.9L430.5,1025.3L430.7,1024.3L431.0,1023.7L431.3,1029.3L431.6,1021.4L431.9,1022.9L432.1,1024.7L432.4,1017.7L432.7,1017.1L433.0,1018.0L433.3,1018.5L433.5,1012.5L433.8,1010.9L434.1,1008.1L434.4,1002.0L434.7,1007.1L434.9,1000.7L435.2,994.0L435.5,996.7L435.8,989.7L436.1,990.0L436.3,991.5L436.6,987.1L436.9,992.1L437.2,983.3L437.5,988.3L437.7,989.2L438.0,992.5L438.3,991.6L438.6,990.7L438.9,991.8L439.1,993.2L439.4,999.0L439.7,995.6L440.0,1001.6L440.3,1001.9L440.5,1005.2L440.8,1005.8L441.1,1015.3L441.4,1008.6L441.7,1013.3L441.9,1015.1L442.2,1017.7L442.5,1018.7L442.8,1020.0L443.1,1023.0L443.3,1016.6L443.6,1022.3L443.9,1019.5L444.2,1024.9L444.5,1021.4L444.7,1022.8L445.0,1026.2L445.3,1031.3L445.6,1029.3L445.9,1028.9L446.1,1032.7L446.4,1025.9L446.7,1022.7L447.0,1028.0L447.3,1028.7L447.5,1033.4L447.8,1036.4L448.1,1026.1L448.4,1037.8L448.7,1035.3L448.9,1033.3L449.2,1032.1L449.5,1038.5L449.8,1031.6L450.1,1029.9L450.3,1031.8L450.6,1027.1L450.9,1032.5L451.2,1030.6L451.5,1031.7L451.7,1031.6L452.0,1027.2L452.3,1034.4L452.6,1027.4L452.9,1033.4L453.1,1026.2L453.4,1032.6L453.7,1029.5L454.0,1032.6L454.3,1031.1L454.5,1027.0L454.8,1030.7L455.1,1034.6L455.4,1036.6L455.7,1030.5L455.9,1028.7L456.2,1032.5L456.5,1034.5L456.8,1033.1L457.1,1032.4L457.3,1037.1L457.6,1037.0L457.9,1035.9L458.2,1030.3L458.5,1032.7L458.7,1031.3L459.0,1026.9L459.3,1033.3L459.6,1030.3L459.9,1028.1L460.1,1033.4L460.4,1031.1L460.7,1031.2L461.0,1032.1L461.3,1030.6L461.5,1024.6L461.8,1027.2L462.1,1031.4L462.4,1026.1L462.7,1028.5L462.9,1029.6L463.2,1032.7L463.5,1032.3L463.8,1031.1L464.1,1027.9L464.3,1031.3L464.6,1030.3L464.9,1028.5L465.2,1033.3L465.5,1031.0L465.7,1027.5L466.0,1033.9L466.3,1029.5L466.6,1032.3L466.9,1026.0L467.1,1030.7L467.4,1027.9L467.7,1027.8L468.0,1024.9L468.3,1037.0L468.5,1029.8L468.8,1030.7L469.1,1033.1L469.4,1029.0L469.7,1030.6L469.9,1024.7L470.2,1029.1L470.5,1027.0L470.8,1029.7L471.1,1028.6L471.3,1023.9L471.6,1022.6L471.9,1025.2L472.2,1030.7L472.5,1030.0L472.7,1030.1L473.0,1023.0L473.3,1021.2L473.6,1027.6L473.8,1028.6L474.1,1027.8L474.4,1030.7L474.7,1029.1L475.0,1026.0L475.2,1026.9L475.5,1030.0L475.8,1029.8L476.1,1029.6L476.4,1036.9L476.6,1029.6L476.9,1031.1L477.2,1028.2L477.5,1030.6L477.8,1033.7L478.0,1034.3L478.3,1032.5L478.6,1034.4L478.9,1033.6L479.2,1027.8L479.4,1023.6L479.7,1040.3L480.0,1035.7L480.3,1032.8L480.6,1027.4L480.8,1028.5L481.1,1036.2L481.4,1023.4L481.7,1030.6L482.0,1034.0L482.2,1031.6L482.5,1033.4L482.8,1030.6L483.1,1038.2L483.4,1027.9L483.6,1026.9L483.9,1031.8L484.2,1035.3L484.5,1030.8L484.8,1034.1L485.0,1029.2L485.3,1027.2L485.6,1034.9L485.9,1035.2L486.2,1034.9L486.4,1028.8L486.7,1026.4L487.0,1026.1L487.3,1028.7L487.6,1030.9L487.8,1030.5L488.1,1024.4L488.4,1029.2L488.7,1028.5L489.0,1028.6L489.2,1028.3L489.5,1027.7L489.8,1030.2L490.1,1028.9L490.4,1029.4L490.6,1026.8L490.9,1030.4L491.2,1029.1L491.5,1023.5L491.8,1031.8L492.0,1030.0L492.3,1034.0L492.6,1031.2L492.9,1031.7L493.2,1033.0L493.4,1032.5L493.7,1031.3L494.0,1027.2L494.3,1038.0L494.6,1027.4L494.8,1030.7L495.1,1033.2L495.4,1031.8L495.7,1031.7L496.0,1031.8L496.2,1032.7L496.5,1029.3L496.8,1036.9L497.1,1024.9L497.4,1028.6L497.6,1026.9L497.9,1026.5L498.2,1029.2L498.5,1033.0L498.8,1026.7L499.0,1026.8L499.3,1031.2L499.6,1030.7L499.9,1034.9L500.2,1031.9L500.4,1029.3L500.7,1027.4L501.0,1028.9L501.3,1027.7L501.6,1024.1L501.8,1028.4L502.1,1028.1L502.4,1028.2L502.7,1028.1L503.0,1035.0L503.2,1032.5L503.5,1033.8L503.8,1029.7L504.1,1029.1L504.4,1031.8L504.6,1033.9L504.9,1032.5L505.2,1033.3L505.5,1036.9L505.8,1035.0L506.0,1031.0L506.3,1032.5L506.6,1031.5L506.9,1033.6L507.2,1029.1L507.4,1031.7L507.7,1034.0L508.0,1031.7L508.3,1028.6L508.6,1029.5L508.8,1031.8L509.1,1033.1L509.4,1034.6L509.7,1032.1L510.0,1029.2L510.2,1038.1L510.5,1035.3L510.8,1036.2L511.1,1036.4L511.4,1032.8L511.6,1035.2L511.9,1037.0L512.2,1039.3L512.5,1036.2L512.8,1026.3L513.0,1034.5L513.3,1035.8L513.6,1038.1L513.9,1035.8L514.2,1040.6L514.4,1036.8L514.7,1036.1L515.0,1034.3L515.3,1026.9L515.6,1033.3L515.8,1032.3L516.1,1028.7L516.4,1031.9L516.7,1031.4L517.0,1028.7L517.2,1029.7L517.5,1029.3L517.8,1030.9L518.1,1028.9L518.4,1031.9L518.6,1024.5L518.9,1029.6L519.2,1025.4L519.5,1029.2L519.8,1032.3L520.0,1031.0L520.3,1030.8L520.6,1031.5L520.9,1036.2L521.2,1028.3L521.4,1034.5L521.7,1027.4L522.0,1030.7L522.3,1032.7L522.6,1029.6L522.8,1032.8L523.1,1034.3L523.4,1028.4L523.7,1031.6L524.0,1030.5L524.2,1025.6L524.5,1030.7L524.8,1028.7L525.1,1035.1L525.4,1028.3L525.6,1036.1L525.9,1029.4L526.2,1037.0L526.5,1032.8L526.8,1032.7L527.0,1033.9L527.3,1034.3L527.6,1035.9L527.9,1036.9L528.2,1030.7L528.4,1028.0L528.7,1023.7L529.0,1030.6L529.3,1034.1L529.6,1033.0L529.8,1032.2L530.1,1030.8L530.4,1029.8L530.7,1030.8L531.0,1032.7L531.2,1025.9L531.5,1033.1L531.8,1026.1L532.1,1029.5L532.4,1027.5L532.6,1027.8L532.9,1025.2L533.2,1024.4L533.5,1026.8L533.8,1023.9L534.0,1034.5L534.3,1025.7L534.6,1025.0L534.9,1025.4L535.2,1024.1L535.4,1020.2L535.7,1027.2L536.0,1029.3L536.3,1024.2L536.6,1029.2L536.8,1026.0L537.1,1029.9L537.4,1031.5L537.7,1032.3L538.0,1032.5L538.2,1029.3L538.5,1034.3L538.8,1030.5L539.1,1033.0L539.4,1034.1L539.6,1031.0L539.9,1028.0L540.2,1033.6L540.5,1028.3L540.8,1028.9L541.0,1028.1L541.3,1033.8L541.6,1030.7L541.9,1024.3L542.2,1033.3L542.4,1037.3L542.7,1036.5L543.0,1029.4L543.3,1031.5L543.6,1032.9L543.8,1034.3L544.1,1031.9L544.4,1028.8L544.7,1034.6L545.0,1034.5L545.2,1028.9L545.5,1032.0L545.8,1034.2L546.1,1033.5L546.4,1035.3L546.6,1036.2L546.9,1035.6L547.2,1033.7L547.5,1030.0L547.8,1036.0L548.0,1038.4L548.3,1040.2L548.6,1034.2L548.9,1034.2L549.2,1038.8L549.4,1038.9L549.7,1035.7L550.0,1036.9L550.3,1032.5L550.6,1036.6L550.8,1032.2L551.1,1034.1L551.4,1033.9L551.7,1032.5L551.9,1027.1L552.2,1030.4L552.5,1033.4L552.8,1031.8L553.1,1030.4L553.3,1032.7L553.6,1033.4L553.9,1033.9L554.2,1029.1L554.5,1031.9L554.7,1031.2L555.0,1030.0L555.3,1028.5L555.6,1033.0L555.9,1030.9L556.1,1040.1L556.4,1033.2L556.7,1032.6L557.0,1031.7L557.3,1038.1L557.5,1029.0L557.8,1030.8L558.1,1028.3L558.4,1029.7L558.7,1029.3L558.9,1032.3L559.2,1024.2L559.5,1028.1L559.8,1032.8L560.1,1026.2L560.3,1027.1L560.6,1024.9L560.9,1019.7L561.2,1027.3L561.5,1031.3L561.7,1026.5L562.0,1022.5L562.3,1028.9L562.6,1028.5L562.9,1031.3L563.1,1031.0L563.4,1027.5L563.7,1029.4L564.0,1022.7L564.3,1031.5L564.5,1028.6L564.8,1031.4L565.1,1031.4L565.4,1027.4L565.7,1028.0L565.9,1026.0L566.2,1022.6L566.5,1028.6L566.8,1029.7L567.1,1026.1L567.3,1031.7L567.6,1029.9L567.9,1031.0L568.2,1027.3L568.5,1024.2L568.7,1031.8L569.0,1031.1L569.3,1028.7L569.6,1027.6L569.9,1027.8L570.1,1028.0L570.4,1026.7L570.7,1022.0L571.0,1030.3L571.3,1023.3L571.5,1026.8L571.8,1026.9L572.1,1028.7L572.4,1023.1L572.7,1031.8L572.9,1030.3L573.2,1030.8L573.5,1032.5L573.8,1026.5L574.1,1019.7L574.3,1030.5L574.6,1033.8L574.9,1033.7L575.2,1029.0L575.5,1030.7L575.7,1032.2L576.0,1026.2L576.3,1029.8L576.6,1030.1L576.9,1036.8L577.1,1030.0L577.4,1036.5L577.7,1031.6L578.0,1026.1L578.3,1037.5L578.5,1027.5L578.8,1031.9L579.1,1034.8L579.4,1027.8L579.7,1025.5L579.9,1032.2L580.2,1029.3L580.5,1025.5L580.8,1026.2L581.1,1028.6L581.3,1033.0L581.6,1029.7L581.9,1032.9L582.2,1036.2L582.5,1035.3L582.7,1036.0L583.0,1035.5L583.3,1027.0L583.6,1035.4L583.9,1032.6L584.1,1031.0L584.4,1027.8L584.7,1025.9L585.0,1027.0L585.3,1030.0L585.5,1026.1L585.8,1026.9L586.1,1027.2L586.4,1030.8L586.7,1027.6L586.9,1027.9L587.2,1032.3L587.5,1027.3L587.8,1030.1L588.1,1025.2L588.3,1029.7L588.6,1029.3L588.9,1029.9L589.2,1028.4L589.5,1027.1L589.7,1029.8L590.0,1029.7L590.3,1034.6L590.6,1034.5L590.9,1028.3L591.1,1033.8L591.4,1030.4L591.7,1033.1L592.0,1030.0L592.3,1026.7L592.5,1033.9L592.8,1031.9L593.1,1026.5L593.4,1024.1L593.7,1027.8L593.9,1025.5L594.2,1027.6L594.5,1030.2L594.8,1032.4L595.1,1026.4L595.3,1031.2L595.6,1030.1L595.9,1024.9L596.2,1020.8L596.5,1028.0L596.7,1027.0L597.0,1032.0L597.3,1029.0L597.6,1026.9L597.9,1029.5L598.1,1021.1L598.4,1024.8L598.7,1023.3L599.0,1029.4L599.3,1025.9L599.5,1015.1L599.8,1028.7L600.1,1022.1L600.4,1027.6L600.7,1024.2L600.9,1026.9L601.2,1028.6L601.5,1027.8L601.8,1024.8L602.1,1032.3L602.3,1029.7L602.6,1028.7L602.9,1031.0L603.2,1027.4L603.5,1034.7L603.7,1029.6L604.0,1030.0L604.3,1029.8L604.6,1025.9L604.9,1025.1L605.1,1029.2L605.4,1029.6L605.7,1032.6L606.0,1029.9L606.3,1025.3L606.5,1030.3L606.8,1031.4L607.1,1032.1L607.4,1030.4L607.7,1026.0L607.9,1033.5L608.2,1028.2L608.5,1032.5L608.8,1026.3L609.1,1033.7L609.3,1029.2L609.6,1035.0L609.9,1037.2L610.2,1035.5L610.5,1028.5L610.7,1029.1L611.0,1029.4L611.3,1034.0L611.6,1033.1L611.9,1032.6L612.1,1033.1L612.4,1034.0L612.7,1034.2L613.0,1037.2L613.3,1031.8L613.5,1032.4L613.8,1025.8L614.1,1027.0L614.4,1028.3L614.7,1026.2L614.9,1029.8L615.2,1031.7L615.5,1026.6L615.8,1025.8L616.1,1025.2L616.3,1026.8L616.6,1024.5L616.9,1027.2L617.2,1026.8L617.5,1027.0L617.7,1028.4L618.0,1026.4L618.3,1027.0L618.6,1032.1L618.9,1027.0L619.1,1029.8L619.4,1027.9L619.7,1026.6L620.0,1026.8L620.3,1025.9L620.5,1028.6L620.8,1026.8L621.1,1027.4L621.4,1032.4L621.7,1028.2L621.9,1031.9L622.2,1029.0L622.5,1030.6L622.8,1025.9L623.1,1028.0L623.3,1035.3L623.6,1029.7L623.9,1030.2L624.2,1027.9L624.5,1029.8L624.7,1023.9L625.0,1025.2L625.3,1029.4L625.6,1031.1L625.9,1027.9L626.1,1029.1L626.4,1029.1L626.7,1030.1L627.0,1027.6L627.3,1027.3L627.5,1031.6L627.8,1026.9L628.1,1029.3L628.4,1030.3L628.7,1029.1L628.9,1032.9L629.2,1030.8L629.5,1031.8L629.8,1028.9L630.1,1029.6L630.3,1033.3L630.6,1032.8L630.9,1030.2L631.2,1032.6L631.4,1032.0L631.7,1031.8L632.0,1036.1L632.3,1029.9L632.6,1032.3L632.8,1032.3L633.1,1030.2L633.4,1027.4L633.7,1033.0L634.0,1031.7L634.2,1031.2L634.5,1031.1L634.8,1031.2L635.1,1028.5L635.4,1032.2L635.6,1025.9L635.9,1031.4L636.2,1027.0L636.5,1030.5L636.8,1033.7L637.0,1030.7L637.3,1030.0L637.6,1032.8L637.9,1030.3L638.2,1029.6L638.4,1029.4L638.7,1034.8L639.0,1031.9L639.3,1031.1L639.6,1025.8L639.8,1031.1L640.1,1025.3L640.4,1030.7L640.7,1026.0L641.0,1035.6L641.2,1025.1L641.5,1034.3L641.8,1033.6L642.1,1026.4L642.4,1031.5L642.6,1037.1L642.9,1036.5L643.2,1028.3L643.5,1031.9L643.8,1029.9L644.0,1030.3L644.3,1031.3L644.6,1038.6L644.9,1033.2L645.2,1032.0L645.4,1031.5L645.7,1034.3L646.0,1034.3L646.3,1029.3L646.6,1036.3L646.8,1028.4L647.1,1030.6L647.4,1032.5L647.7,1036.0L648.0,1029.4L648.2,1030.9L648.5,1033.6L648.8,1031.2L649.1,1032.5L649.4,1032.0L649.6,1029.6L649.9,1030.6L650.2,1031.6L650.5,1028.8L650.8,1033.9L651.0,1023.3L651.3,1026.8L651.6,1034.2L651.9,1031.5L652.2,1028.7L652.4,1032.3L652.7,1035.0L653.0,1030.6L653.3,1035.1L653.6,1033.0L653.8,1033.5L654.1,1034.0L654.4,1037.8L654.7,1031.2L655.0,1033.4L655.2,1036.4L655.5,1030.4L655.8,1028.8L656.1,1034.8L656.4,1032.4L656.6,1031.3L656.9,1031.4L657.2,1027.3L657.5,1038.3L657.8,1025.8L658.0,1026.8L658.3,1023.2L658.6,1025.7L658.9,1031.0L659.2,1025.9L659.4,1027.2L659.7,1023.5L660.0,1030.0L660.3,1024.7L660.6,1020.2L660.8,1026.1L661.1,1022.7L661.4,1025.7L661.7,1024.6L662.0,1025.3L662.2,1025.4L662.5,1022.8L662.8,1021.6L663.1,1029.6L663.4,1026.8L663.6,1028.4L663.9,1026.4L664.2,1021.9L664.5,1024.2L664.8,1032.3L665.0,1025.6L665.3,1026.6L665.6,1023.2L665.9,1025.9L666.2,1026.3L666.4,1026.7L666.7,1027.1L667.0,1025.5L667.3,1025.7L667.6,1027.5L667.8,1028.6L668.1,1027.3L668.4,1033.1L668.7,1028.6L669.0,1028.6L669.2,1026.4L669.5,1031.7L669.8,1025.7L670.1,1024.2L670.4,1026.4L670.6,1031.5L670.9,1026.5L671.2,1034.1L671.5,1030.4L671.8,1026.2L672.0,1030.3L672.3,1036.6L672.6,1028.8L672.9,1027.5L673.2,1033.1L673.4,1035.5L673.7,1034.6L674.0,1030.5L674.3,1031.9L674.6,1032.1L674.8,1034.4L675.1,1037.0L675.4,1029.9L675.7,1033.8L676.0,1028.6L676.2,1031.1L676.5,1026.2L676.8,1026.4L677.1,1029.8L677.4,1025.7L677.6,1031.0L677.9,1026.6L678.2,1028.6L678.5,1028.2L678.8,1027.6L679.0,1029.2L679.3,1032.2L679.6,1038.4L679.9,1025.5L680.2,1030.1L680.4,1028.7L680.7,1026.5L681.0,1030.1L681.3,1026.7L681.6,1029.3L681.8,1033.4L682.1,1023.9L682.4,1031.1L682.7,1032.1L683.0,1028.3L683.2,1033.3L683.5,1033.2L683.8,1031.4L684.1,1036.4L684.4,1028.9L684.6,1034.8L684.9,1032.0L685.2,1029.1L685.5,1031.3L685.8,1030.2L686.0,1033.0L686.3,1025.3L686.6,1028.6L686.9,1027.1L687.2,1032.7L687.4,1024.0L687.7,1030.1L688.0,1021.3L688.3,1027.3L688.6,1025.7L688.8,1027.0L689.1,1023.7L689.4,1019.8L689.7,1021.0L690.0,1029.7L690.2,1026.4L690.5,1023.3L690.8,1028.9L691.1,1024.2L691.4,1024.5L691.6,1023.5L691.9,1031.2L692.2,1034.2L692.5,1025.9L692.8,1030.4L693.0,1033.2L693.3,1037.5L693.6,1024.6L693.9,1033.1L694.2,1035.4L694.4,1029.7L694.7,1036.0L695.0,1035.8L695.3,1037.7L695.6,1033.8L695.8,1036.7L696.1,1033.3L696.4,1036.5L696.7,1034.5L697.0,1032.3L697.2,1028.4L697.5,1037.0L697.8,1034.8L698.1,1033.6L698.4,1028.5L698.6,1029.2L698.9,1035.3L699.2,1032.5L699.5,1027.8L699.8,1030.7L700.0,1031.2L700.3,1030.3L700.6,1028.3L700.9,1035.0L701.2,1033.0L701.4,1030.5L701.7,1026.2L702.0,1028.9L702.3,1030.4L702.6,1032.7L702.8,1028.6L703.1,1032.8L703.4,1029.6L703.7,1026.7L704.0,1020.3L704.2,1025.1L704.5,1024.1L704.8,1028.1L705.1,1029.5L705.4,1032.8L705.6,1028.5L705.9,1025.0L706.2,1035.6L706.5,1029.3L706.8,1027.4L707.0,1027.2L707.3,1023.6L707.6,1029.3L707.9,1028.2L708.2,1031.6L708.4,1029.9L708.7,1029.1L709.0,1030.3L709.3,1025.7L709.5,1025.5L709.8,1027.0L710.1,1023.8L710.4,1027.6L710.7,1027.4L710.9,1030.8L711.2,1029.1L711.5,1023.5L711.8,1029.4L712.1,1033.5L712.3,1023.5L712.6,1026.5L712.9,1028.5L713.2,1024.1L713.5,1026.2L713.7,1027.8L714.0,1023.5L714.3,1028.4L714.6,1028.9L714.9,1024.0L715.1,1028.1L715.4,1031.5L715.7,1027.8L716.0,1029.7L716.3,1030.3L716.5,1027.5L716.8,1030.9L717.1,1028.7L717.4,1024.1L717.7,1028.2L717.9,1028.9L718.2,1028.3L718.5,1023.7L718.8,1026.9L719.1,1029.6L719.3,1026.3L719.6,1029.4L719.9,1030.1L720.2,1026.5L720.5,1029.0L720.7,1026.5L721.0,1030.9L721.3,1027.7L721.6,1026.6L721.9,1028.3L722.1,1028.3L722.4,1029.7L722.7,1030.0L723.0,1025.1L723.3,1026.7L723.5,1029.8L723.8,1030.2L724.1,1029.1L724.4,1036.9L724.7,1032.5L724.9,1029.0L725.2,1031.6L725.5,1033.6L725.8,1030.8L726.1,1024.6L726.3,1030.3L726.6,1030.3L726.9,1036.8L727.2,1024.8L727.5,1035.1L727.7,1029.9L728.0,1033.2L728.3,1029.3L728.6,1030.5L728.9,1033.2L729.1,1029.7L729.4,1032.3L729.7,1028.6L730.0,1027.3L730.3,1027.6L730.5,1026.6L730.8,1027.6L731.1,1032.1L731.4,1024.5L731.7,1023.2L731.9,1028.4L732.2,1033.8L732.5,1032.2L732.8,1033.3L733.1,1033.3L733.3,1027.6L733.6,1030.3L733.9,1022.0L734.2,1028.1L734.5,1031.7L734.7,1024.9L735.0,1023.1L735.3,1025.1L735.6,1029.4L735.9,1031.9L736.1,1035.9L736.4,1032.1L736.7,1023.0L737.0,1020.5L737.3,1028.0L737.5,1030.8L737.8,1022.8L738.1,1026.2L738.4,1026.4L738.7,1027.9L738.9,1027.1L739.2,1029.0L739.5,1030.2L739.8,1026.7L740.1,1028.2L740.3,1031.3L740.6,1021.3L740.9,1020.5L741.2,1024.5L741.5,1027.9L741.7,1022.2L742.0,1024.6L742.3,1020.0L742.6,1023.5L742.9,1018.8L743.1,1022.9L743.4,1022.2L743.7,1022.4L744.0,1025.6L744.3,1024.9L744.5,1020.0L744.8,1024.7L745.1,1016.9L745.4,1025.0L745.7,1030.2L745.9,1023.3L746.2,1023.0L746.5,1021.4L746.8,1023.4L747.1,1019.2L747.3,1022.4L747.6,1019.3L747.9,1018.7L748.2,1020.3L748.5,1019.7L748.7,1014.6L749.0,1026.3L749.3,1020.4L749.6,1014.8L749.9,1023.2L750.1,1019.6L750.4,1020.1L750.7,1021.4L751.0,1016.1L751.3,1009.4L751.5,1017.6L751.8,1018.2L752.1,1020.1L752.4,1014.3L752.7,1015.4L752.9,1017.0L753.2,1014.3L753.5,1014.1L753.8,1015.1L754.1,1010.7L754.3,1017.9L754.6,1009.5L754.9,1011.6L755.2,1009.7L755.5,1007.6L755.7,1010.5L756.0,1011.0L756.3,1011.4L756.6,1007.7L756.9,1003.4L757.1,1006.3L757.4,997.8L757.7,1001.0L758.0,1000.9L758.3,999.2L758.5,991.8L758.8,988.5L759.1,995.9L759.4,986.4L759.7,979.9L759.9,978.1L760.2,978.8L760.5,979.2L760.8,971.8L761.1,971.9L761.3,964.8L761.6,961.3L761.9,958.4L762.2,949.0L762.5,945.8L762.7,937.6L763.0,930.4L763.3,927.8L763.6,915.5L763.9,910.7L764.1,899.6L764.4,893.4L764.7,883.2L765.0,879.9L765.3,867.5L765.5,858.8L765.8,855.9L766.1,831.8L766.4,830.8L766.7,818.3L766.9,822.5L767.2,819.5L767.5,816.8L767.8,813.1L768.1,808.0L768.3,817.8L768.6,814.0L768.9,814.5L769.2,815.2L769.5,825.5L769.7,827.9L770.0,834.6L770.3,844.2L770.6,852.0L770.9,856.5L771.1,872.1L771.4,872.8L771.7,880.8L772.0,894.0L772.3,901.4L772.5,908.8L772.8,914.5L773.1,922.9L773.4,927.4L773.7,929.9L773.9,943.5L774.2,943.2L774.5,950.9L774.8,958.8L775.1,961.1L775.3,974.2L775.6,965.1L775.9,971.1L776.2,977.5L776.5,985.0L776.7,983.3L777.0,982.7L777.3,993.7L777.6,989.8L777.9,994.5L778.1,1000.1L778.4,997.3L778.7,999.7L779.0,1004.2L779.3,1003.4L779.5,1006.0L779.8,1003.2L780.1,1006.7L780.4,1004.4L780.7,1003.6L780.9,1014.4L781.2,1010.9L781.5,1012.8L781.8,1007.5L782.1,1010.9L782.3,1010.9L782.6,1007.8L782.9,1014.5L783.2,1011.4L783.5,1013.7L783.7,1010.5L784.0,1019.0L784.3,1019.1L784.6,1018.7L784.9,1015.4L785.1,1017.1L785.4,1023.0L785.7,1018.9L786.0,1020.9L786.3,1020.8L786.5,1017.2L786.8,1025.5L787.1,1014.9L787.4,1021.8L787.7,1020.9L787.9,1016.4L788.2,1022.5L788.5,1023.2L788.8,1022.0L789.0,1019.5L789.3,1023.7L789.6,1026.0L789.9,1023.6L790.2,1028.4L790.4,1026.1L790.7,1026.0L791.0,1028.0L791.3,1021.8L791.6,1022.2L791.8,1025.3L792.1,1025.2L792.4,1028.0L792.7,1026.8L793.0,1023.8L793.2,1023.9L793.5,1022.5L793.8,1022.4L794.1,1022.4L794.4,1026.9L794.6,1023.2L794.9,1024.0L795.2,1026.0L795.5,1024.4L795.8,1025.6L796.0,1019.8L796.3,1027.7L796.6,1025.5L796.9,1026.8L797.2,1026.9L797.4,1019.7L797.7,1032.1L798.0,1024.8L798.3,1024.4L798.6,1018.0L798.8,1025.0L799.1,1024.2L799.4,1021.9L799.7,1023.8L800.0,1027.1L800.2,1022.5L800.5,1021.1L800.8,1028.2L801.1,1025.3L801.4,1024.3L801.6,1032.1L801.9,1025.9L802.2,1025.2L802.5,1026.9L802.8,1025.2L803.0,1027.4L803.3,1027.6L803.6,1025.6L803.9,1027.2L804.2,1029.4L804.4,1030.0L804.7,1031.0L805.0,1031.9L805.3,1030.6L805.6,1031.7L805.8,1029.3L806.1,1029.9L806.4,1034.1L806.7,1025.2L807.0,1032.5L807.2,1041.1L807.5,1026.0L807.8,1036.1L808.1,1026.2L808.4,1032.6L808.6,1036.2L808.9,1035.6L809.2,1028.2L809.5,1026.8L809.8,1026.1L810.0,1032.4L810.3,1028.8L810.6,1029.8L810.9,1030.4L811.2,1030.6L811.4,1030.8L811.7,1029.4L812.0,1024.0L812.3,1033.2L812.6,1020.3L812.8,1032.3L813.1,1026.6L813.4,1027.7L813.7,1026.6L814.0,1027.0L814.2,1027.9L814.5,1026.9L814.8,1024.3L815.1,1029.9L815.4,1025.3L815.6,1030.9L815.9,1026.0L816.2,1024.0L816.5,1027.1L816.8,1028.1L817.0,1022.3L817.3,1023.8L817.6,1028.6L817.9,1020.9L818.2,1021.0L818.4,1023.8L818.7,1019.4L819.0,1015.6L819.3,1018.0L819.6,1024.3L819.8,1025.3L820.1,1025.3L820.4,1024.9L820.7,1020.1L821.0,1026.0L821.2,1027.5L821.5,1021.9L821.8,1026.9L822.1,1022.9L822.4,1024.7L822.6,1025.3L822.9,1019.9L823.2,1029.0L823.5,1022.3L823.8,1024.9L824.0,1024.1L824.3,1027.3L824.6,1027.4L824.9,1026.4L825.2,1030.7L825.4,1027.3L825.7,1025.2L826.0,1017.5L826.3,1025.2L826.6,1025.0L826.8,1023.0L827.1,1022.8L827.4,1027.1L827.7,1028.4L828.0,1031.0L828.2,1028.8L828.5,1023.3L828.8,1026.5L829.1,1021.9L829.4,1028.7L829.6,1028.0L829.9,1025.5L830.2,1027.6L830.5,1027.7L830.8,1027.0L831.0,1033.4L831.3,1039.1L831.6,1032.5L831.9,1033.3L832.2,1030.7L832.4,1029.1L832.7,1036.6L833.0,1028.6L833.3,1030.5L833.6,1028.6L833.8,1030.3L834.1,1027.9L834.4,1029.5L834.7,1023.5L835.0,1026.7L835.2,1031.0L835.5,1023.6L835.8,1024.7L836.1,1030.9L836.4,1028.2L836.6,1030.4L836.9,1020.6L837.2,1028.1L837.5,1024.0L837.8,1023.8L838.0,1029.3L838.3,1031.6L838.6,1023.4L838.9,1024.3L839.2,1025.5L839.4,1026.4L839.7,1022.2L840.0,1032.5L840.3,1026.8L840.6,1023.2L840.8,1022.1L841.1,1030.2L841.4,1029.3L841.7,1020.6L842.0,1022.7L842.2,1025.2L842.5,1017.5L842.8,1019.2L843.1,1025.0L843.4,1018.8L843.6,1019.5L843.9,1016.6L844.2,1018.2L844.5,1022.1L844.8,1016.8L845.0,1014.2L845.3,1014.7L845.6,1020.1L845.9,1012.8L846.2,1007.6L846.4,1006.4L846.7,1003.5L847.0,998.4L847.3,988.2L847.6,990.8L847.8,985.8L848.1,986.6L848.4,978.4L848.7,986.0L849.0,982.2L849.2,980.1L849.5,991.9L849.8,988.5L850.1,993.7L850.4,994.6L850.6,1001.3L850.9,1004.3L851.2,1007.6L851.5,1009.6L851.8,1005.6L852.0,1008.4L852.3,1016.9L852.6,1015.7L852.9,1022.0L853.2,1022.6L853.4,1018.9L853.7,1020.9L854.0,1021.2L854.3,1022.3L854.6,1024.6L854.8,1027.3L855.1,1029.3L855.4,1022.1L855.7,1023.2L856.0,1029.5L856.2,1027.3L856.5,1025.1L856.8,1017.0L857.1,1020.9L857.4,1024.3L857.6,1021.8L857.9,1029.6L858.2,1023.7L858.5,1024.3L858.8,1020.1L859.0,1020.3L859.3,1021.7L859.6,1022.0L859.9,1023.5L860.2,1025.7L860.4,1025.6L860.7,1028.2L861.0,1021.3L861.3,1026.4L861.6,1026.7L861.8,1031.1L862.1,1025.7L862.4,1027.5L862.7,1024.0L863.0,1027.8L863.2,1027.6L863.5,1024.3L863.8,1024.7L864.1,1025.6L864.4,1027.1L864.6,1021.4L864.9,1027.3L865.2,1023.2L865.5,1029.6L865.8,1027.9L866.0,1021.9L866.3,1020.9L866.6,1030.1L866.9,1024.3L867.2,1023.9L867.4,1020.7L867.7,1021.5L868.0,1024.3L868.3,1023.7L868.5,1019.2L868.8,1025.6L869.1,1022.8L869.4,1019.1L869.7,1025.2L869.9,1021.8L870.2,1025.0L870.5,1021.1L870.8,1024.1L871.1,1018.1L871.3,1024.3L871.6,1018.6L871.9,1023.7L872.2,1015.3L872.5,1022.8L872.7,1025.2L873.0,1024.3L873.3,1026.5L873.6,1019.5L873.9,1027.7L874.1,1027.9L874.4,1019.4L874.7,1020.8L875.0,1021.5L875.3,1023.2L875.5,1023.9L875.8,1015.6L876.1,1024.8L876.4,1022.0L876.7,1019.3L876.9,1025.1L877.2,1020.8L877.5,1025.0L877.8,1022.9L878.1,1020.0L878.3,1024.4L878.6,1023.1L878.9,1018.9L879.2,1015.4L879.5,1018.7L879.7,1022.3L880.0,1019.7L880.3,1025.9L880.6,1021.4L880.9,1021.2L881.1,1021.9L881.4,1017.9L881.7,1020.1L882.0,1018.2L882.3,1012.6L882.5,1014.0L882.8,1021.2L883.1,1017.0L883.4,1017.4L883.7,1012.7L883.9,1014.9L884.2,1018.6L884.5,1016.0L884.8,1013.6L885.1,1019.6L885.3,1014.4L885.6,1013.3L885.9,1017.7L886.2,1008.7L886.5,1015.7L886.7,1010.4L887.0,1011.3L887.3,1011.5L887.6,1013.9L887.9,1013.7L888.1,1014.1L888.4,1013.5L888.7,1016.9L889.0,1017.5L889.3,1014.1L889.5,1013.8L889.8,1009.9L890.1,1007.2L890.4,1012.1L890.7,1010.0L890.9,1012.2L891.2,1003.5L891.5,1017.2L891.8,1004.6L892.1,1008.3L892.3,1010.9L892.6,1003.0L892.9,1005.0L893.2,999.8L893.5,1000.9L893.7,998.5L894.0,1003.9L894.3,1003.5L894.6,1000.6L894.9,1004.5L895.1,1003.9L895.4,998.5L895.7,996.9L896.0,995.9L896.3,994.5L896.5,999.4L896.8,995.4L897.1,993.1L897.4,993.0L897.7,995.1L897.9,991.8L898.2,993.7L898.5,992.2L898.8,996.2L899.1,995.0L899.3,986.3L899.6,989.5L899.9,991.5L900.2,986.9L900.5,989.9L900.7,987.3L901.0,986.9L901.3,983.6L901.6,983.4L901.9,982.7L902.1,974.8L902.4,974.9L902.7,972.9L903.0,979.7L903.3,973.3L903.5,971.5L903.8,968.8L904.1,964.3L904.4,961.3L904.7,964.1L904.9,957.7L905.2,961.6L905.5,954.4L905.8,951.2L906.1,947.2L906.3,944.5L906.6,941.4L906.9,942.6L907.2,941.3L907.5,925.5L907.7,925.6L908.0,922.3L908.3,911.7L908.6,907.1L908.9,901.9L909.1,889.0L909.4,892.8L909.7,883.2L910.0,875.2L910.3,867.3L910.5,858.6L910.8,855.8L911.1,837.2L911.4,827.6L911.7,809.8L911.9,799.1L912.2,781.8L912.5,766.5L912.8,746.7L913.1,729.1L913.3,715.0L913.6,696.0L913.9,673.6L914.2,646.5L914.5,626.7L914.7,589.7L915.0,577.6L915.3,545.5L915.6,517.6L915.9,491.2L916.1,452.9L916.4,427.1L916.7,388.5L917.0,360.9L917.3,324.9L917.5,298.1L917.8,275.2L918.1,239.1L918.4,216.4L918.7,198.6L918.9,186.5L919.2,187.9L919.5,165.0L919.8,156.0L920.1,165.8L920.3,168.2L920.6,184.5L920.9,202.3L921.2,215.7L921.5,238.3L921.7,256.3L922.0,292.1L922.3,315.4L922.6,352.9L922.9,382.5L923.1,404.2L923.4,437.1L923.7,469.5L924.0,502.7L924.3,521.8L924.5,557.3L924.8,593.1L925.1,611.5L925.4,638.0L925.7,661.0L925.9,678.7L926.2,708.0L926.5,724.7L926.8,742.3L927.1,761.0L927.3,776.5L927.6,780.7L927.9,802.5L928.2,810.7L928.5,824.7L928.7,832.1L929.0,841.5L929.3,857.2L929.6,862.7L929.9,870.1L930.1,878.0L930.4,886.8L930.7,893.6L931.0,892.4L931.3,903.8L931.5,911.8L931.8,920.6L932.1,927.7L932.4,924.8L932.7,938.7L932.9,936.6L933.2,941.7L933.5,941.9L933.8,945.0L934.1,954.8L934.3,952.5L934.6,955.8L934.9,962.6L935.2,967.1L935.5,959.1L935.7,965.5L936.0,968.1L936.3,975.7L936.6,979.3L936.9,972.6L937.1,975.0L937.4,977.4L937.7,979.1L938.0,975.0L938.3,979.2L938.5,974.8L938.8,969.1L939.1,973.8L939.4,979.5L939.7,982.2L939.9,973.5L940.2,976.1L940.5,982.8L940.8,973.5L941.1,987.2L941.3,989.9L941.6,978.4L941.9,991.3L942.2,989.2L942.5,995.0L942.7,992.0L943.0,990.8L943.3,992.3L943.6,995.1L943.9,992.9L944.1,992.6L944.4,988.2L944.7,994.5L945.0,993.4L945.3,999.5L945.5,994.2L945.8,994.6L946.1,993.7L946.4,998.7L946.6,996.6L946.9,995.9L947.2,1003.9L947.5,1005.3L947.8,999.1L948.0,998.0L948.3,1005.3L948.6,999.8L948.9,1011.7L949.2,1003.0L949.4,1007.0L949.7,1000.5L950.0,1005.0L950.3,1009.1L950.6,1007.6L950.8,1005.1L951.1,1015.0L951.4,1010.2L951.7,1007.6L952.0,1006.8L952.2,1008.1L952.5,1013.3L952.8,1006.8L953.1,1009.2L953.4,1006.4L953.6,1012.7L953.9,1008.2L954.2,1011.2L954.5,1010.3L954.8,1006.7L955.0,1010.8L955.3,1011.8L955.6,1005.6L955.9,1011.7L956.2,1020.9L956.4,1009.3L956.7,1012.5L957.0,1006.5L957.3,1012.2L957.6,1008.9L957.8,1013.0L958.1,1010.1L958.4,1006.1L958.7,1012.5L959.0,1007.5L959.2,1003.9L959.5,1006.1L959.8,1001.4L960.1,1004.0L960.4,1000.8L960.6,997.9L960.9,999.0L961.2,990.5L961.5,995.0L961.8,982.8L962.0,991.2L962.3,983.4L962.6,978.5L962.9,973.3L963.2,973.7L963.4,967.7L963.7,964.0L964.0,964.8L964.3,957.3L964.6,956.0L964.8,957.0L965.1,958.7L965.4,955.0L965.7,956.8L966.0,957.7L966.2,961.6L966.5,966.0L966.8,960.5L967.1,965.7L967.4,969.0L967.6,974.4L967.9,981.0L968.2,980.0L968.5,984.6L968.8,991.4L969.0,987.6L969.3,992.7L969.6,997.1L969.9,1001.5L970.2,1005.0L970.4,1005.0L970.7,1014.2L971.0,1008.4L971.3,1011.5L971.6,1016.8L971.8,1017.0L972.1,1015.5L972.4,1017.5L972.7,1019.5L973.0,1017.5L973.2,1020.0L973.5,1015.5L973.8,1018.9L974.1,1013.9L974.4,1016.5L974.6,1016.0L974.9,1023.7L975.2,1018.7L975.5,1021.4L975.8,1017.9L976.0,1020.5L976.3,1020.6L976.6,1019.2L976.9,1024.9L977.2,1017.6L977.4,1025.1L977.7,1031.8L978.0,1021.6L978.3,1024.8L978.6,1020.4L978.8,1025.8L979.1,1021.1L979.4,1029.0L979.7,1026.2L980.0,1022.6L980.2,1024.8L980.5,1024.4L980.8,1028.9L981.1,1032.8L981.4,1029.2L981.6,1026.9L981.9,1028.0L982.2,1030.8L982.5,1022.7L982.8,1031.7L983.0,1030.8L983.3,1021.5L983.6,1032.3L983.9,1023.1L984.2,1027.0L984.4,1030.9L984.7,1021.8L985.0,1020.7L985.3,1022.7L985.6,1022.5L985.8,1025.1L986.1,1023.7L986.4,1023.6L986.7,1023.4L987.0,1024.1L987.2,1021.8L987.5,1025.3L987.8,1024.0L988.1,1020.7L988.4,1029.3L988.6,1019.6L988.9,1025.6L989.2,1020.9L989.5,1024.3L989.8,1024.8L990.0,1025.9L990.3,1027.7L990.6,1020.9L990.9,1032.7L991.2,1025.5L991.4,1022.2L991.7,1021.1L992.0,1033.2L992.3,1031.7L992.6,1027.2L992.8,1030.3L993.1,1032.7L993.4,1029.5L993.7,1028.4L994.0,1030.0L994.2,1033.0L994.5,1030.5L994.8,1026.6L995.1,1032.5L995.4,1024.5L995.6,1027.1L995.9,1032.8L996.2,1029.2L996.5,1028.8L996.8,1027.9L997.0,1030.5L997.3,1026.9L997.6,1020.9L997.9,1027.6L998.2,1017.5L998.4,1020.7L998.7,1032.2L999.0,1030.7L999.3,1026.2L999.6,1027.6L999.8,1028.2L1000.1,1031.2L1000.4,1025.7L1000.7,1025.4L1001.0,1026.2L1001.2,1028.7L1001.5,1029.1L1001.8,1027.1L1002.1,1030.7L1002.4,1025.3L1002.6,1028.2L1002.9,1026.2L1003.2,1025.1L1003.5,1031.8L1003.8,1026.8L1004.0,1024.3L1004.3,1027.2L1004.6,1023.7L1004.9,1028.4L1005.2,1028.9L1005.4,1029.3L1005.7,1022.8L1006.0,1025.7L1006.3,1031.9L1006.6,1025.7L1006.8,1030.4L1007.1,1031.4L1007.4,1022.5L1007.7,1030.7L1008.0,1029.4L1008.2,1029.9L1008.5,1032.5L1008.8,1028.8L1009.1,1027.7L1009.4,1029.5L1009.6,1026.7L1009.9,1029.5L1010.2,1021.8L1010.5,1033.5L1010.8,1026.6L1011.0,1029.9L1011.3,1029.1L1011.6,1028.3L1011.9,1028.1L1012.2,1027.8L1012.4,1022.3L1012.7,1025.4L1013.0,1030.6L1013.3,1023.6L1013.6,1023.5L1013.8,1033.4L1014.1,1030.8L1014.4,1032.2L1014.7,1027.7L1015.0,1029.0L1015.2,1031.1L1015.5,1031.0L1015.8,1029.5L1016.1,1025.7L1016.4,1028.4L1016.6,1026.4L1016.9,1036.2L1017.2,1030.3L1017.5,1031.1L1017.8,1032.6L1018.0,1031.8L1018.3,1033.4L1018.6,1029.8L1018.9,1026.9L1019.2,1037.0L1019.4,1029.4L1019.7,1030.2L1020.0,1029.3L1020.3,1030.1L1020.6,1031.9L1020.8,1034.2L1021.1,1028.6L1021.4,1032.6L1021.7,1029.4L1022.0,1034.9L1022.2,1027.1L1022.5,1030.7L1022.8,1032.1L1023.1,1025.2L1023.4,1029.3L1023.6,1028.9L1023.9,1025.6L1024.2,1027.0L1024.5,1030.5L1024.8,1028.0L1025.0,1025.9L1025.3,1026.6L1025.6,1028.7L1025.9,1031.4L1026.1,1030.3L1026.4,1030.4L1026.7,1033.4L1027.0,1024.3L1027.3,1025.0L1027.5,1022.9L1027.8,1032.7L1028.1,1023.3L1028.4,1030.3L1028.7,1032.7L1028.9,1026.0L1029.2,1028.0L1029.5,1028.8L1029.8,1031.5L1030.1,1024.2L1030.3,1029.4L1030.6,1030.2L1030.9,1028.3L1031.2,1028.2L1031.5,1031.4L1031.7,1028.3L1032.0,1027.7L1032.3,1027.0L1032.6,1030.3L1032.9,1027.8L1033.1,1031.1L1033.4,1029.8L1033.7,1033.4L1034.0,1028.0L1034.3,1031.0L1034.5,1032.2L1034.8,1032.6L1035.1,1035.0L1035.4,1032.7L1035.7,1034.1L1035.9,1037.0L1036.2,1033.1L1036.5,1026.7L1036.8,1025.0L1037.1,1030.6L1037.3,1026.7L1037.6,1028.0L1037.9,1025.8L1038.2,1029.7L1038.5,1028.8L1038.7,1021.3L1039.0,1025.1L1039.3,1023.1L1039.6,1019.8L1039.9,1025.6L1040.1,1023.1L1040.4,1024.8L1040.7,1031.0L1041.0,1027.7L1041.3,1027.2L1041.5,1022.8L1041.8,1020.8L1042.1,1028.5L1042.4,1024.2L1042.7,1025.7L1042.9,1024.9L1043.2,1026.8L1043.5,1034.3L1043.8,1026.6L1044.1,1027.2L1044.3,1029.1L1044.6,1029.8L1044.9,1025.7L1045.2,1024.3L1045.5,1028.2L1045.7,1029.5L1046.0,1028.0L1046.3,1027.5L1046.6,1027.7L1046.9,1029.4L1047.1,1030.3L1047.4,1025.7L1047.7,1028.8L1048.0,1031.4L1048.3,1029.7L1048.5,1025.7L1048.8,1028.4L1049.1,1029.0L1049.4,1030.9L1049.7,1023.2L1049.9,1029.8L1050.2,1026.0L1050.5,1027.7L1050.8,1029.0L1051.1,1024.1L1051.3,1024.3L1051.6,1026.4L1051.9,1029.1L1052.2,1025.4L1052.5,1023.0L1052.7,1025.4L1053.0,1028.9L1053.3,1031.6L1053.6,1026.9L1053.9,1027.8L1054.1,1028.6L1054.4,1029.2L1054.7,1027.2L1055.0,1029.1L1055.3,1031.5L1055.5,1031.5L1055.8,1031.5L1056.1,1028.6L1056.4,1029.9L1056.7,1029.3L1056.9,1034.3L1057.2,1035.1L1057.5,1031.2L1057.8,1034.4L1058.1,1028.1L1058.3,1027.5L1058.6,1023.8L1058.9,1027.8L1059.2,1025.2L1059.5,1026.3L1059.7,1026.9L1060.0,1024.1L1060.3,1020.8L1060.6,1023.4L1060.9,1022.6L1061.1,1022.2L1061.4,1023.4L1061.7,1020.0L1062.0,1019.1L1062.3,1024.5L1062.5,1021.9L1062.8,1017.9L1063.1,1015.0L1063.4,1016.2L1063.7,1018.6L1063.9,1020.0L1064.2,1024.8L1064.5,1016.9L1064.8,1018.4L1065.1,1017.1L1065.3,1018.7L1065.6,1017.7L1065.9,1015.9L1066.2,1022.6L1066.5,1020.3L1066.7,1024.2L1067.0,1019.2L1067.3,1022.0L1067.6,1023.7L1067.9,1016.6L1068.1,1018.8L1068.4,1025.5L1068.7,1024.0L1069.0,1018.7L1069.3,1022.5L1069.5,1022.0L1069.8,1024.2L1070.1,1030.8L1070.4,1025.0L1070.7,1033.3L1070.9,1027.1L1071.2,1026.2L1071.5,1033.7L1071.8,1032.4L1072.1,1034.2L1072.3,1036.3L1072.6,1034.1L1072.9,1034.9L1073.2,1026.3L1073.5,1029.1L1073.7,1032.9L1074.0,1032.1L1074.3,1033.5L1074.6,1029.6L1074.9,1034.1L1075.1,1036.4L1075.4,1031.6L1075.7,1031.9L1076.0,1030.3L1076.3,1031.0L1076.5,1028.3L1076.8,1025.6L1077.1,1027.1L1077.4,1026.3L1077.7,1020.8L1077.9,1025.6L1078.2,1024.5L1078.5,1024.7L1078.8,1022.2L1079.1,1025.1L1079.3,1025.4L1079.6,1021.5L1079.9,1024.9L1080.2,1026.6L1080.5,1027.0L1080.7,1022.6L1081.0,1022.9L1081.3,1026.6L1081.6,1024.0L1081.9,1035.1L1082.1,1025.6L1082.4,1026.0L1082.7,1030.6L1083.0,1027.4L1083.3,1021.9L1083.5,1028.4L1083.8,1025.9L1084.1,1027.2L1084.4,1023.8L1084.7,1025.8L1084.9,1027.9L1085.2,1028.1L1085.5,1024.9L1085.8,1026.0L1086.1,1025.5L1086.3,1028.4L1086.6,1027.4L1086.9,1024.0L1087.2,1029.6L1087.5,1025.5L1087.7,1028.6L1088.0,1024.5L1088.3,1028.0L1088.6,1026.6L1088.9,1026.9L1089.1,1028.1L1089.4,1027.7L1089.7,1026.7L1090.0,1026.6L1090.3,1022.2L1090.5,1025.7L1090.8,1019.3L1091.1,1019.2L1091.4,1025.0L1091.7,1025.4L1091.9,1030.7L1092.2,1028.5L1092.5,1030.0L1092.8,1026.0L1093.1,1028.5L1093.3,1030.9L1093.6,1029.3L1093.9,1029.1L1094.2,1028.6L1094.5,1025.9L1094.7,1026.3L1095.0,1025.0L1095.3,1030.8L1095.6,1029.1L1095.9,1028.3L1096.1,1031.6L1096.4,1029.1L1096.7,1034.1L1097.0,1036.7L1097.3,1032.4L1097.5,1028.9L1097.8,1026.2L1098.1,1036.4L1098.4,1031.4L1098.7,1026.1L1098.9,1032.4L1099.2,1023.7L1099.5,1026.9L1099.8,1027.1L1100.1,1026.4L1100.3,1023.8L1100.6,1034.1L1100.9,1025.6L1101.2,1027.9L1101.5,1026.9L1101.7,1022.1L1102.0,1025.4L1102.3,1027.9L1102.6,1030.5L1102.9,1027.0L1103.1,1029.6L1103.4,1027.9L1103.7,1031.0L1104.0,1022.2L1104.2,1031.6L1104.5,1028.1L1104.8,1028.2L1105.1,1021.3L1105.4,1026.4L1105.6,1031.2L1105.9,1036.0L1106.2,1026.6L1106.5,1026.3L1106.8,1029.4L1107.0,1028.4L1107.3,1025.3L1107.6,1026.2L1107.9,1025.2L1108.2,1027.8L1108.4,1027.9L1108.7,1030.5L1109.0,1027.6L1109.3,1026.6L1109.6,1024.7L1109.8,1026.8L1110.1,1020.8L1110.4,1030.2L1110.7,1024.4L1111.0,1027.8L1111.2,1021.2L1111.5,1026.9L1111.8,1025.2L1112.1,1023.7L1112.4,1022.5L1112.6,1022.1L1112.9,1030.4L1113.2,1028.8L1113.5,1025.6L1113.8,1025.8L1114.0,1022.9L1114.3,1019.4L1114.6,1019.2L1114.9,1022.5L1115.2,1023.6L1115.4,1020.2L1115.7,1025.8L1116.0,1024.7L1116.3,1023.4L1116.6,1017.3L1116.8,1021.7L1117.1,1022.0L1117.4,1018.0L1117.7,1014.8L1118.0,1026.8L1118.2,1022.4L1118.5,1018.7L1118.8,1024.1L1119.1,1021.8L1119.4,1019.0L1119.6,1017.6L1119.9,1018.5L1120.2,1019.8L1120.5,1014.9L1120.8,1013.3L1121.0,1015.2L1121.3,1004.2L1121.6,1012.5L1121.9,1010.4L1122.2,1010.9L1122.4,1009.6L1122.7,1010.4L1123.0,1008.8L1123.3,1007.7L1123.6,1006.1L1123.8,1006.9L1124.1,1002.9L1124.4,1006.5L1124.7,997.2L1125.0,1002.0L1125.2,1001.7L1125.5,995.1L1125.8,996.4L1126.1,1000.3L1126.4,994.1L1126.6,989.8L1126.9,981.0L1127.2,989.0L1127.5,985.6L1127.8,984.2L1128.0,985.6L1128.3,975.7L1128.6,972.4L1128.9,965.9L1129.2,963.7L1129.4,959.3L1129.7,957.1L1130.0,951.4L1130.3,941.8L1130.6,937.0L1130.8,937.0L1131.1,922.9L1131.4,921.7L1131.7,917.5L1132.0,906.7L1132.2,897.5L1132.5,893.3L1132.8,881.5L1133.1,871.9L1133.4,862.9L1133.6,859.4L1133.9,850.1L1134.2,845.8L1134.5,832.6L1134.8,826.9L1135.0,821.7L1135.3,820.6L1135.6,814.6L1135.9,819.0L1136.2,816.5L1136.4,812.5L1136.7,807.0L1137.0,813.7L1137.3,828.9L1137.6,827.7L1137.8,833.3L1138.1,836.8L1138.4,845.7L1138.7,844.1L1139.0,850.7L1139.2,859.2L1139.5,872.5L1139.8,882.2L1140.1,889.0L1140.4,894.4L1140.6,898.0L1140.9,912.4L1141.2,916.0L1141.5,923.9L1141.8,930.5L1142.0,935.7L1142.3,941.1L1142.6,947.5L1142.9,950.8L1143.2,961.0L1143.4,964.5L1143.7,972.9L1144.0,968.1L1144.3,981.5L1144.6,981.2L1144.8,984.3L1145.1,985.3L1145.4,988.1L1145.7,988.6L1146.0,998.4L1146.2,997.1L1146.5,1001.9L1146.8,1003.9L1147.1,1001.4L1147.4,1003.6L1147.6,1004.6L1147.9,1010.1L1148.2,1008.5L1148.5,1009.8L1148.8,1012.5L1149.0,1011.1L1149.3,1018.5L1149.6,1010.1L1149.9,1017.5L1150.2,1018.5L1150.4,1011.1L1150.7,1017.5L1151.0,1015.9L1151.3,1017.9L1151.6,1011.6L1151.8,1016.2L1152.1,1012.6L1152.4,1014.7L1152.7,1020.3L1153.0,1015.9L1153.2,1009.8L1153.5,1012.8L1153.8,1014.0L1154.1,1021.0L1154.4,1016.2L1154.6,1013.9L1154.9,1022.5L1155.2,1020.2L1155.5,1020.8L1155.8,1017.6L1156.0,1024.7L1156.3,1020.2L1156.6,1014.8L1156.9,1017.6L1157.2,1018.6L1157.4,1020.8L1157.7,1023.7L1158.0,1019.3L1158.3,1019.7L1158.6,1028.4L1158.8,1022.0L1159.1,1020.3L1159.4,1022.2L1159.7,1018.5L1160.0,1024.1L1160.2,1025.7L1160.5,1021.2L1160.8,1026.2L1161.1,1022.4L1161.4,1024.3L1161.6,1021.2L1161.9,1021.0L1162.2,1018.9L1162.5,1024.1L1162.8,1022.5L1163.0,1022.6L1163.3,1020.0L1163.6,1019.9L1163.9,1021.7L1164.2,1025.2L1164.4,1024.8L1164.7,1022.1L1165.0,1025.2L1165.3,1029.9L1165.6,1025.1L1165.8,1031.2L1166.1,1026.5L1166.4,1029.4L1166.7,1024.0L1167.0,1029.2L1167.2,1022.2L1167.5,1026.6L1167.8,1024.8L1168.1,1019.8L1168.4,1021.7L1168.6,1029.2L1168.9,1027.2L1169.2,1029.5L1169.5,1026.0L1169.8,1016.4L1170.0,1025.8L1170.3,1023.1L1170.6,1023.1L1170.9,1023.1L1171.2,1021.9L1171.4,1021.1L1171.7,1027.7L1172.0,1025.2L1172.3,1021.8L1172.6,1022.5L1172.8,1026.8L1173.1,1025.2L1173.4,1024.9L1173.7,1020.9L1174.0,1023.7L1174.2,1021.9L1174.5,1020.0L1174.8,1028.9L1175.1,1025.6L1175.4,1025.7L1175.6,1024.3L1175.9,1029.7L1176.2,1034.0L1176.5,1029.5L1176.8,1030.7L1177.0,1024.2L1177.3,1028.6L1177.6,1028.9L1177.9,1032.8L1178.2,1028.5L1178.4,1025.8L1178.7,1028.7L1179.0,1027.7L1179.3,1033.6L1179.6,1031.4L1179.8,1030.6L1180.1,1030.3L1180.4,1032.4L1180.7,1028.4L1181.0,1027.2L1181.2,1024.3L1181.5,1033.6L1181.8,1031.5L1182.1,1031.9L1182.4,1030.1L1182.6,1035.1L1182.9,1027.3L1183.2,1034.0L1183.5,1028.1L1183.7,1029.5L1184.0,1027.5L1184.3,1031.7L1184.6,1030.8L1184.9,1033.2L1185.1,1030.3L1185.4,1028.0L1185.7,1033.9L1186.0,1036.1L1186.3,1034.4L1186.5,1032.0L1186.8,1033.3L1187.1,1026.9L1187.4,1031.0L1187.7,1035.5L1187.9,1033.4L1188.2,1029.4L1188.5,1034.6L1188.8,1031.6L1189.1,1034.2L1189.3,1027.6L1189.6,1030.2L1189.9,1032.7L1190.2,1032.5L1190.5,1033.1L1190.7,1031.1L1191.0,1030.3L1191.3,1032.1L1191.6,1033.0L1191.9,1025.5L1192.1,1028.8L1192.4,1028.9L1192.7,1029.8L1193.0,1032.2L1193.3,1025.0L1193.5,1030.5L1193.8,1023.7L1194.1,1026.7L1194.4,1027.6L1194.7,1028.5L1194.9,1027.6L1195.2,1028.1L1195.5,1028.9L1195.8,1029.3L1196.1,1024.8L1196.3,1026.4L1196.6,1029.6L1196.9,1032.7L1197.2,1034.5L1197.5,1040.3L1197.7,1032.3L1198.0,1029.9L1198.3,1033.0L1198.6,1034.7L1198.9,1033.2L1199.1,1029.7L1199.4,1032.6L1199.7,1032.8L1200.0,1028.7L1200.3,1029.3L1200.5,1036.5L1200.8,1026.2L1201.1,1033.3L1201.4,1032.0L1201.7,1036.9L1201.9,1034.4L1202.2,1029.8L1202.5,1035.9L1202.8,1030.1L1203.1,1037.4L1203.3,1036.0L1203.6,1030.5L1203.9,1032.7L1204.2,1030.6L1204.5,1027.1L1204.7,1032.8L1205.0,1030.8L1205.3,1032.1L1205.6,1032.8L1205.9,1034.0L1206.1,1033.0L1206.4,1029.7L1206.7,1030.4L1207.0,1031.4L1207.3,1029.8L1207.5,1029.3L1207.8,1035.4L1208.1,1031.1L1208.4,1035.1L1208.7,1026.8L1208.9,1028.6L1209.2,1027.1L1209.5,1027.0L1209.8,1027.0L1210.1,1027.2L1210.3,1026.1L1210.6,1032.7L1210.9,1029.3L1211.2,1025.0L1211.5,1025.6L1211.7,1029.6L1212.0,1029.1L1212.3,1025.8L1212.6,1030.5L1212.9,1023.5L1213.1,1026.4L1213.4,1032.9L1213.7,1019.8L1214.0,1026.8L1214.3,1030.1L1214.5,1026.4L1214.8,1024.2L1215.1,1023.5L1215.4,1019.7L1215.7,1021.8L1215.9,1025.8L1216.2,1024.0L1216.5,1025.7L1216.8,1025.6L1217.1,1027.2L1217.3,1021.7L1217.6,1026.2L1217.9,1026.6L1218.2,1027.1L1218.5,1025.8L1218.7,1022.3L1219.0,1031.1L1219.3,1031.9L1219.6,1036.8L1219.9,1032.0L1220.1,1034.9L1220.4,1031.8L1220.7,1028.9L1221.0,1031.4L1221.3,1026.4L1221.5,1030.5L1221.8,1029.3L1222.1,1026.4L1222.4,1033.1L1222.7,1032.6L1222.9,1030.5L1223.2,1031.5L1223.5,1033.8L1223.8,1028.4L1224.1,1024.8L1224.3,1026.0L1224.6,1030.9L1224.9,1029.6L1225.2,1024.6L1225.5,1033.1L1225.7,1030.0L1226.0,1034.4L1226.3,1033.2L1226.6,1028.8L1226.9,1030.7L1227.1,1028.6L1227.4,1028.7L1227.7,1030.8L1228.0,1033.6L1228.3,1036.6L1228.5,1030.2L1228.8,1035.3L1229.1,1033.5L1229.4,1032.9L1229.7,1036.9L1229.9,1032.2L1230.2,1037.1L1230.5,1031.6L1230.8,1029.3L1231.1,1033.8L1231.3,1026.5L1231.6,1026.7L1231.9,1029.1L1232.2,1029.0L1232.5,1027.6L1232.7,1021.9L1233.0,1023.3L1233.3,1028.4L1233.6,1028.0L1233.9,1023.0L1234.1,1026.6L1234.4,1026.2L1234.7,1028.6L1235.0,1023.4L1235.3,1030.2L1235.5,1025.2L1235.8,1030.9L1236.1,1029.9L1236.4,1024.6L1236.7,1027.3L1236.9,1029.7L1237.2,1032.3L1237.5,1025.4L1237.8,1028.2L1238.1,1031.5L1238.3,1030.8L1238.6,1025.8L1238.9,1025.7L1239.2,1029.1L1239.5,1024.0L1239.7,1027.2L1240.0,1028.7L1240.3,1025.6L1240.6,1017.2L1240.9,1028.7L1241.1,1028.7L1241.4,1029.5L1241.7,1028.0L1242.0,1020.5L1242.3,1029.9L1242.5,1026.8L1242.8,1028.5L1243.1,1025.0L1243.4,1024.5L1243.7,1024.1L1243.9,1029.2L1244.2,1024.6L1244.5,1022.5L1244.8,1018.5L1245.1,1023.1L1245.3,1021.1L1245.6,1020.9L1245.9,1022.9L1246.2,1021.7L1246.5,1019.2L1246.7,1019.7L1247.0,1019.3L1247.3,1021.2L1247.6,1021.3L1247.9,1019.9L1248.1,1017.3L1248.4,1022.8L1248.7,1023.5L1249.0,1018.0L1249.3,1023.0L1249.5,1021.3L1249.8,1016.5L1250.1,1023.7L1250.4,1027.4L1250.7,1023.0L1250.9,1023.8L1251.2,1029.7L1251.5,1023.8L1251.8,1024.9L1252.1,1027.2L1252.3,1030.3L1252.6,1030.5L1252.9,1027.1L1253.2,1027.7L1253.5,1028.8L1253.7,1027.1L1254.0,1025.3L1254.3,1024.3L1254.6,1029.3L1254.9,1026.1L1255.1,1035.1L1255.4,1028.0L1255.7,1023.6L1256.0,1025.7L1256.3,1026.7L1256.5,1026.9L1256.8,1027.1L1257.1,1027.3L1257.4,1025.8L1257.7,1028.5L1257.9,1033.5L1258.2,1026.0L1258.5,1026.5L1258.8,1030.2L1259.1,1032.1L1259.3,1031.0L1259.6,1032.4L1259.9,1028.7L1260.2,1028.2L1260.5,1030.9L1260.7,1030.9L1261.0,1033.9L1261.3,1033.5L1261.6,1023.3L1261.8,1031.1L1262.1,1026.8L1262.4,1022.6L1262.7,1030.2L1263.0,1028.8L1263.2,1028.5L1263.5,1025.9L1263.8,1027.0L1264.1,1029.8L1264.4,1026.2L1264.6,1030.6L1264.9,1031.5L1265.2,1030.8L1265.5,1032.2L1265.8,1031.1L1266.0,1027.6L1266.3,1027.8L1266.6,1031.0L1266.9,1033.2L1267.2,1030.4L1267.4,1028.1L1267.7,1029.8L1268.0,1023.6L1268.3,1025.9L1268.6,1027.6L1268.8,1028.5L1269.1,1027.7L1269.4,1027.9L1269.7,1025.3L1270.0,1027.3L1270.2,1030.0L1270.5,1024.0L1270.8,1026.2L1271.1,1029.1L1271.4,1034.9L1271.6,1032.8L1271.9,1035.7L1272.2,1035.3L1272.5,1030.1L1272.8,1031.3L1273.0,1028.0L1273.3,1035.0L1273.6,1033.5L1273.9,1032.9L1274.2,1032.8L1274.4,1031.8L1274.7,1030.6L1275.0,1030.4L1275.3,1032.8L1275.6,1026.4L1275.8,1025.4L1276.1,1028.3L1276.4,1031.7L1276.7,1028.9L1277.0,1027.6L1277.2,1030.9L1277.5,1028.9L1277.8,1023.0L1278.1,1026.0L1278.4,1023.0L1278.6,1029.0L1278.9,1028.7L1279.2,1031.8L1279.5,1037.4L1279.8,1029.8L1280.0,1032.2L1280.3,1031.6L1280.6,1025.0L1280.9,1031.8L1281.2,1032.5L1281.4,1036.1L1281.7,1033.2L1282.0,1032.1L1282.3,1037.9L1282.6,1035.9L1282.8,1033.3L1283.1,1033.3L1283.4,1034.1L1283.7,1036.8L1284.0,1037.9L1284.2,1028.9L1284.5,1035.5L1284.8,1031.3L1285.1,1031.5L1285.4,1032.7L1285.6,1026.4L1285.9,1031.4L1286.2,1024.5L1286.5,1026.8L1286.8,1025.4L1287.0,1032.9L1287.3,1032.7L1287.6,1030.0L1287.9,1029.3L1288.2,1026.3L1288.4,1033.2L1288.7,1032.4L1289.0,1031.1L1289.3,1028.3L1289.6,1027.8L1289.8,1028.9L1290.1,1033.4L1290.4,1026.9L1290.7,1030.3L1291.0,1035.1L1291.2,1032.9L1291.5,1035.6L1291.8,1031.6L1292.1,1031.6L1292.4,1034.3L1292.6,1032.0L1292.9,1030.8L1293.2,1028.0L1293.5,1024.8L1293.8,1033.4L1294.0,1027.4L1294.3,1026.2L1294.6,1030.8L1294.9,1025.4L1295.2,1023.8L1295.4,1026.0L1295.7,1027.5L1296.0,1028.4L1296.3,1029.1L1296.6,1030.5L1296.8,1027.3L1297.1,1028.9L1297.4,1027.6L1297.7,1026.2L1298.0,1029.6L1298.2,1029.6L1298.5,1034.3L1298.8,1030.6L1299.1,1026.7L1299.4,1030.4L1299.6,1027.6L1299.9,1032.6L1300.2,1022.0L1300.5,1024.3L1300.8,1023.4L1301.0,1024.7L1301.3,1022.9L1301.6,1017.3L1301.9,1015.2L1302.2,1020.1L1302.4,1022.6L1302.7,1021.1L1303.0,1014.0L1303.3,1015.1L1303.6,1009.5L1303.8,1006.4L1304.1,1013.2L1304.4,1010.4L1304.7,1006.5L1305.0,1005.8L1305.2,1009.3L1305.5,1007.4L1305.8,1005.5L1306.1,1007.6L1306.4,1007.1L1306.6,1006.4L1306.9,1006.0L1307.2,1011.6L1307.5,1008.1L1307.8,1006.9L1308.0,1016.9L1308.3,1016.3L1308.6,1015.3L1308.9,1014.8L1309.2,1016.9L1309.4,1013.3L1309.7,1019.0L1310.0,1021.1L1310.3,1020.7L1310.6,1023.6L1310.8,1020.8L1311.1,1024.3L1311.4,1019.6L1311.7,1024.6L1312.0,1023.2L1312.2,1021.3L1312.5,1024.3L1312.8,1025.7L1313.1,1024.1L1313.4,1028.7L1313.6,1024.0L1313.9,1029.0L1314.2,1028.4L1314.5,1024.5L1314.8,1030.6L1315.0,1022.2L1315.3,1027.8L1315.6,1026.4L1315.9,1028.4L1316.2,1021.4L1316.4,1022.4L1316.7,1023.4L1317.0,1025.8L1317.3,1025.9L1317.6,1025.6L1317.8,1024.7L1318.1,1023.3L1318.4,1021.3L1318.7,1024.0L1319.0,1026.8L1319.2,1028.3L1319.5,1023.9L1319.8,1028.7L1320.1,1021.8L1320.4,1028.3L1320.6,1023.1L1320.9,1027.3L1321.2,1024.1L1321.5,1024.5L1321.8,1026.1L1322.0,1032.3L1322.3,1026.5L1322.6,1030.7L1322.9,1029.6L1323.2,1030.4L1323.4,1030.7L1323.7,1031.9L1324.0,1026.6L1324.3,1030.4L1324.6,1031.4L1324.8,1028.7L1325.1,1031.5L1325.4,1027.5L1325.7,1032.7L1326.0,1028.5L1326.2,1029.7L1326.5,1032.9L1326.8,1033.8L1327.1,1028.9L1327.4,1028.6L1327.6,1033.4L1327.9,1021.9L1328.2,1034.3L1328.5,1034.1L1328.8,1027.1L1329.0,1033.8L1329.3,1031.4L1329.6,1031.8L1329.9,1023.8L1330.2,1029.4L1330.4,1030.5L1330.7,1030.0L1331.0,1030.1L1331.3,1030.4L1331.6,1022.7L1331.8,1030.3L1332.1,1028.4L1332.4,1029.7L1332.7,1027.9L1333.0,1028.7L1333.2,1028.8L1333.5,1032.5L1333.8,1024.2L1334.1,1031.1L1334.4,1025.0L1334.6,1022.8L1334.9,1021.0L1335.2,1027.7L1335.5,1020.7L1335.8,1028.0L1336.0,1026.5L1336.3,1024.0L1336.6,1024.0L1336.9,1027.8L1337.2,1027.2L1337.4,1029.4L1337.7,1027.7L1338.0,1026.7L1338.3,1030.4L1338.6,1025.8L1338.8,1032.3L1339.1,1030.4L1339.4,1027.2L1339.7,1027.7L1340.0,1029.9L1340.2,1025.5L1340.5,1035.0L1340.8,1033.6L1341.1,1027.3L1341.3,1030.0L1341.6,1035.2L1341.9,1031.1L1342.2,1026.8L1342.5,1023.3L1342.7,1024.7L1343.0,1033.1L1343.3,1030.4L1343.6,1025.6L1343.9,1031.5L1344.1,1028.2L1344.4,1027.2L1344.7,1027.4L1345.0,1027.4L1345.3,1033.5L1345.5,1025.5L1345.8,1027.0L1346.1,1032.1L1346.4,1032.6L1346.7,1025.4L1346.9,1034.7L1347.2,1032.2L1347.5,1024.9L1347.8,1035.2L1348.1,1025.8L1348.3,1032.7L1348.6,1027.5L1348.9,1025.7L1349.2,1033.6L1349.5,1032.1L1349.7,1030.3L1350.0,1030.7L1350.3,1029.4L1350.6,1028.5L1350.9,1025.6L1351.1,1030.1L1351.4,1028.1L1351.7,1027.1L1352.0,1025.9L1352.3,1026.7L1352.5,1023.0L1352.8,1026.6L1353.1,1024.6L1353.4,1031.4L1353.7,1024.8L1353.9,1026.4L1354.2,1027.9L1354.5,1030.3L1354.8,1029.3L1355.1,1028.0L1355.3,1034.5L1355.6,1028.0L1355.9,1029.1L1356.2,1036.4L1356.5,1025.7L1356.7,1031.4L1357.0,1030.0L1357.3,1025.0L1357.6,1027.4L1357.9,1032.1L1358.1,1025.5L1358.4,1029.7L1358.7,1033.3L1359.0,1030.1L1359.3,1031.9L1359.5,1029.4L1359.8,1029.8L1360.1,1030.1L1360.4,1031.1L1360.7,1034.2L1360.9,1032.7L1361.2,1038.4L1361.5,1034.1L1361.8,1033.1L1362.1,1038.8L1362.3,1031.5L1362.6,1029.1L1362.9,1031.6L1363.2,1027.6L1363.5,1032.2L1363.7,1034.5L1364.0,1032.1L1364.3,1028.9L1364.6,1029.6L1364.9,1031.5L1365.1,1033.5L1365.4,1028.8L1365.7,1028.8L1366.0,1033.3L1366.3,1030.7L1366.5,1031.0L1366.8,1031.4L1367.1,1027.5L1367.4,1029.3L1367.7,1032.9L1367.9,1029.2L1368.2,1029.1L1368.5,1030.5L1368.8,1030.7L1369.1,1037.1L1369.3,1027.0L1369.6,1029.7L1369.9,1035.2L1370.2,1029.1L1370.5,1029.9L1370.7,1024.2L1371.0,1031.4L1371.3,1031.0L1371.6,1030.8L1371.9,1027.9L1372.1,1029.7L1372.4,1028.7L1372.7,1031.8L1373.0,1029.7L1373.3,1032.6L1373.5,1026.7L1373.8,1030.2L1374.1,1023.0L1374.4,1031.3L1374.7,1034.3L1374.9,1031.3L1375.2,1039.2L1375.5,1029.2L1375.8,1031.2L1376.1,1029.4L1376.3,1030.6L1376.6,1030.6L1376.9,1027.6L1377.2,1029.0L1377.5,1037.9L1377.7,1030.9L1378.0,1034.2L1378.3,1027.4L1378.6,1030.7L1378.9,1032.3L1379.1,1029.9L1379.4,1028.6L1379.7,1029.2L1380.0,1029.5L1380.3,1031.6L1380.5,1032.4L1380.8,1024.6L1381.1,1022.2L1381.4,1027.6L1381.7,1028.1L1381.9,1030.2L1382.2,1031.3L1382.5,1026.2L1382.8,1034.6L1383.1,1029.5L1383.3,1023.7L1383.6,1032.1L1383.9,1030.3L1384.2,1030.5L1384.5,1024.9L1384.7,1028.7L1385.0,1029.9L1385.3,1028.7L1385.6,1030.9L1385.9,1032.2L1386.1,1032.6L1386.4,1031.4L1386.7,1026.9L1387.0,1032.2L1387.3,1027.6L1387.5,1029.3L1387.8,1026.0L1388.1,1022.6L1388.4,1020.3L1388.7,1028.0L1388.9,1025.8L1389.2,1028.3L1389.5,1031.5L1389.8,1024.6L1390.1,1024.3L1390.3,1030.7L1390.6,1031.3L1390.9,1029.5L1391.2,1028.7L1391.5,1025.3L1391.7,1029.6L1392.0,1027.3L1392.3,1030.4L1392.6,1031.5L1392.9,1026.5L1393.1,1029.1L1393.4,1028.1L1393.7,1029.4L1394.0,1031.8L1394.3,1029.2L1394.5,1029.5L1394.8,1030.0L1395.1,1026.6L1395.4,1028.2L1395.7,1029.5L1395.9,1032.5L1396.2,1032.9L1396.5,1036.1L1396.8,1026.1L1397.1,1029.4L1397.3,1024.4L1397.6,1028.0L1397.9,1024.6L1398.2,1033.1L1398.5,1031.8L1398.7,1026.3L1399.0,1030.6L1399.3,1031.9L1399.6,1034.9L1399.9,1032.3L1400.1,1030.2L1400.4,1029.6L1400.7,1031.7L1401.0,1030.7L1401.3,1028.2L1401.5,1025.7L1401.8,1032.2L1402.1,1026.4L1402.4,1027.2L1402.7,1029.9L1402.9,1026.8L1403.2,1029.8L1403.5,1022.6L1403.8,1027.8L1404.1,1021.3L1404.3,1020.6L1404.6,1021.8L1404.9,1025.3L1405.2,1022.9L1405.5,1020.7L1405.7,1028.4L1406.0,1021.8L1406.3,1024.2L1406.6,1025.1L1406.9,1022.7L1407.1,1025.0L1407.4,1025.6L1407.7,1023.4L1408.0,1026.8L1408.3,1021.9L1408.5,1020.6L1408.8,1024.6L1409.1,1021.3L1409.4,1025.6L1409.7,1024.3L1409.9,1023.4L1410.2,1026.7L1410.5,1026.7L1410.8,1016.1L1411.1,1024.1L1411.3,1025.3L1411.6,1026.1L1411.9,1022.7L1412.2,1020.6L1412.5,1024.1L1412.7,1025.4L1413.0,1016.8L1413.3,1018.3L1413.6,1020.8L1413.9,1014.6L1414.1,1020.5L1414.4,1024.7L1414.7,1018.9L1415.0,1022.4L1415.3,1019.1L1415.5,1022.8L1415.8,1023.2L1416.1,1024.7L1416.4,1020.4L1416.7,1022.7L1416.9,1020.0L1417.2,1016.4L1417.5,1021.3L1417.8,1013.9L1418.1,1014.9L1418.3,1020.5L1418.6,1014.2L1418.9,1007.3L1419.2,1009.0L1419.4,1004.6L1419.7,1003.9L1420.0,997.8L1420.3,1001.1L1420.6,993.6L1420.8,997.6L1421.1,995.5L1421.4,994.9L1421.7,997.1L1422.0,982.7L1422.2,981.9L1422.5,980.1L1422.8,979.1L1423.1,981.2L1423.4,974.9L1423.6,971.7L1423.9,967.5L1424.2,966.7L1424.5,965.0L1424.8,963.7L1425.0,957.3L1425.3,959.5L1425.6,959.6L1425.9,957.0L1426.2,950.1L1426.4,955.2L1426.7,953.8L1427.0,951.1L1427.3,945.3L1427.6,944.0L1427.8,948.7L1428.1,945.3L1428.4,944.7L1428.7,952.6L1429.0,953.6L1429.2,953.9L1429.5,957.5L1429.8,957.9L1430.1,953.1L1430.4,962.6L1430.6,961.5L1430.9,964.8L1431.2,970.8L1431.5,969.7L1431.8,975.8L1432.0,973.4L1432.3,974.4L1432.6,975.7L1432.9,979.8L1433.2,977.1L1433.4,984.4L1433.7,986.2L1434.0,986.8L1434.3,983.4L1434.6,985.5L1434.8,996.2L1435.1,992.7L1435.4,1001.7L1435.7,996.8L1436.0,1001.8L1436.2,997.7L1436.5,1001.8L1436.8,1004.6L1437.1,1008.6L1437.4,1013.4L1437.6,1012.6L1437.9,1006.4L1438.2,1012.1L1438.5,1012.7L1438.8,1012.2L1439.0,1016.9L1439.3,1020.6L1439.6,1015.0L1439.9,1020.4L1440.2,1021.7L1440.4,1014.6L1440.7,1023.7L1441.0,1023.9L1441.3,1020.1L1441.6,1025.0L1441.8,1021.2L1442.1,1024.6L1442.4,1023.8L1442.7,1019.9L1443.0,1024.1L1443.2,1023.5L1443.5,1023.1L1443.8,1021.7L1444.1,1023.2L1444.4,1022.2L1444.6,1029.6L1444.9,1020.3L1445.2,1026.4L1445.5,1024.2L1445.8,1022.1L1446.0,1027.9L1446.3,1023.1L1446.6,1029.0L1446.9,1024.6L1447.2,1026.1L1447.4,1024.6L1447.7,1027.0L1448.0,1027.9L1448.3,1023.8L1448.6,1025.2L1448.8,1030.8L1449.1,1023.8L1449.4,1031.2L1449.7,1024.7L1450.0,1024.3L1450.2,1021.0L1450.5,1023.6L1450.8,1020.9L1451.1,1024.5L1451.4,1028.4L1451.6,1026.2L1451.9,1024.5L1452.2,1023.2L1452.5,1024.3L1452.8,1021.9L1453.0,1022.4L1453.3,1032.1L1453.6,1026.8L1453.9,1023.3L1454.2,1028.0L1454.4,1030.5L1454.7,1024.1L1455.0,1025.7L1455.3,1022.3L1455.6,1021.4L1455.8,1030.5L1456.1,1036.8L1456.4,1024.3L1456.7,1021.7L1457.0,1031.0L1457.2,1030.0L1457.5,1028.4L1457.8,1031.6L1458.1,1026.3L1458.4,1028.4L1458.6,1030.2L1458.9,1027.2L1459.2,1029.8L1459.5,1027.9L1459.8,1030.2L1460.0,1029.5L1460.3,1023.1L1460.6,1029.5L1460.9,1024.9L1461.2,1026.7L1461.4,1024.3L1461.7,1031.8L1462.0,1028.3L1462.3,1028.1L1462.6,1032.9L1462.8,1031.2L1463.1,1028.2L1463.4,1022.4L1463.7,1030.5L1464.0,1027.4L1464.2,1026.9L1464.5,1030.0L1464.8,1025.7L1465.1,1027.2L1465.4,1030.1L1465.6,1029.3L1465.9,1025.8L1466.2,1032.2L1466.5,1031.5L1466.8,1034.0L1467.0,1028.3L1467.3,1029.2L1467.6,1031.8L1467.9,1029.9L1468.2,1028.9L1468.4,1028.0L1468.7,1027.2L1469.0,1026.1L1469.3,1026.0L1469.6,1029.1L1469.8,1027.0L1470.1,1023.8L1470.4,1028.4L1470.7,1033.4L1471.0,1032.7L1471.2,1022.7L1471.5,1026.3L1471.8,1031.2L1472.1,1028.9L1472.4,1028.7L1472.6,1027.7L1472.9,1027.9L1473.2,1024.2L1473.5,1030.4L1473.8,1023.2L1474.0,1025.6L1474.3,1030.4L1474.6,1028.9L1474.9,1025.5L1475.2,1025.6L1475.4,1024.0L1475.7,1024.5L1476.0,1025.5L1476.3,1030.5L1476.6,1025.5L1476.8,1028.8L1477.1,1028.7L1477.4,1029.0L1477.7,1027.3L1478.0,1030.8L1478.2,1029.4L1478.5,1029.7L1478.8,1028.4L1479.1,1023.8L1479.4,1032.9L1479.6,1033.3L1479.9,1029.8L1480.2,1030.9L1480.5,1032.4L1480.8,1028.6L1481.0,1033.5L1481.3,1033.3L1481.6,1033.5L1481.9,1033.3L1482.2,1024.4L1482.4,1031.3L1482.7,1028.0L1483.0,1032.3L1483.3,1031.8L1483.6,1030.7L1483.8,1027.7L1484.1,1036.2L1484.4,1027.5L1484.7,1024.5L1485.0,1030.6L1485.2,1023.4L1485.5,1033.7L1485.8,1031.2L1486.1,1032.3L1486.4,1031.6L1486.6,1029.8L1486.9,1024.7L1487.2,1026.8L1487.5,1030.2L1487.8,1027.7L1488.0,1029.2L1488.3,1025.7L1488.6,1025.1L1488.9,1028.1L1489.2,1029.1L1489.4,1026.7L1489.7,1023.6L1490.0,1021.4L1490.3,1032.4L1490.6,1022.8L1490.8,1023.7L1491.1,1024.2L1491.4,1029.2L1491.7,1024.3L1492.0,1028.4L1492.2,1027.7L1492.5,1023.3L1492.8,1027.2L1493.1,1022.9L1493.4,1025.9L1493.6,1028.4L1493.9,1025.2L1494.2,1022.9L1494.5,1024.2L1494.8,1024.6L1495.0,1026.0L1495.3,1017.9L1495.6,1019.1L1495.9,1026.0L1496.2,1024.0L1496.4,1024.1L1496.7,1024.3L1497.0,1022.7L1497.3,1021.2L1497.6,1022.1L1497.8,1022.9L1498.1,1021.0L1498.4,1019.1L1498.7,1014.9L1498.9,1017.8L1499.2,1012.8L1499.5,1013.6L1499.8,1015.5L1500.1,1015.1L1500.3,1017.9L1500.6,1017.2L1500.9,1016.3L1501.2,1014.2L1501.5,1015.6L1501.7,1015.5L1502.0,1022.1L1502.3,1019.0L1502.6,1016.4L1502.9,1016.4L1503.1,1023.3L1503.4,1017.5L1503.7,1021.6L1504.0,1021.4L1504.3,1024.2L1504.5,1018.4L1504.8,1022.4L1505.1,1021.5L1505.4,1023.1L1505.7,1024.5L1505.9,1020.5L1506.2,1019.1L1506.5,1022.1L1506.8,1014.7L1507.1,1019.1L1507.3,1015.0L1507.6,1013.6L1507.9,1011.9L1508.2,1010.9L1508.5,1017.8L1508.7,1017.2L1509.0,1014.3L1509.3,1016.5L1509.6,1012.9L1509.9,1010.8L1510.1,1008.6L1510.4,1013.7L1510.7,1013.3L1511.0,1014.0L1511.3,1007.1L1511.5,1007.9L1511.8,1003.8L1512.1,1010.5L1512.4,1008.2L1512.7,1006.6L1512.9,1004.0L1513.2,1002.5L1513.5,1000.9L1513.8,1004.3L1514.1,998.0L1514.3,1001.7L1514.6,998.8L1514.9,993.7L1515.2,991.1L1515.5,991.7L1515.7,992.4L1516.0,986.7L1516.3,990.6L1516.6,989.9L1516.9,985.4L1517.1,975.4L1517.4,970.1L1517.7,976.7L1518.0,974.8L1518.3,964.7L1518.5,963.2L1518.8,956.1L1519.1,950.0L1519.4,950.0L1519.7,939.6L1519.9,938.4L1520.2,935.1L1520.5,922.7L1520.8,922.5L1521.1,904.8L1521.3,904.8L1521.6,893.9L1521.9,894.4L1522.2,877.3L1522.5,865.7L1522.7,865.1L1523.0,844.9L1523.3,842.4L1523.6,828.7L1523.9,826.9L1524.1,812.4L1524.4,806.9L1524.7,795.0L1525.0,783.1L1525.3,771.7L1525.5,779.5L1525.8,767.9L1526.1,757.7L1526.4,756.8L1526.7,758.5L1526.9,747.0L1527.2,759.8L1527.5,749.9L1527.8,749.8L1528.1,757.1L1528.3,755.0L1528.6,752.9L1528.9,763.2L1529.2,765.2L1529.5,772.0L1529.7,769.3L1530.0,774.1L1530.3,786.6L1530.6,789.3L1530.9,790.3L1531.1,803.6L1531.4,816.1L1531.7,819.6L1532.0,835.4L1532.3,837.8L1532.5,847.9L1532.8,851.2L1533.1,862.5L1533.4,872.8L1533.7,883.1L1533.9,889.2L1534.2,899.1L1534.5,894.8L1534.8,908.5L1535.1,913.9L1535.3,916.6L1535.6,925.5L1535.9,928.6L1536.2,937.7L1536.5,940.2L1536.7,947.9L1537.0,948.1L1537.3,959.7L1537.6,961.3L1537.9,969.9L1538.1,967.7L1538.4,970.2L1538.7,975.7L1539.0,976.9L1539.3,978.1L1539.5,984.1L1539.8,986.3L1540.1,986.7L1540.4,989.6L1540.7,989.5L1540.9,994.6L1541.2,991.4L1541.5,1002.2L1541.8,998.1L1542.1,1002.0L1542.3,996.4L1542.6,1002.1L1542.9,1001.6L1543.2,1006.0L1543.5,1006.7L1543.7,1000.0L1544.0,1009.6L1544.3,1002.5L1544.6,1012.4L1544.9,1009.2L1545.1,1006.7L1545.4,1013.6L1545.7,1012.5L1546.0,1010.2L1546.3,1011.8L1546.5,1016.3L1546.8,1011.2L1547.1,1013.3L1547.4,1022.1L1547.7,1014.4L1547.9,1018.2L1548.2,1018.7L1548.5,1020.4L1548.8,1020.3L1549.1,1009.9L1549.3,1016.2L1549.6,1021.4L1549.9,1015.4L1550.2,1023.6L1550.5,1018.9L1550.7,1014.6L1551.0,1020.3L1551.3,1024.7L1551.6,1016.9L1551.9,1021.0L1552.1,1016.8L1552.4,1017.9L1552.7,1020.2L1553.0,1021.5L1553.3,1021.1L1553.5,1020.6L1553.8,1027.2L1554.1,1016.4L1554.4,1013.8L1554.7,1021.1L1554.9,1019.8L1555.2,1014.7L1555.5,1024.3L1555.8,1016.9L1556.1,1014.8L1556.3,1020.7L1556.6,1021.6L1556.9,1027.3L1557.2,1015.8L1557.5,1017.1L1557.7,1020.8L1558.0,1020.8L1558.3,1022.5L1558.6,1021.1L1558.9,1019.0L1559.1,1022.9L1559.4,1026.7L1559.7,1027.3L1560.0,1023.0L1560.3,1026.8L1560.5,1026.4L1560.8,1023.6L1561.1,1024.0L1561.4,1025.1L1561.7,1033.5L1561.9,1025.5L1562.2,1022.3L1562.5,1024.7L1562.8,1023.7L1563.1,1029.2L1563.3,1019.4L1563.6,1023.1L1563.9,1029.4L1564.2,1028.5L1564.5,1027.7L1564.7,1030.2L1565.0,1024.1L1565.3,1029.5L1565.6,1025.0L1565.9,1024.5L1566.1,1029.9L1566.4,1025.7L1566.7,1026.9L1567.0,1029.7L1567.3,1024.4L1567.5,1029.3L1567.8,1034.2L1568.1,1026.7L1568.4,1030.2L1568.7,1029.7L1568.9,1023.4L1569.2,1023.1L1569.5,1027.2L1569.8,1020.5L1570.1,1026.9L1570.3,1027.2L1570.6,1027.4L1570.9,1026.8L1571.2,1028.9L1571.5,1023.2L1571.7,1027.8L1572.0,1024.8L1572.3,1024.5L1572.6,1022.2L1572.9,1025.5L1573.1,1020.4L1573.4,1025.1L1573.7,1026.5L1574.0,1021.4L1574.3,1020.9L1574.5,1021.9L1574.8,1024.5L1575.1,1026.1L1575.4,1028.1L1575.7,1031.6L1575.9,1031.2L1576.2,1027.5L1576.5,1025.9L1576.8,1023.9L1577.0,1030.6L1577.3,1030.1L1577.6,1028.1L1577.9,1028.9L1578.2,1029.4L1578.4,1022.2L1578.7,1030.3L1579.0,1031.7L1579.3,1030.6L1579.6,1027.9L1579.8,1031.5L1580.1,1032.9L1580.4,1037.0L1580.7,1034.7L1581.0,1033.2L1581.2,1031.0L1581.5,1026.9L1581.8,1029.4L1582.1,1026.4L1582.4,1030.1L1582.6,1033.5L1582.9,1033.3L1583.2,1032.7L1583.5,1029.9L1583.8,1032.7L1584.0,1028.7L1584.3,1023.4L1584.6,1029.7L1584.9,1029.2L1585.2,1023.5L1585.4,1027.1L1585.7,1021.0L1586.0,1026.8L1586.3,1031.8L1586.6,1026.0L1586.8,1031.8L1587.1,1028.4L1587.4,1025.3L1587.7,1022.0L1588.0,1029.6L1588.2,1029.2L1588.5,1022.6L1588.8,1025.8L1589.1,1030.4L1589.4,1024.7L1589.6,1028.2L1589.9,1021.1L1590.2,1024.3L1590.5,1029.5L1590.8,1023.7L1591.0,1023.0L1591.3,1023.3L1591.6,1026.5L1591.9,1023.0L1592.2,1027.6L1592.4,1029.8L1592.7,1032.9L1593.0,1027.1L1593.3,1033.3L1593.6,1030.2L1593.8,1027.9L1594.1,1030.2L1594.4,1033.3L1594.7,1033.2L1595.0,1030.9L1595.2,1028.2L1595.5,1030.9L1595.8,1028.8L1596.1,1028.5L1596.4,1028.5L1596.6,1033.1L1596.9,1023.7L1597.2,1026.9L1597.5,1023.7L1597.8,1029.6L1598.0,1030.4L1598.3,1031.1L1598.6,1025.9L1598.9,1027.2L1599.2,1029.4L1599.4,1027.7L1599.7,1028.0L1600.0,1027.8L1600.3,1028.0L1600.6,1026.8L1600.8,1028.6L1601.1,1022.7L1601.4,1026.0L1601.7,1023.2L1602.0,1027.1L1602.2,1025.2L1602.5,1029.2L1602.8,1031.6L1603.1,1024.1L1603.4,1025.8L1603.6,1029.4L1603.9,1033.1L1604.2,1031.4L1604.5,1030.6L1604.8,1029.4L1605.0,1028.4L1605.3,1031.2L1605.6,1031.7L1605.9,1030.8L1606.2,1028.6L1606.4,1025.5L1606.7,1027.8L1607.0,1029.2L1607.3,1026.7L1607.6,1031.1L1607.8,1025.6L1608.1,1028.8L1608.4,1030.5L1608.7,1031.6L1609.0,1029.5L1609.2,1032.0L1609.5,1026.0L1609.8,1024.9L1610.1,1030.0L1610.4,1023.5L1610.6,1025.2L1610.9,1020.0L1611.2,1028.4L1611.5,1026.9L1611.8,1022.4L1612.0,1019.4L1612.3,1025.7L1612.6,1026.1L1612.9,1029.3L1613.2,1032.0L1613.4,1027.7L1613.7,1027.1L1614.0,1027.8L1614.3,1028.4L1614.6,1025.9L1614.8,1028.0L1615.1,1031.1L1615.4,1027.0L1615.7,1028.4L1616.0,1036.6L1616.2,1031.1L1616.5,1035.8L1616.8,1036.8L1617.1,1033.5L1617.4,1035.9L1617.6,1032.7L1617.9,1030.3L1618.2,1032.4L1618.5,1032.7L1618.8,1032.5L1619.0,1032.1L1619.3,1030.3L1619.6,1034.4L1619.9,1030.2L1620.2,1029.2L1620.4,1033.0L1620.7,1026.8L1621.0,1029.5L1621.3,1033.7L1621.6,1029.2L1621.8,1033.0L1622.1,1027.7L1622.4,1026.7L1622.7,1027.5L1623.0,1026.2L1623.2,1026.7L1623.5,1026.4L1623.8,1030.2L1624.1,1029.0L1624.4,1027.2L1624.6,1025.7L1624.9,1037.9L1625.2,1027.7L1625.5,1032.7L1625.8,1025.0L1626.0,1026.4L1626.3,1032.4L1626.6,1025.3L1626.9,1025.3L1627.2,1028.2L1627.4,1025.9L1627.7,1027.0L1628.0,1028.2L1628.3,1030.1L1628.6,1027.8L1628.8,1027.9L1629.1,1030.9L1629.4,1031.0L1629.7,1025.5L1630.0,1020.9L1630.2,1023.5L1630.5,1029.8L1630.8,1025.2L1631.1,1024.6L1631.4,1025.5L1631.6,1031.8L1631.9,1027.3L1632.2,1026.0L1632.5,1025.1L1632.8,1023.9L1633.0,1035.8L1633.3,1027.0L1633.6,1027.5L1633.9,1026.1L1634.2,1030.2L1634.4,1023.9L1634.7,1021.2L1635.0,1025.4L1635.3,1028.4L1635.6,1034.5L1635.8,1027.6L1636.1,1025.4L1636.4,1027.6L1636.7,1026.0L1637.0,1026.0L1637.2,1028.6L1637.5,1029.0L1637.8,1025.9L1638.1,1031.0L1638.4,1027.0L1638.6,1027.3L1638.9,1025.1L1639.2,1027.5L1639.5,1027.4L1639.8,1028.1L1640.0,1023.5L1640.3,1027.9L1640.6,1024.3L1640.9,1026.3L1641.2,1028.3L1641.4,1030.6L1641.7,1024.6L1642.0,1022.4L1642.3,1026.0L1642.6,1029.1L1642.8,1024.2L1643.1,1032.4L1643.4,1019.2L1643.7,1029.5L1644.0,1028.5L1644.2,1028.6L1644.5,1022.9L1644.8,1029.9L1645.1,1029.7L1645.4,1030.2L1645.6,1026.0L1645.9,1026.1L1646.2,1030.8L1646.5,1027.9L1646.8,1025.5L1647.0,1023.7L1647.3,1026.7L1647.6,1021.3L1647.9,1026.7L1648.2,1024.9L1648.4,1019.1L1648.7,1024.7L1649.0,1026.6L1649.3,1023.3L1649.6,1018.2L1649.8,1020.3L1650.1,1024.6L1650.4,1018.2L1650.7,1021.2L1651.0,1026.2L1651.2,1022.2L1651.5,1021.6L1651.8,1026.1L1652.1,1028.7L1652.4,1025.1L1652.6,1019.7L1652.9,1018.5L1653.2,1022.3L1653.5,1017.0L1653.8,1021.7L1654.0,1024.2L1654.3,1012.7L1654.6,1019.8L1654.9,1020.9L1655.2,1017.8L1655.4,1020.4L1655.7,1020.4L1656.0,1021.8L1656.3,1026.6L1656.5,1019.1L1656.8,1015.1L1657.1,1014.5L1657.4,1013.6L1657.7,1019.3L1657.9,1017.9L1658.2,1017.9L1658.5,1016.8L1658.8,1020.7L1659.1,1018.9L1659.3,1018.3L1659.6,1012.7L1659.9,1013.5L1660.2,1010.3L1660.5,1012.1L1660.7,1014.2L1661.0,1010.1L1661.3,1011.9L1661.6,1020.2L1661.9,1013.6L1662.1,1009.8L1662.4,1010.9L1662.7,1014.9L1663.0,1018.3L1663.3,1015.8L1663.5,1019.2L1663.8,1017.8L1664.1,1013.6L1664.4,1020.3L1664.7,1015.6L1664.9,1022.6L1665.2,1014.6L1665.5,1015.4L1665.8,1013.5L1666.1,1013.6L1666.3,1015.0L1666.6,1012.2L1666.9,1015.5L1667.2,1012.2L1667.5,1014.8L1667.7,1009.1L1668.0,1011.9L1668.3,1010.6L1668.6,1005.4L1668.9,1012.8L1669.1,1008.6L1669.4,1004.5L1669.7,1001.1L1670.0,1000.3L1670.3,998.9L1670.5,999.0L1670.8,993.2L1671.1,995.4L1671.4,991.7L1671.7,997.1L1671.9,992.3L1672.2,993.0L1672.5,993.0L1672.8,984.5L1673.1,986.8L1673.3,978.7L1673.6,976.5L1673.9,968.2L1674.2,968.0L1674.5,968.6L1674.7,961.5L1675.0,954.2L1675.3,950.6L1675.6,942.8L1675.9,937.3L1676.1,928.5L1676.4,930.2L1676.7,923.0L1677.0,911.2L1677.3,898.8L1677.5,893.9L1677.8,892.4L1678.1,871.0L1678.4,863.5L1678.7,852.7L1678.9,845.8L1679.2,826.4L1679.5,819.5L1679.8,802.6L1680.1,791.1L1680.3,774.3L1680.6,767.0L1680.9,749.3L1681.2,734.9L1681.5,727.5L1681.7,710.9L1682.0,705.4L1682.3,684.8L1682.6,671.1L1682.9,659.5L1683.1,659.2L1683.4,643.2L1683.7,628.2L1684.0,623.0L1684.3,613.2L1684.5,613.1L1684.8,604.6L1685.1,602.0L1685.4,605.1L1685.7,609.1L1685.9,608.4L1686.2,610.4L1686.5,611.0L1686.8,605.3L1687.1,619.8L1687.3,625.7L1687.6,635.6L1687.9,648.2L1688.2,652.6L1688.5,651.6L1688.7,668.4L1689.0,677.6L1689.3,692.2L1689.6,700.3L1689.9,704.7L1690.1,720.4L1690.4,734.7L1690.7,740.2L1691.0,759.6L1691.3,771.1L1691.5,788.2L1691.8,795.7L1692.1,805.7L1692.4,819.1L1692.7,831.0L1692.9,845.6L1693.2,849.6L1693.5,855.5L1693.8,883.2L1694.1,885.9L1694.3,892.7L1694.6,909.6L1694.9,905.7L1695.2,914.7L1695.5,923.2L1695.7,933.2L1696.0,936.4L1696.3,946.5L1696.6,948.3L1696.9,958.8L1697.1,960.9L1697.4,958.3L1697.7,967.7L1698.0,967.9L1698.3,974.5L1698.5,978.1L1698.8,988.2L1699.1,982.8L1699.4,980.8L1699.7,988.6L1699.9,986.6L1700.2,998.1L1700.5,996.5L1700.8,1001.0L1701.1,996.5L1701.3,996.1L1701.6,1001.8L1701.9,998.0L1702.2,1000.6L1702.5,1002.4L1702.7,1005.3L1703.0,1001.9L1703.3,1000.9L1703.6,1012.6L1703.9,1007.0L1704.1,1008.6L1704.4,1011.5L1704.7,1011.5L1705.0,1008.5L1705.3,1009.6L1705.5,1016.5L1705.8,1015.9L1706.1,1014.8L1706.4,1018.2L1706.7,1007.6L1706.9,1014.5L1707.2,1013.8L1707.5,1009.3L1707.8,1017.0L1708.1,1018.6L1708.3,1018.1L1708.6,1012.3L1708.9,1017.9L1709.2,1019.9L1709.5,1019.0L1709.7,1021.1L1710.0,1022.2L1710.3,1025.4L1710.6,1022.0L1710.9,1029.7L1711.1,1022.3L1711.4,1022.7L1711.7,1024.5L1712.0,1022.0L1712.3,1021.4L1712.5,1026.4L1712.8,1016.1L1713.1,1017.4L1713.4,1029.4L1713.7,1025.3L1713.9,1024.8L1714.2,1024.0L1714.5,1023.9L1714.8,1020.0L1715.1,1021.9L1715.3,1019.5L1715.6,1026.2L1715.9,1024.5L1716.2,1023.3L1716.5,1023.8L1716.7,1022.3L1717.0,1019.3L1717.3,1028.4L1717.6,1025.5L1717.9,1023.2L1718.1,1025.9L1718.4,1028.4L1718.7,1028.4L1719.0,1027.1L1719.3,1027.8L1719.5,1024.7L1719.8,1029.7L1720.1,1028.5L1720.4,1028.4L1720.7,1021.4L1720.9,1027.3L1721.2,1027.1L1721.5,1027.3L1721.8,1016.6L1722.1,1018.6L1722.3,1025.1L1722.6,1021.2L1722.9,1025.2L1723.2,1023.7L1723.5,1026.7L1723.7,1022.5L1724.0,1021.1L1724.3,1026.2L1724.6,1024.0L1724.9,1021.4L1725.1,1019.1L1725.4,1035.3L1725.7,1024.5L1726.0,1025.0L1726.3,1019.8L1726.5,1022.8L1726.8,1025.5L1727.1,1027.0L1727.4,1028.3L1727.7,1023.5L1727.9,1027.3L1728.2,1029.3L1728.5,1024.1L1728.8,1025.4L1729.1,1020.1L1729.3,1023.2L1729.6,1021.6L1729.9,1028.1L1730.2,1025.7L1730.5,1031.5L1730.7,1027.5L1731.0,1029.7L1731.3,1029.2L1731.6,1028.7L1731.9,1025.1L1732.1,1033.9L1732.4,1028.8L1732.7,1023.5L1733.0,1027.6L1733.3,1026.1L1733.5,1033.2L1733.8,1032.8L1734.1,1034.2L1734.4,1036.2L1734.6,1027.2L1734.9,1023.2L1735.2,1026.1L1735.5,1030.2L1735.8,1020.4L1736.0,1026.8L1736.3,1031.2L1736.6,1025.7L1736.9,1027.8L1737.2,1025.1L1737.4,1033.1L1737.7,1033.4L1738.0,1023.7L1738.3,1023.9L1738.6,1026.6L1738.8,1028.1L1739.1,1027.1L1739.4,1027.8L1739.7,1028.9L1740.0,1029.8L1740.2,1032.2L1740.5,1027.3L1740.8,1025.7L1741.1,1027.4L1741.4,1035.2L1741.6,1031.2L1741.9,1031.2L1742.2,1033.5L1742.5,1033.3L1742.8,1037.0L1743.0,1027.1L1743.3,1030.2L1743.6,1031.8L1743.9,1031.9L1744.2,1027.9L1744.4,1023.8L1744.7,1027.8L1745.0,1026.2L1745.3,1027.7L1745.6,1031.2L1745.8,1029.6L1746.1,1023.5L1746.4,1024.4L1746.7,1027.1L1747.0,1029.9L1747.2,1026.0L1747.5,1026.8L1747.8,1021.3L1748.1,1024.5L1748.4,1023.6L1748.6,1026.7L1748.9,1025.2L1749.2,1023.3L1749.5,1022.5L1749.8,1026.4L1750.0,1023.5L1750.3,1028.9L1750.6,1025.6L1750.9,1024.0L1751.2,1027.5L1751.4,1020.7L1751.7,1027.3L1752.0,1022.3L1752.3,1027.0L1752.6,1022.8L1752.8,1022.3L1753.1,1019.9L1753.4,1026.3L1753.7,1028.0L1754.0,1022.5L1754.2,1032.8L1754.5,1027.3L1754.8,1024.0L1755.1,1033.7L1755.4,1026.2L1755.6,1031.9L1755.9,1018.3L1756.2,1033.7L1756.5,1027.4L1756.8,1026.7L1757.0,1027.7L1757.3,1023.2L1757.6,1029.9L1757.9,1028.7L1758.2,1028.7L1758.4,1026.3L1758.7,1024.9L1759.0,1030.1L1759.3,1032.0L1759.6,1030.2L1759.8,1029.3L1760.1,1028.5L1760.4,1032.4L1760.7,1034.6L1761.0,1029.4L1761.2,1027.0L1761.5,1037.2L1761.8,1024.3L1762.1,1029.8L1762.4,1028.5L1762.6,1032.8L1762.9,1028.1L1763.2,1023.2L1763.5,1024.8L1763.8,1028.5L1764.0,1027.9L1764.3,1025.7L1764.6,1025.8L1764.9,1022.3L1765.2,1022.2L1765.4,1024.5L1765.7,1024.0L1766.0,1025.4L1766.3,1021.9L1766.6,1030.2L1766.8,1019.6L1767.1,1027.6L1767.4,1026.4L1767.7,1029.4L1768.0,1028.5L1768.2,1019.8L1768.5,1024.8L1768.8,1025.9L1769.1,1026.2L1769.4,1024.7L1769.6,1021.2L1769.9,1026.9L1770.2,1022.5L1770.5,1021.3L1770.8,1023.5L1771.0,1021.6L1771.3,1020.9L1771.6,1023.5L1771.9,1031.4L1772.2,1024.3L1772.4,1023.5L1772.7,1021.9L1773.0,1024.3L1773.3,1019.4L1773.6,1024.5L1773.8,1023.6L1774.1,1022.8L1774.4,1023.9L1774.7,1021.6L1775.0,1024.2L1775.2,1023.8L1775.5,1023.9L1775.8,1022.2L1776.1,1025.0L1776.4,1021.8L1776.6,1026.5L1776.9,1022.2L1777.2,1026.6L1777.5,1023.3L1777.8,1022.3L1778.0,1019.1L1778.3,1023.9L1778.6,1022.8L1778.9,1021.6L1779.2,1022.5L1779.4,1021.5L1779.7,1018.2L1780.0,1017.5L1780.3,1023.3L1780.6,1022.3L1780.8,1026.8L1781.1,1028.8L1781.4,1025.6L1781.7,1025.5L1782.0,1025.7L1782.2,1024.7L1782.5,1022.8L1782.8,1017.0L1783.1,1027.8L1783.4,1027.6L1783.6,1026.1L1783.9,1026.6L1784.2,1029.5L1784.5,1029.6L1784.8,1027.6L1785.0,1026.5L1785.3,1029.5L1785.6,1030.5L1785.9,1035.2L1786.2,1025.9L1786.4,1030.6L1786.7,1026.6L1787.0,1028.1L1787.3,1037.0L1787.6,1028.5L1787.8,1029.4L1788.1,1028.0L1788.4,1032.4L1788.7,1028.3L1789.0,1024.3L1789.2,1029.8L1789.5,1031.9L1789.8,1029.2L1790.1,1029.7L1790.4,1027.1L1790.6,1026.4L1790.9,1029.4L1791.2,1025.9L1791.5,1028.2L1791.8,1026.6L1792.0,1029.1L1792.3,1032.4L1792.6,1030.0L1792.9,1033.8L1793.2,1031.5L1793.4,1030.1L1793.7,1027.8L1794.0,1031.0L1794.3,1027.2L1794.6,1033.1L1794.8,1026.6L1795.1,1026.4L1795.4,1028.0L1795.7,1025.3L1796.0,1030.7L1796.2,1027.8L1796.5,1028.6L1796.8,1031.8L1797.1,1022.8L1797.4,1028.8L1797.6,1030.7L1797.9,1032.7L1798.2,1030.0L1798.5,1027.7L1798.8,1032.8L1799.0,1033.0L1799.3,1037.3L1799.6,1037.4L1799.9,1030.5L1800.2,1035.7L1800.4,1032.5L1800.7,1029.1L1801.0,1034.9L1801.3,1037.2L1801.6,1026.3L1801.8,1038.1L1802.1,1031.7L1802.4,1039.6L1802.7,1035.7L1803.0,1035.6L1803.2,1039.7L1803.5,1034.4L1803.8,1042.0L1804.1,1032.6L1804.4,1033.7L1804.6,1032.1L1804.9,1037.0L1805.2,1034.9L1805.5,1037.4L1805.8,1038.1L1806.0,1036.9L1806.3,1037.5L1806.6,1037.2L1806.9,1033.3L1807.2,1030.9L1807.4,1029.8L1807.7,1034.8L1808.0,1030.4L1808.3,1028.7L1808.6,1028.7L1808.8,1030.3L1809.1,1031.3L1809.4,1029.5L1809.7,1026.8L1810.0,1031.4L1810.2,1022.6L1810.5,1028.5L1810.8,1032.7L1811.1,1030.3L1811.4,1033.3L1811.6,1030.1L1811.9,1031.8L1812.2,1030.3L1812.5,1029.0L1812.8,1031.5L1813.0,1033.4L1813.3,1024.2L1813.6,1027.6L1813.9,1023.3L1814.1,1026.6L1814.4,1025.2L1814.7,1027.5L1815.0,1027.8L1815.3,1031.6L1815.5,1032.4L1815.8,1026.1L1816.1,1027.2L1816.4,1030.8L1816.7,1027.1L1816.9,1028.1L1817.2,1023.8L1817.5,1031.9L1817.8,1030.4L1818.1,1026.6L1818.3,1025.4L1818.6,1026.1L1818.9,1030.6L1819.2,1027.6L1819.5,1025.2L1819.7,1028.0L1820.0,1031.7L1820.3,1033.1L1820.6,1033.7L1820.9,1030.3L1821.1,1031.0L1821.4,1031.5L1821.7,1033.1L1822.0,1033.1L1822.3,1028.5L1822.5,1029.3L1822.8,1030.4L1823.1,1033.7L1823.4,1029.8L1823.7,1028.8L1823.9,1034.0L1824.2,1035.1L1824.5,1027.6L1824.8,1029.7L1825.1,1033.5L1825.3,1028.6L1825.6,1032.6L1825.9,1025.3L1826.2,1029.0L1826.5,1031.7L1826.7,1034.5L1827.0,1032.8L1827.3,1024.9L1827.6,1025.3L1827.9,1027.4L1828.1,1032.8L1828.4,1032.6L1828.7,1033.7L1829.0,1032.6L1829.3,1028.7L1829.5,1029.3L1829.8,1027.6L1830.1,1032.9L1830.4,1026.3L1830.7,1030.3L1830.9,1030.7L1831.2,1033.7L1831.5,1027.4L1831.8,1030.9L1832.1,1026.5L1832.3,1032.7L1832.6,1028.3L1832.9,1028.3L1833.2,1026.2L1833.5,1027.1L1833.7,1026.8L1834.0,1026.7L1834.3,1032.0L1834.6,1025.1L1834.9,1028.7L1835.1,1030.3L1835.4,1024.0L1835.7,1020.7L1836.0,1028.6L1836.3,1021.9L1836.5,1024.5L1836.8,1026.6L1837.1,1027.8L1837.4,1026.2L1837.7,1025.0L1837.9,1030.4L1838.2,1028.3L1838.5,1033.8L1838.8,1025.3L1839.1,1028.1L1839.3,1028.4L1839.6,1030.3L1839.9,1029.5L1840.2,1028.9L1840.5,1034.9L1840.7,1028.4L1841.0,1030.3L1841.3,1029.7L1841.6,1027.4L1841.9,1031.7L1842.1,1024.0L1842.4,1033.7L1842.7,1025.8L1843.0,1030.1L1843.3,1031.9L1843.5,1030.5L1843.8,1030.8L1844.1,1036.4L1844.4,1040.2L1844.7,1036.1L1844.9,1033.2L1845.2,1030.5L1845.5,1029.6L1845.8,1035.1L1846.1,1033.5L1846.3,1034.1L1846.6,1032.4L1846.9,1032.6L1847.2,1026.1L1847.5,1025.0L1847.7,1023.8L1848.0,1026.6L1848.3,1026.0L1848.6,1027.0L1848.9,1023.2L1849.1,1027.8L1849.4,1030.3L1849.7,1028.7L1850.0,1021.0L1850.3,1030.0L1850.5,1029.8L1850.8,1034.5L1851.1,1032.0L1851.4,1035.1L1851.7,1032.6L1851.9,1035.2L1852.2,1037.5L1852.5,1033.8L1852.8,1035.5L1853.1,1034.8L1853.3,1035.7L1853.6,1032.9L1853.9,1034.1L1854.2,1026.4L1854.5,1030.5L1854.7,1033.1L1855.0,1031.9L1855.3,1026.4L1855.6,1026.4L1855.9,1029.7L1856.1,1029.2L1856.4,1029.3L1856.7,1027.8L1857.0,1027.7L1857.3,1030.4L1857.5,1024.3L1857.8,1022.8L1858.1,1030.1L1858.4,1024.7L1858.7,1029.3L1858.9,1025.3L1859.2,1024.3L1859.5,1032.7L1859.8,1028.1L1860.1,1024.4L1860.3,1028.3L1860.6,1028.7L1860.9,1028.8L1861.2,1030.1L1861.5,1026.1L1861.7,1028.7L1862.0,1030.8L1862.3,1031.1L1862.6,1029.2L1862.9,1026.3L1863.1,1022.6L1863.4,1032.9L1863.7,1025.1L1864.0,1027.2L1864.3,1028.8L1864.5,1030.3L1864.8,1029.1L1865.1,1027.0L1865.4,1029.6L1865.7,1036.2L1865.9,1037.8L1866.2,1029.7L1866.5,1032.4L1866.8,1025.3L1867.1,1031.3L1867.3,1032.8L1867.6,1029.7L1867.9,1036.0L1868.2,1033.0L1868.5,1032.0L1868.7,1021.9L1869.0,1027.6L1869.3,1031.3L1869.6,1027.2L1869.9,1023.0L1870.1,1026.2L1870.4,1032.3L1870.7,1029.5L1871.0,1029.9L1871.3,1027.9L1871.5,1032.2L1871.8,1018.9L1872.1,1024.0L1872.4,1033.6L1872.7,1031.0L1872.9,1028.6L1873.2,1026.8L1873.5,1022.1L1873.8,1026.1L1874.1,1026.6L1874.3,1023.8L1874.6,1030.4L1874.9,1028.9L1875.2,1024.5L1875.5,1027.8L1875.7,1024.7L1876.0,1025.5L1876.3,1023.2L1876.6,1032.1L1876.9,1020.0L1877.1,1024.2L1877.4,1027.8L1877.7,1027.7L1878.0,1019.7L1878.3,1021.7L1878.5,1024.2L1878.8,1022.1L1879.1,1022.4L1879.4,1023.7L1879.7,1024.1L1879.9,1028.0L1880.2,1019.6L1880.5,1028.1L1880.8,1024.4L1881.1,1027.0L1881.3,1024.3L1881.6,1032.6L1881.9,1020.0L1882.2,1029.0L1882.5,1023.9L1882.7,1024.4L1883.0,1029.2L1883.3,1024.0L1883.6,1027.1L1883.9,1028.5L1884.1,1022.1L1884.4,1030.0L1884.7,1027.6L1885.0,1023.1L1885.3,1024.5L1885.5,1021.7L1885.8,1024.7L1886.1,1026.4L1886.4,1026.7L1886.7,1024.2L1886.9,1021.6L1887.2,1020.9L1887.5,1019.6L1887.8,1021.2L1888.1,1023.6L1888.3,1019.6L1888.6,1019.0L1888.9,1017.7L1889.2,1022.6L1889.5,1020.1L1889.7,1016.0L1890.0,1024.4L1890.3,1024.4L1890.6,1021.3L1890.9,1020.4L1891.1,1021.5L1891.4,1019.0L1891.7,1025.0L1892.0,1026.3L1892.3,1025.4L1892.5,1023.2L1892.8,1023.4L1893.1,1024.4L1893.4,1028.1L1893.6,1020.5L1893.9,1022.9L1894.2,1020.8L1894.5,1019.1L1894.8,1023.5L1895.0,1025.7L1895.3,1018.6L1895.6,1024.5L1895.9,1023.1L1896.2,1022.0L1896.4,1024.3L1896.7,1017.8L1897.0,1024.3L1897.3,1018.1L1897.6,1020.6L1897.8,1014.2L1898.1,1021.9L1898.4,1019.1L1898.7,1017.5L1899.0,1016.3L1899.2,1020.2L1899.5,1023.8L1899.8,1021.6L1900.1,1019.1L1900.4,1017.9L1900.6,1017.2L1900.9,1019.5L1901.2,1015.8L1901.5,1019.9L1901.8,1024.7L1902.0,1021.7L1902.3,1021.9L1902.6,1021.2L1902.9,1025.8L1903.2,1026.3L1903.4,1029.3L1903.7,1023.4L1904.0,1022.5L1904.3,1024.4L1904.6,1022.7L1904.8,1026.3L1905.1,1025.0L1905.4,1023.4L1905.7,1025.6L1906.0,1028.3L1906.2,1027.0L1906.5,1022.4L1906.8,1023.9L1907.1,1024.3L1907.4,1024.9L1907.6,1021.4L1907.9,1018.2L1908.2,1022.9L1908.5,1018.6L1908.8,1020.1L1909.0,1020.1L1909.3,1023.4L1909.6,1018.8L1909.9,1020.3L1910.2,1018.8L1910.4,1017.4L1910.7,1021.4L1911.0,1017.1L1911.3,1019.8L1911.6,1019.1L1911.8,1012.7L1912.1,1013.4L1912.4,1009.0L1912.7,1019.6L1913.0,1019.6L1913.2,1017.3L1913.5,1017.2L1913.8,1017.7L1914.1,1016.4L1914.4,1017.7L1914.6,1017.2L1914.9,1013.9L1915.2,1020.2L1915.5,1018.2L1915.8,1013.1L1916.0,1020.2L1916.3,1020.3L1916.6,1015.8L1916.9,1014.8L1917.2,1008.5L1917.4,1008.3L1917.7,1003.2L1918.0,1005.5L1918.3,1008.4L1918.6,1002.7L1918.8,997.3L1919.1,1006.0L1919.4,1005.9L1919.7,1003.4L1920.0,993.2L1920.2,1000.1L1920.5,994.9L1920.8,997.3L1921.1,1000.5L1921.4,1003.8L1921.6,998.0L1921.9,999.8L1922.2,997.9L1922.5,1002.7L1922.8,1000.4L1923.0,1002.5L1923.3,1006.9L1923.6,1004.9L1923.9,1005.6L1924.2,1006.3L1924.4,1008.0L1924.7,1009.8L1925.0,1001.9L1925.3,1000.5L1925.6,1007.0L1925.8,1007.6L1926.1,1009.9L1926.4,1008.2L1926.7,1011.4L1927.0,1008.1L1927.2,1005.1L1927.5,1010.8L1927.8,1005.6L1928.1,1007.0L1928.4,1011.2L1928.6,1010.0L1928.9,1014.5L1929.2,1011.4L1929.5,1019.0L1929.8,1011.0L1930.0,1017.1L1930.3,1014.2L1930.6,1020.6L1930.9,1015.0L1931.2,1019.6L1931.4,1008.0L1931.7,1015.8L1932.0,1023.4L1932.3,1019.1L1932.6,1018.9L1932.8,1021.4L1933.1,1026.2L1933.4,1015.5L1933.7,1018.8L1934.0,1017.8L1934.2,1021.5L1934.5,1017.5L1934.8,1015.2L1935.1,1015.6L1935.4,1022.7L1935.6,1021.7L1935.9,1024.2L1936.2,1017.1L1936.5,1019.6L1936.8,1021.1L1937.0,1025.8L1937.3,1024.8L1937.6,1023.1L1937.9,1020.7L1938.2,1024.4L1938.4,1022.3L1938.7,1026.3L1939.0,1028.7L1939.3,1023.5L1939.6,1019.4L1939.8,1029.9L1940.1,1024.5L1940.4,1024.2L1940.7,1023.0L1941.0,1023.4L1941.2,1023.4L1941.5,1024.3L1941.8,1019.3L1942.1,1022.1L1942.4,1024.3L1942.6,1025.3L1942.9,1025.7L1943.2,1026.6L1943.5,1019.9L1943.8,1022.5L1944.0,1023.5L1944.3,1025.9L1944.6,1025.0L1944.9,1031.6L1945.2,1024.4L1945.4,1024.8L1945.7,1020.7L1946.0,1031.0L1946.3,1025.6L1946.6,1025.0L1946.8,1023.3L1947.1,1025.5L1947.4,1024.2L1947.7,1029.1L1948.0,1023.0L1948.2,1024.4L1948.5,1024.3L1948.8,1027.9L1949.1,1027.4L1949.4,1029.6L1949.6,1028.5L1949.9,1028.7L1950.2,1027.2L1950.5,1029.9L1950.8,1028.6L1951.0,1028.0L1951.3,1022.1L1951.6,1025.5L1951.9,1024.8L1952.2,1021.4L1952.4,1031.0L1952.7,1031.6L1953.0,1030.7L1953.3,1029.4L1953.6,1032.4L1953.8,1023.1L1954.1,1032.4L1954.4,1022.6L1954.7,1029.5L1955.0,1029.7L1955.2,1031.1L1955.5,1031.8L1955.8,1032.1L1956.1,1028.0L1956.4,1028.2L1956.6,1027.7L1956.9,1030.6L1957.2,1029.0L1957.5,1024.9L1957.8,1032.3L1958.0,1025.5L1958.3,1026.9L1958.6,1025.7L1958.9,1025.2L1959.2,1028.7L1959.4,1024.5L1959.7,1022.1L1960.0,1024.4L1960.3,1023.3L1960.6,1022.1L1960.8,1029.9L1961.1,1031.1L1961.4,1023.7L1961.7,1033.3L1962.0,1034.6L1962.2,1025.1L1962.5,1030.8L1962.8,1028.8L1963.1,1032.1L1963.4,1020.5L1963.6,1031.0L1963.9,1027.6L1964.2,1029.8L1964.5,1030.7L1964.8,1020.5L1965.0,1027.2L1965.3,1027.2L1965.6,1028.9L1965.9,1030.6L1966.2,1029.6L1966.4,1025.3L1966.7,1030.2L1967.0,1026.3L1967.3,1031.5L1967.6,1029.2L1967.8,1029.7L1968.1,1031.2L1968.4,1026.5L1968.7,1030.7L1969.0,1028.3L1969.2,1034.8L1969.5,1035.8L1969.8,1027.3L1970.1,1024.6L1970.4,1031.7L1970.6,1028.7L1970.9,1027.0L1971.2,1036.2L1971.5,1027.5L1971.7,1025.1L1972.0,1027.0L1972.3,1028.4L1972.6,1032.0L1972.9,1028.0L1973.1,1023.2L1973.4,1025.4L1973.7,1032.3L1974.0,1021.4L1974.3,1026.5L1974.5,1030.1L1974.8,1027.2L1975.1,1025.7L1975.4,1023.6L1975.7,1026.8L1975.9,1028.0L1976.2,1027.2L1976.5,1029.8L1976.8,1027.5L1977.1,1031.1L1977.3,1028.0L1977.6,1030.8L1977.9,1027.5L1978.2,1034.2L1978.5,1033.2L1978.7,1032.0L1979.0,1027.3L1979.3,1031.3L1979.6,1022.1L1979.9,1030.3L1980.1,1032.1L1980.4,1029.2L1980.7,1032.4L1981.0,1034.1L1981.3,1037.7L1981.5,1032.3L1981.8,1027.6L1982.1,1025.2L1982.4,1031.8L1982.7,1034.9L1982.9,1035.5L1983.2,1032.2L1983.5,1029.7L1983.8,1029.3L1984.1,1030.7L1984.3,1031.2L1984.6,1032.4L1984.9,1030.6L1985.2,1035.9L1985.5,1029.8L1985.7,1030.3L1986.0,1031.5L1986.3,1030.6L1986.6,1025.1L1986.9,1021.6L1987.1,1022.0L1987.4,1026.6L1987.7,1026.9L1988.0,1025.9L1988.3,1027.1L1988.5,1028.6L1988.8,1022.3L1989.1,1032.5L1989.4,1033.0L1989.7,1027.2L1989.9,1024.4L1990.2,1025.7L1990.5,1020.5L1990.8,1024.7L1991.1,1021.9L1991.3,1023.8L1991.6,1022.8L1991.9,1029.8L1992.2,1020.5L1992.5,1023.9L1992.7,1021.5L1993.0,1027.4L1993.3,1025.8L1993.6,1017.9L1993.9,1019.7L1994.1,1023.6L1994.4,1021.1L1994.7,1024.5L1995.0,1023.5L1995.3,1020.0L1995.5,1022.5L1995.8,1024.8L1996.1,1023.1L1996.4,1023.6L1996.7,1024.1L1996.9,1022.4L1997.2,1026.6L1997.5,1018.3L1997.8,1023.2L1998.1,1019.7L1998.3,1021.9L1998.6,1022.5L1998.9,1020.9L1999.2,1019.8L1999.5,1018.8L1999.7,1016.6L2000.0,1012.6L2000.3,1013.9L2000.6,1012.8L2000.9,1010.6L2001.1,1006.9L2001.4,1005.0L2001.7,996.0L2002.0,997.8L2002.3,997.8L2002.5,999.6L2002.8,998.2L2003.1,992.8L2003.4,986.7L2003.7,989.5L2003.9,988.8L2004.2,985.6L2004.5,978.5L2004.8,974.8L2005.1,972.8L2005.3,969.7L2005.6,973.8L2005.9,969.1L2006.2,972.7L2006.5,968.7L2006.7,964.6L2007.0,957.3L2007.3,960.0L2007.6,958.1L2007.9,951.1L2008.1,951.0L2008.4,952.5L2008.7,959.2L2009.0,954.3L2009.3,951.8L2009.5,957.5L2009.8,960.3L2010.1,955.8L2010.4,967.2L2010.7,960.1L2010.9,967.4L2011.2,967.6L2011.5,964.5L2011.8,967.9L2012.1,969.7L2012.3,969.8L2012.6,974.7L2012.9,973.6L2013.2,969.0L2013.5,976.0L2013.7,973.1L2014.0,977.1L2014.3,979.7L2014.6,979.8L2014.9,984.7L2015.1,982.6L2015.4,982.7L2015.7,991.2L2016.0,989.9L2016.3,988.9L2016.5,991.1L2016.8,991.5L2017.1,994.8L2017.4,993.2L2017.7,1003.4L2017.9,1003.3L2018.2,993.9L2018.5,999.4L2018.8,1003.6L2019.1,1003.1L2019.3,999.7L2019.6,1009.7L2019.9,1004.9L2020.2,1011.6L2020.5,1011.8L2020.7,1015.8L2021.0,1008.9L2021.3,1017.8L2021.6,1008.7L2021.9,1017.5L2022.1,1016.3L2022.4,1014.6L2022.7,1010.0L2023.0,1018.5L2023.3,1016.1L2023.5,1008.7L2023.8,1006.0L2024.1,1012.3L2024.4,1012.0L2024.7,1017.2L2024.9,1015.8L2025.2,1016.8L2025.5,1014.5L2025.8,1019.3L2026.1,1014.8L2026.3,1012.0L2026.6,1009.3L2026.9,1018.2L2027.2,1014.6L2027.5,1011.0L2027.7,1013.5L2028.0,1014.9L2028.3,1018.2L2028.6,1009.5L2028.9,1014.9L2029.1,1018.7L2029.4,1018.0L2029.7,1019.2L2030.0,1022.8L2030.3,1014.0L2030.5,1014.5L2030.8,1019.2L2031.1,1020.3L2031.4,1015.4L2031.7,1012.3L2031.9,1008.4L2032.2,1012.5L2032.5,1010.1L2032.8,1004.0L2033.1,1003.9L2033.3,1000.6L2033.6,1003.5L2033.9,999.3L2034.2,1001.7L2034.5,1000.2L2034.7,995.2L2035.0,996.5L2035.3,995.0L2035.6,995.8L2035.9,989.4L2036.1,993.3L2036.4,998.0L2036.7,995.5L2037.0,993.7L2037.3,997.5L2037.5,1005.7L2037.8,999.0L2038.1,999.8L2038.4,1006.0L2038.7,1003.1L2038.9,1000.2L2039.2,1000.8L2039.5,1006.1L2039.8,1004.2L2040.1,1010.7L2040.3,1004.0L2040.6,1001.2L2040.9,1002.8L2041.2,1001.2L2041.5,1008.7L2041.7,1002.8L2042.0,1010.5L2042.3,1008.4L2042.6,1014.1L2042.9,1008.8L2043.1,1013.4L2043.4,1005.9L2043.7,1012.7L2044.0,1013.6L2044.3,1021.2L2044.5,1018.8L2044.8,1022.8L2045.1,1019.7L2045.4,1019.0L2045.7,1023.7L2045.9,1028.8L2046.2,1025.2L2046.5,1030.7L2046.8,1025.3L2047.1,1025.6L2047.3,1025.9L2047.6,1026.4L2047.9,1025.4L2048.2,1027.0L2048.5,1025.5L2048.7,1025.2L2049.0,1033.4L2049.3,1031.7L2049.6,1028.5L2049.9,1027.9L2050.1,1025.3L2050.4,1032.3L2050.7,1028.7L2051.0,1036.9L2051.2,1025.7L2051.5,1032.2L2051.8,1034.8L2052.1,1029.4L2052.4,1037.1L2052.6,1033.7L2052.9,1033.5L2053.2,1027.5L2053.5,1033.1L2053.8,1032.9L2054.0,1030.0L2054.3,1035.0L2054.6,1030.5L2054.9,1022.4L2055.2,1030.5L2055.4,1034.9L2055.7,1027.9L2056.0,1032.3L2056.3,1028.3L2056.6,1030.6L2056.8,1022.6L2057.1,1025.7L2057.4,1030.7L2057.7,1030.1L2058.0,1026.4L2058.2,1034.5L2058.5,1033.5L2058.8,1029.7L2059.1,1026.0L2059.4,1033.9L2059.6,1030.4L2059.9,1033.8L2060.2,1034.6L2060.5,1029.5L2060.8,1029.4L2061.0,1031.9L2061.3,1028.3L2061.6,1022.6L2061.9,1030.2L2062.2,1029.1L2062.4,1026.2L2062.7,1029.6L2063.0,1026.9L2063.3,1027.0L2063.6,1030.9L2063.8,1024.5L2064.1,1024.0L2064.4,1028.7L2064.7,1025.3L2065.0,1032.2L2065.2,1027.3L2065.5,1024.4L2065.8,1028.5L2066.1,1022.9L2066.4,1034.0L2066.6,1029.8L2066.9,1032.0L2067.2,1031.5L2067.5,1030.6L2067.8,1026.8L2068.0,1032.5L2068.3,1029.1L2068.6,1027.9L2068.9,1024.0L2069.2,1034.3L2069.4,1029.8L2069.7,1029.4L2070.0,1025.0L2070.3,1034.0L2070.6,1031.0L2070.8,1034.7L2071.1,1031.7L2071.4,1029.4L2071.7,1033.8L2072.0,1027.3L2072.2,1027.2L2072.5,1031.6L2072.8,1033.8L2073.1,1034.7L2073.4,1030.7L2073.6,1030.4L2073.9,1031.3L2074.2,1030.0L2074.5,1029.2L2074.8,1032.4L2075.0,1029.5L2075.3,1030.7L2075.6,1035.3L2075.9,1032.6L2076.2,1030.6L2076.4,1034.5L2076.7,1032.1L2077.0,1034.8L2077.3,1030.2L2077.6,1030.5L2077.8,1028.6L2078.1,1036.5L2078.4,1037.5L2078.7,1037.0L2079.0,1034.5L2079.2,1034.1L2079.5,1032.9L2079.8,1035.4L2080.1,1033.1L2080.4,1030.4L2080.6,1036.4L2080.9,1035.8L2081.2,1034.3L2081.5,1032.1L2081.8,1030.7L2082.0,1031.6L2082.3,1031.4L2082.6,1026.7L2082.9,1028.3L2083.2,1025.9L2083.4,1032.1L2083.7,1024.2L2084.0,1024.3L2084.3,1025.0L2084.6,1028.0L2084.8,1024.7L2085.1,1032.9L2085.4,1030.0L2085.7,1020.7L2086.0,1029.0L2086.2,1029.7L2086.5,1025.2L2086.8,1029.2L2087.1,1030.1L2087.4,1028.2L2087.6,1030.1L2087.9,1031.7L2088.2,1029.2L2088.5,1030.7L2088.8,1027.3L2089.0,1033.0L2089.3,1029.2L2089.6,1035.0L2089.9,1037.8L2090.2,1036.9L2090.4,1030.7L2090.7,1033.7L2091.0,1032.0L2091.3,1034.6L2091.6,1031.0L2091.8,1030.7L2092.1,1033.8L2092.4,1031.7L2092.7,1038.0L2093.0,1036.6L2093.2,1035.5L2093.5,1034.1L2093.8,1034.1L2094.1,1037.7L2094.4,1035.1L2094.6,1035.0L2094.9,1040.8L2095.2,1035.6L2095.5,1034.4L2095.8,1034.5L2096.0,1038.9L2096.3,1033.3L2096.6,1033.0L2096.9,1037.3L2097.2,1036.9L2097.4,1037.0L2097.7,1029.4L2098.0,1032.6L2098.3,1028.9L2098.6,1031.3L2098.8,1024.8L2099.1,1028.7L2099.4,1032.5L2099.7,1029.9L2100.0,1022.2L2100.2,1032.9L2100.5,1031.6L2100.8,1030.2L2101.1,1031.7L2101.4,1031.3L2101.6,1036.3L2101.9,1033.2L2102.2,1028.7L2102.5,1031.1L2102.8,1038.7L2103.0,1037.1L2103.3,1035.9L2103.6,1030.8L2103.9,1034.5L2104.2,1035.6L2104.4,1032.3L2104.7,1033.7L2105.0,1034.5L2105.3,1033.7L2105.6,1031.5L2105.8,1031.1L2106.1,1025.7L2106.4,1028.3L2106.7,1031.6L2107.0,1034.3L2107.2,1029.7L2107.5,1032.7L2107.8,1029.7L2108.1,1027.0L2108.4,1031.6L2108.6,1032.0L2108.9,1028.1L2109.2,1028.5L2109.5,1031.4L2109.8,1029.9L2110.0,1033.1L2110.3,1027.5L2110.6,1034.2L2110.9,1030.0L2111.2,1033.0L2111.4,1027.4L2111.7,1035.2L2112.0,1033.2L2112.3,1039.3L2112.6,1028.1L2112.8,1027.9L2113.1,1035.9L2113.4,1036.6L2113.7,1028.6L2114.0,1035.7L2114.2,1036.9L2114.5,1038.2L2114.8,1034.1L2115.1,1028.7L2115.4,1027.2L2115.6,1039.1L2115.9,1033.6L2116.2,1035.2L2116.5,1031.1L2116.8,1031.4L2117.0,1031.6L2117.3,1029.6L2117.6,1031.9L2117.9,1029.8L2118.2,1032.2L2118.4,1037.2L2118.7,1034.2L2119.0,1032.2L2119.3,1039.6L2119.6,1038.4L2119.8,1034.5L2120.1,1029.0L2120.4,1038.1L2120.7,1038.0L2121.0,1032.1L2121.2,1038.1L2121.5,1031.2L2121.8,1032.8L2122.1,1032.2L2122.4,1034.1L2122.6,1033.1L2122.9,1037.7L2123.2,1032.2L2123.5,1034.4L2123.8,1033.0L2124.0,1033.3L2124.3,1029.7L2124.6,1031.7L2124.9,1035.6L2125.2,1033.5L2125.4,1027.0L2125.7,1028.9L2126.0,1026.8L2126.3,1027.3L2126.6,1027.4L2126.8,1025.5L2127.1,1030.6L2127.4,1032.0L2127.7,1029.7L2128.0,1027.9L2128.2,1029.8L2128.5,1027.0L2128.8,1032.4L2129.1,1036.2L2129.3,1020.8L2129.6,1029.9L2129.9,1028.7L2130.2,1029.0L2130.5,1027.4L2130.7,1023.6L2131.0,1027.8L2131.3,1026.8L2131.6,1027.6L2131.9,1028.0L2132.1,1026.7L2132.4,1035.3L2132.7,1024.7L2133.0,1027.6L2133.3,1025.1L2133.5,1028.8L2133.8,1034.2L2134.1,1029.6L2134.4,1027.4L2134.7,1026.0L2134.9,1031.7L2135.2,1027.8L2135.5,1031.7L2135.8,1027.4L2136.1,1027.6L2136.3,1028.5L2136.6,1023.3L2136.9,1031.4L2137.2,1023.8L2137.5,1027.3L2137.7,1027.9L2138.0,1033.5L2138.3,1027.7L2138.6,1029.0L2138.9,1025.1L2139.1,1026.6L2139.4,1027.4L2139.7,1031.2L2140.0,1025.4L2140.3,1030.0L2140.5,1037.7L2140.8,1026.3L2141.1,1023.7L2141.4,1027.5L2141.7,1028.5L2141.9,1033.5L2142.2,1029.4L2142.5,1030.7L2142.8,1024.4L2143.1,1025.6L2143.3,1025.7L2143.6,1021.3L2143.9,1023.8L2144.2,1021.1L2144.5,1021.6L2144.7,1015.6L2145.0,1012.6L2145.3,1022.0L2145.6,1016.9L2145.9,1015.5L2146.1,1022.8L2146.4,1017.2L2146.7,1014.8L2147.0,1011.0L2147.3,1014.0L2147.5,1013.7L2147.8,1012.6L2148.1,1018.4L2148.4,1017.1L2148.7,1017.4L2148.9,1014.2L2149.2,1015.6L2149.5,1022.2L2149.8,1020.5L2150.1,1019.1L2150.3,1022.7L2150.6,1022.7L2150.9,1022.1L2151.2,1023.7L2151.5,1027.2L2151.7,1026.6L2152.0,1023.6L2152.3,1024.5L2152.6,1028.2L2152.9,1024.6L2153.1,1028.6L2153.4,1028.2L2153.7,1025.0L2154.0,1022.0L2154.3,1026.9L2154.5,1029.6L2154.8,1029.7L2155.1,1033.6L2155.4,1029.9L2155.7,1029.6L2155.9,1031.0L2156.2,1028.6L2156.5,1035.1" stroke="#56B4E9" stroke-width="6"/>
</g>
<text x="198.5" y="1773" font-size="84" letter-spacing="-1" text-anchor="middle">10</text>
<text x="476.4" y="1773" font-size="84" letter-spacing="-1" text-anchor="middle">20</text>
<text x="756.4" y="1773" font-size="84" letter-spacing="-1" text-anchor="middle">30</text>
<text x="1036.3" y="1773" font-size="84" letter-spacing="-1" text-anchor="middle">40</text>
<text x="1316.2" y="1773" font-size="84" letter-spacing="-1" text-anchor="middle">50</text>
<text x="1596.1" y="1773" font-size="84" letter-spacing="-1" text-anchor="middle">60</text>
<text x="1876.1" y="1773" font-size="84" letter-spacing="-1" text-anchor="middle">70</text>
<text x="2156.0" y="1773" font-size="84" letter-spacing="-1" text-anchor="middle">80</text>
<text x="1177" y="1876.5" font-size="84" text-anchor="middle">2θ (°)</text>
<text transform="translate(85,796) rotate(-90)" font-size="84" letter-spacing="-0.33" text-anchor="middle">Intensity (a.u.)</text>
<rect x="226" y="106" width="191" height="6" fill="#E69F00" shape-rendering="crispEdges"/>
<rect x="226" y="207" width="191" height="6" fill="#56B4E9" shape-rendering="crispEdges"/>
<text x="435" y="137" font-size="84" letter-spacing="-0.46">CNT-CS</text>
<text x="432" y="238.5" font-size="84" letter-spacing="-0.48">NiFe<tspan font-size="56" dy="22">2</tspan><tspan dy="-22">O</tspan><tspan font-size="56" dy="22">4</tspan></text>
<text x="1317" y="157" font-size="83">NiFe<tspan font-size="56" dy="22">2</tspan><tspan dy="-22">O</tspan><tspan font-size="56" dy="22">4</tspan><tspan dy="-22"> (96-591-0065)</tspan></text>
<text x="1319" y="288.5" font-size="83">Graphite (96-901-2231)</text>
<text x="1319" y="399" font-size="83">Others</text>
<text class="ds" transform="translate(1266.90,159.00) scale(0.7141,0.6351)" font-size="100" text-anchor="middle">♣</text>
<text class="ds" transform="translate(1267.40,291.00) scale(0.6028,0.6502)" font-size="100" text-anchor="middle">♥</text>
<text class="ds" transform="translate(1267.19,402.17) scale(0.6888,0.6648)" font-size="100" text-anchor="middle">♦</text>
<text class="ds" transform="translate(777.00,791.00) scale(0.8593,0.7725)" font-size="100" text-anchor="middle">♣</text>
<text class="ds" transform="translate(925.90,153.10) scale(0.8593,0.7725)" font-size="100" text-anchor="middle">♣</text>
<text class="ds" transform="translate(985.90,948.10) scale(0.8593,0.7725)" font-size="100" text-anchor="middle">♣</text>
<text class="ds" transform="translate(1145.00,792.20) scale(0.8593,0.7725)" font-size="100" text-anchor="middle">♣</text>
<text class="ds" transform="translate(1435.00,934.10) scale(0.8593,0.7725)" font-size="100" text-anchor="middle">♣</text>
<text class="ds" transform="translate(1531.00,750.10) scale(0.8593,0.7725)" font-size="100" text-anchor="middle">♣</text>
<text class="ds" transform="translate(1691.00,598.10) scale(0.8593,0.7725)" font-size="100" text-anchor="middle">♣</text>
<text class="ds" transform="translate(1930.00,984.10) scale(0.8593,0.7725)" font-size="100" text-anchor="middle">♣</text>
<text class="ds" transform="translate(2019.00,938.10) scale(0.8593,0.7725)" font-size="100" text-anchor="middle">♣</text>
<text class="ds" transform="translate(2148.00,1004.10) scale(0.8593,0.7725)" font-size="100" text-anchor="middle">♣</text>
<text class="ds" transform="translate(655.00,1179.10) scale(0.7264,0.7863)" font-size="100" text-anchor="middle">♥</text>
<text class="ds" transform="translate(1150.00,1407.00) scale(0.7264,0.7863)" font-size="100" text-anchor="middle">♥</text>
<text class="ds" transform="translate(1216.00,1553.10) scale(0.7264,0.7863)" font-size="100" text-anchor="middle">♥</text>
<text class="ds" transform="translate(1359.00,1555.10) scale(0.7264,0.7863)" font-size="100" text-anchor="middle">♥</text>
<text class="ds" transform="translate(971.10,1583.30) scale(0.8287,0.8193)" font-size="100" text-anchor="middle">♦</text>
<text class="ds" transform="translate(1800.10,1576.30) scale(0.8287,0.8193)" font-size="100" text-anchor="middle">♦</text>
</svg>
</body></html>
